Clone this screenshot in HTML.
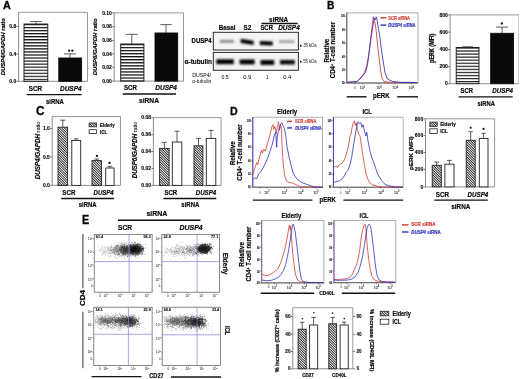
<!DOCTYPE html><html><head><meta charset="utf-8"><style>html,body{margin:0;padding:0;background:#fff;}svg{display:block;font-family:"Liberation Sans", sans-serif;}</style></head><body>
<svg width="520" height="379" viewBox="0 0 520 379">
<defs><pattern id="stripe" patternUnits="userSpaceOnUse" x="0" y="0.3" width="4" height="3.05"><rect width="4" height="3.05" fill="#fff"/><rect y="0" width="4" height="1.2" fill="#111"/></pattern><pattern id="hatch" patternUnits="userSpaceOnUse" width="1.75" height="4" patternTransform="rotate(-45)"><rect width="1.75" height="4" fill="#fff"/><rect width="0.85" height="4" fill="#1a1a1a"/></pattern><filter id="blur1" x="-50%" y="-50%" width="200%" height="200%"><feGaussianBlur stdDeviation="1.6"/></filter><filter id="blur2" x="-50%" y="-50%" width="200%" height="200%" color-interpolation-filters="sRGB"><feGaussianBlur stdDeviation="2.6"/></filter><filter id="bandblur" x="-20%" y="-80%" width="140%" height="260%" color-interpolation-filters="sRGB"><feGaussianBlur stdDeviation="0.85"/></filter><filter id="gs" x="0" y="0" width="100%" height="100%" color-interpolation-filters="sRGB"><feOffset dx="0" dy="0"/></filter><filter id="soft" x="-5%" y="-5%" width="110%" height="110%"><feGaussianBlur stdDeviation="0.35"/></filter></defs>
<rect width="520" height="379" fill="#fff"/>
<g filter="url(#gs)">
<text x="2.9" y="8.79" font-size="10.6" font-weight="bold" textLength="7.8" lengthAdjust="spacingAndGlyphs" stroke="#111" stroke-width="0.3">A</text>
<line x1="18.6" y1="12.3" x2="87.5" y2="12.3" stroke="#999" stroke-width="1"/>
<line x1="87.5" y1="12.3" x2="87.5" y2="81.3" stroke="#999" stroke-width="1"/>
<line x1="18.6" y1="12.3" x2="18.6" y2="81.3" stroke="#808080" stroke-width="0.9"/>
<line x1="18.6" y1="81.3" x2="87.5" y2="81.3" stroke="#808080" stroke-width="0.9"/>
<line x1="16.6" y1="81.3" x2="18.6" y2="81.3" stroke="#555" stroke-width="0.8"/>
<text x="16.3" y="83.09" font-size="5" font-weight="bold" text-anchor="end" stroke="#111" stroke-width="0.12">0.0</text>
<line x1="16.6" y1="54" x2="18.6" y2="54" stroke="#555" stroke-width="0.8"/>
<text x="16.3" y="55.79" font-size="5" font-weight="bold" text-anchor="end" stroke="#111" stroke-width="0.12">0.4</text>
<line x1="16.6" y1="26.5" x2="18.6" y2="26.5" stroke="#555" stroke-width="0.8"/>
<text x="16.3" y="28.29" font-size="5" font-weight="bold" text-anchor="end" stroke="#111" stroke-width="0.12">0.8</text>
<text transform="translate(5.25 75.3) rotate(-90)" x="0" y="0" font-size="6" font-weight="bold" stroke="#111" stroke-width="0.22" textLength="57.3" lengthAdjust="spacingAndGlyphs"><tspan font-style="italic">DUSP4/GAPDH</tspan> ratio</text>
<pattern id="st1" patternUnits="userSpaceOnUse" x="0" y="23.9" width="4" height="3.05"><rect width="4" height="3.05" fill="#fff"/><rect y="0" width="4" height="1.2" fill="#111"/></pattern>
<rect x="24" y="24" width="23.8" height="57.3" fill="url(#st1)" stroke="#111" stroke-width="0.9"/>
<line x1="36" y1="24" x2="36" y2="21.5" stroke="#333" stroke-width="0.8"/>
<line x1="30" y1="21.5" x2="42" y2="21.5" stroke="#333" stroke-width="0.8"/>
<rect x="58.8" y="58" width="22.8" height="23.3" fill="#0a0a0a" stroke="#0a0a0a" stroke-width="0.9"/>
<line x1="70" y1="58" x2="70" y2="53.9" stroke="#333" stroke-width="0.8"/>
<line x1="64" y1="53.9" x2="76" y2="53.9" stroke="#333" stroke-width="0.8"/>
<circle cx="69.2" cy="50.7" r="1.15" fill="#111"/>
<circle cx="72.4" cy="50.7" r="1.15" fill="#111"/>
<text x="28.7" y="90.96" font-size="6.6" font-weight="bold" stroke="#111" stroke-width="0.18" textLength="13.3" lengthAdjust="spacingAndGlyphs">SCR</text>
<text x="60" y="90.96" font-size="6.6" font-weight="bold" font-style="italic" stroke="#111" stroke-width="0.18" textLength="21.6" lengthAdjust="spacingAndGlyphs">DUSP4</text>
<line x1="26.7" y1="94.6" x2="81.6" y2="94.6" stroke="#111" stroke-width="1.4"/>
<text x="46" y="103.66" font-size="6.6" font-weight="bold" stroke="#111" stroke-width="0.18" textLength="17.8" lengthAdjust="spacingAndGlyphs">siRNA</text>
<line x1="114.2" y1="12.9" x2="183.5" y2="12.9" stroke="#999" stroke-width="1"/>
<line x1="183.5" y1="12.9" x2="183.5" y2="81.1" stroke="#999" stroke-width="1"/>
<line x1="114.2" y1="12.9" x2="114.2" y2="81.1" stroke="#808080" stroke-width="0.9"/>
<line x1="114.2" y1="81.1" x2="183.5" y2="81.1" stroke="#808080" stroke-width="0.9"/>
<line x1="112.2" y1="81.1" x2="114.2" y2="81.1" stroke="#555" stroke-width="0.8"/>
<text x="111.9" y="82.89" font-size="5" font-weight="bold" text-anchor="end" stroke="#111" stroke-width="0.12">0.00</text>
<line x1="112.2" y1="67.3" x2="114.2" y2="67.3" stroke="#555" stroke-width="0.8"/>
<text x="111.9" y="69.09" font-size="5" font-weight="bold" text-anchor="end" stroke="#111" stroke-width="0.12">0.02</text>
<line x1="112.2" y1="53.9" x2="114.2" y2="53.9" stroke="#555" stroke-width="0.8"/>
<text x="111.9" y="55.69" font-size="5" font-weight="bold" text-anchor="end" stroke="#111" stroke-width="0.12">0.04</text>
<line x1="112.2" y1="40.6" x2="114.2" y2="40.6" stroke="#555" stroke-width="0.8"/>
<text x="111.9" y="42.39" font-size="5" font-weight="bold" text-anchor="end" stroke="#111" stroke-width="0.12">0.06</text>
<line x1="112.2" y1="26.7" x2="114.2" y2="26.7" stroke="#555" stroke-width="0.8"/>
<text x="111.9" y="28.49" font-size="5" font-weight="bold" text-anchor="end" stroke="#111" stroke-width="0.12">0.08</text>
<line x1="112.2" y1="12.9" x2="114.2" y2="12.9" stroke="#555" stroke-width="0.8"/>
<text x="111.9" y="14.69" font-size="5" font-weight="bold" text-anchor="end" stroke="#111" stroke-width="0.12">0.10</text>
<text transform="translate(96.55 75.3) rotate(-90)" x="0" y="0" font-size="6" font-weight="bold" stroke="#111" stroke-width="0.22" textLength="56.9" lengthAdjust="spacingAndGlyphs"><tspan font-style="italic">DUSP6/GAPDH</tspan> ratio</text>
<pattern id="st2" patternUnits="userSpaceOnUse" x="0" y="43.9" width="4" height="3.05"><rect width="4" height="3.05" fill="#fff"/><rect y="0" width="4" height="1.2" fill="#111"/></pattern>
<rect x="120.7" y="44" width="23.2" height="37.1" fill="url(#st2)" stroke="#111" stroke-width="0.9"/>
<line x1="131.8" y1="44" x2="131.8" y2="34.3" stroke="#333" stroke-width="0.8"/>
<line x1="125.7" y1="34.3" x2="137.9" y2="34.3" stroke="#333" stroke-width="0.8"/>
<rect x="155" y="33" width="22.7" height="48.1" fill="#0a0a0a" stroke="#0a0a0a" stroke-width="0.9"/>
<line x1="166" y1="33" x2="166" y2="24.6" stroke="#333" stroke-width="0.8"/>
<line x1="160.3" y1="24.6" x2="171.7" y2="24.6" stroke="#333" stroke-width="0.8"/>
<text x="124" y="90.36" font-size="6.6" font-weight="bold" stroke="#111" stroke-width="0.18" textLength="13" lengthAdjust="spacingAndGlyphs">SCR</text>
<text x="155.3" y="90.36" font-size="6.6" font-weight="bold" font-style="italic" stroke="#111" stroke-width="0.18" textLength="21.7" lengthAdjust="spacingAndGlyphs">DUSP4</text>
<line x1="122.7" y1="94" x2="176" y2="94" stroke="#111" stroke-width="1.4"/>
<text x="139" y="102.76" font-size="6.6" font-weight="bold" stroke="#111" stroke-width="0.18" textLength="20" lengthAdjust="spacingAndGlyphs">siRNA</text>
<text x="269.1" y="21.66" font-size="6.6" font-weight="bold" stroke="#111" stroke-width="0.18" textLength="19.1" lengthAdjust="spacingAndGlyphs">siRNA</text>
<line x1="261.5" y1="23.5" x2="297.7" y2="23.5" stroke="#111" stroke-width="1.4"/>
<text x="218.7" y="30.36" font-size="6.6" font-weight="bold" stroke="#111" stroke-width="0.18" textLength="16.7" lengthAdjust="spacingAndGlyphs">Basal</text>
<text x="243.5" y="30.36" font-size="6.6" font-weight="bold" stroke="#111" stroke-width="0.18" textLength="7.8" lengthAdjust="spacingAndGlyphs">S2</text>
<text x="260.4" y="30.36" font-size="6.6" font-weight="bold" stroke="#111" stroke-width="0.18" textLength="12.6" lengthAdjust="spacingAndGlyphs">SCR</text>
<text x="278.2" y="30.36" font-size="6.6" font-weight="bold" font-style="italic" stroke="#111" stroke-width="0.18" textLength="21.6" lengthAdjust="spacingAndGlyphs">DUSP4</text>
<rect x="213.3" y="32.3" width="85.1" height="17.7" fill="#f5f5f5" stroke="#2a2a2a" stroke-width="1"/>
<rect x="213.3" y="52.4" width="85.1" height="17.9" fill="#f3f3f3" stroke="#2a2a2a" stroke-width="1"/>
<path d="M219.8 40 L233.8 40 L233.8 42.8 L219.8 42.8 Z" fill="#888" filter="url(#bandblur)"/>
<path d="M240.6 38.7 L253.6 40.7 L253.6 44.9 L240.6 42.9 Z" fill="#050505" filter="url(#bandblur)"/>
<path d="M259.8 41.1 L272.7 41.5 L272.7 45.5 L259.8 45.1 Z" fill="#000" filter="url(#bandblur)"/>
<path d="M279 40.25 L294.3 40.25 L294.3 42.95 L279 42.95 Z" fill="#a0a0a0" filter="url(#bandblur)"/>
<path d="M216.3 59.25 L233.8 59.25 L233.8 64.15 L216.3 64.15 Z" fill="#000" filter="url(#bandblur)"/>
<path d="M239.6 59.45 L254.6 59.45 L254.6 64.35 L239.6 64.35 Z" fill="#000" filter="url(#bandblur)"/>
<path d="M260.5 60.05 L274.2 60.05 L274.2 64.95 L260.5 64.95 Z" fill="#000" filter="url(#bandblur)"/>
<path d="M280 59.95 L294.8 59.95 L294.8 64.45 L280 64.45 Z" fill="#080808" filter="url(#bandblur)"/>
<text x="191.6" y="43.09" font-size="6.4" font-weight="bold" stroke="#111" stroke-width="0.18" textLength="20.1" lengthAdjust="spacingAndGlyphs">DUSP4</text>
<text x="184.6" y="63.59" font-size="6.4" font-weight="bold" stroke="#111" stroke-width="0.18" textLength="27.4" lengthAdjust="spacingAndGlyphs">&#945;-tubulin</text>
<text x="300.4" y="47.15" font-size="4.6" fill="#222" textLength="16.3" lengthAdjust="spacingAndGlyphs">&#9656;35 kDa</text>
<text x="300.4" y="63.45" font-size="4.6" fill="#222" textLength="16.3" lengthAdjust="spacingAndGlyphs">&#9656;55 kDa</text>
<text x="192.2" y="77.1" font-size="5.3" textLength="18.8" lengthAdjust="spacingAndGlyphs">DUSP4/</text>
<text x="192.2" y="82.9" font-size="5.3" textLength="19.2" lengthAdjust="spacingAndGlyphs">&#945;-tubulin</text>
<text x="221.5" y="78.8" font-size="5.3" textLength="7.3" lengthAdjust="spacingAndGlyphs">0.5</text>
<text x="243.2" y="78.7" font-size="5.3" textLength="8.1" lengthAdjust="spacingAndGlyphs">0.9</text>
<text x="265.9" y="78.7" font-size="5.3" textLength="2.5" lengthAdjust="spacingAndGlyphs">1</text>
<text x="283.3" y="78.7" font-size="5.3" textLength="8" lengthAdjust="spacingAndGlyphs">0.4</text>
<text x="327.1" y="8.89" font-size="10.6" font-weight="bold" textLength="7.4" lengthAdjust="spacingAndGlyphs" stroke="#111" stroke-width="0.3">B</text>
<rect x="346.8" y="12.9" width="71.2" height="70.1" fill="none" stroke="#999" stroke-width="0.8"/>
<line x1="346.8" y1="12.9" x2="346.8" y2="83" stroke="#555" stroke-width="0.9"/>
<line x1="346.8" y1="83" x2="418" y2="83" stroke="#555" stroke-width="0.9"/>
<line x1="345.3" y1="83" x2="346.8" y2="83" stroke="#555" stroke-width="0.7"/>
<text x="342.12" y="84.29" font-size="3.6" font-weight="bold" textLength="2.68" lengthAdjust="spacingAndGlyphs" stroke="#333" stroke-width="0.1">0</text>
<line x1="345.3" y1="69.7" x2="346.8" y2="69.7" stroke="#555" stroke-width="0.7"/>
<text x="342.12" y="70.99" font-size="3.6" font-weight="bold" textLength="2.68" lengthAdjust="spacingAndGlyphs" stroke="#333" stroke-width="0.1">20</text>
<line x1="345.3" y1="56.4" x2="346.8" y2="56.4" stroke="#555" stroke-width="0.7"/>
<text x="342.12" y="57.69" font-size="3.6" font-weight="bold" textLength="2.68" lengthAdjust="spacingAndGlyphs" stroke="#333" stroke-width="0.1">40</text>
<line x1="345.3" y1="43.2" x2="346.8" y2="43.2" stroke="#555" stroke-width="0.7"/>
<text x="342.12" y="44.49" font-size="3.6" font-weight="bold" textLength="2.68" lengthAdjust="spacingAndGlyphs" stroke="#333" stroke-width="0.1">60</text>
<line x1="345.3" y1="29.7" x2="346.8" y2="29.7" stroke="#555" stroke-width="0.7"/>
<text x="342.12" y="30.99" font-size="3.6" font-weight="bold" textLength="2.68" lengthAdjust="spacingAndGlyphs" stroke="#333" stroke-width="0.1">80</text>
<line x1="345.3" y1="16.2" x2="346.8" y2="16.2" stroke="#555" stroke-width="0.7"/>
<text x="340.8" y="17.49" font-size="3.6" font-weight="bold" textLength="4" lengthAdjust="spacingAndGlyphs" stroke="#333" stroke-width="0.1">100</text>
<line x1="355.2" y1="83" x2="355.2" y2="84.5" stroke="#555" stroke-width="0.7"/>
<line x1="362.6" y1="83" x2="362.6" y2="84.5" stroke="#555" stroke-width="0.7"/>
<line x1="379" y1="83" x2="379" y2="84.5" stroke="#555" stroke-width="0.7"/>
<line x1="395.2" y1="83" x2="395.2" y2="84.5" stroke="#555" stroke-width="0.7"/>
<line x1="411.5" y1="83" x2="411.5" y2="84.5" stroke="#555" stroke-width="0.7"/>
<text x="354.3" y="89.39" font-size="3.6" fill="#333" textLength="1.8" lengthAdjust="spacingAndGlyphs">0</text>
<text x="362.6" y="89.4" font-size="3.6" fill="#333" stroke="#333" stroke-width="0.1" text-anchor="middle">10<tspan dy="-1.4" font-size="2.6">2</tspan></text>
<text x="379" y="89.4" font-size="3.6" fill="#333" stroke="#333" stroke-width="0.1" text-anchor="middle">10<tspan dy="-1.4" font-size="2.6">3</tspan></text>
<text x="395.2" y="89.4" font-size="3.6" fill="#333" stroke="#333" stroke-width="0.1" text-anchor="middle">10<tspan dy="-1.4" font-size="2.6">4</tspan></text>
<text x="411.5" y="89.4" font-size="3.6" fill="#333" stroke="#333" stroke-width="0.1" text-anchor="middle">10<tspan dy="-1.4" font-size="2.6">5</tspan></text>
<text transform="translate(328.69 62.5) rotate(-90)" x="0" y="0" font-size="6.4" font-weight="bold" stroke="#111" stroke-width="0.22" textLength="23.8" lengthAdjust="spacingAndGlyphs">Relative</text>
<text transform="translate(334.83 78.3) rotate(-90)" x="0" y="0" font-size="6.8" font-weight="bold" stroke="#111" stroke-width="0.22" textLength="56.4" lengthAdjust="spacingAndGlyphs">CD4<tspan font-size="4.2" dy="-1.8">+</tspan><tspan dy="1.8"> T-cell number</tspan></text>
<path d="M347 82.3 L356.7 81.6 L359 79.5 L361.6 76.5 L364.5 72.5 L366.5 66.7 L368.4 56.9 L370.4 41.3 L372 27.6 L373 18.8 L373.3 16.9 L374.3 19.8 L375.2 24 L376.3 31.5 L377.8 47.2 L379.2 58.9 L380.7 70.6 L382.1 78.4 L384 81.6 L390 82.3 L417 82.5" fill="none" stroke="#d03a30" stroke-width="0.85" stroke-linejoin="round"/>
<path d="M347 82.3 L356.7 81.6 L360.6 78.4 L363.6 74.5 L365.5 72.5 L367.5 64.7 L369.4 51.1 L371.4 35.4 L373.3 23.7 L374.3 17.9 L375.3 19.8 L376.3 16.9 L377.2 20.8 L378.6 29.6 L379.8 36.4 L381.1 47.2 L383.1 60.8 L385 72.5 L387 78.4 L389.9 80.3 L392.9 81.6 L400 82.3 L417 82.5" fill="none" stroke="#3030c0" stroke-width="0.85" stroke-linejoin="round"/>
<line x1="380.4" y1="17.8" x2="386.3" y2="17.8" stroke="#d03a30" stroke-width="1.4"/>
<text x="388.3" y="19.66" font-size="5.2" font-weight="bold" fill="#d03a30" stroke="#d03a30" stroke-width="0.18" textLength="21.7" lengthAdjust="spacingAndGlyphs">SCR siRNA</text>
<line x1="380.4" y1="25.1" x2="386.3" y2="25.1" stroke="#3030c0" stroke-width="1.4"/>
<text x="388.3" y="26.96" font-size="5.2" font-weight="bold" fill="#3030c0" stroke="#3030c0" stroke-width="0.18" textLength="27.3" lengthAdjust="spacingAndGlyphs"><tspan font-style="italic">DUSP4</tspan> siRNA</text>
<text x="373" y="98.23" font-size="6.8" font-weight="bold" stroke="#111" stroke-width="0.18" textLength="16.7" lengthAdjust="spacingAndGlyphs">pERK</text>
<line x1="346.7" y1="96.8" x2="366.5" y2="96.8" stroke="#111" stroke-width="1.4"/>
<line x1="397.2" y1="96.8" x2="418" y2="96.8" stroke="#111" stroke-width="1.4"/>
<line x1="450.1" y1="14.9" x2="519" y2="14.9" stroke="#999" stroke-width="1"/>
<line x1="519" y1="14.9" x2="519" y2="83.7" stroke="#999" stroke-width="1"/>
<line x1="450.1" y1="14.9" x2="450.1" y2="83.7" stroke="#808080" stroke-width="0.9"/>
<line x1="450.1" y1="83.7" x2="519" y2="83.7" stroke="#808080" stroke-width="0.9"/>
<line x1="448.1" y1="83.7" x2="450.1" y2="83.7" stroke="#555" stroke-width="0.8"/>
<text x="447.8" y="85.49" font-size="5" font-weight="bold" text-anchor="end" stroke="#111" stroke-width="0.12">0</text>
<line x1="448.1" y1="66.7" x2="450.1" y2="66.7" stroke="#555" stroke-width="0.8"/>
<text x="447.8" y="68.49" font-size="5" font-weight="bold" text-anchor="end" stroke="#111" stroke-width="0.12">200</text>
<line x1="448.1" y1="49.5" x2="450.1" y2="49.5" stroke="#555" stroke-width="0.8"/>
<text x="447.8" y="51.29" font-size="5" font-weight="bold" text-anchor="end" stroke="#111" stroke-width="0.12">400</text>
<line x1="448.1" y1="32.1" x2="450.1" y2="32.1" stroke="#555" stroke-width="0.8"/>
<text x="447.8" y="33.89" font-size="5" font-weight="bold" text-anchor="end" stroke="#111" stroke-width="0.12">600</text>
<line x1="448.1" y1="14.9" x2="450.1" y2="14.9" stroke="#555" stroke-width="0.8"/>
<text x="447.8" y="16.69" font-size="5" font-weight="bold" text-anchor="end" stroke="#111" stroke-width="0.12">800</text>
<text transform="translate(434.39 62.9) rotate(-90)" x="0" y="0" font-size="6.4" font-weight="bold" stroke="#111" stroke-width="0.22" textLength="29.2" lengthAdjust="spacingAndGlyphs">pERK (MFI)</text>
<pattern id="st3" patternUnits="userSpaceOnUse" x="0" y="47.4" width="4" height="3.05"><rect width="4" height="3.05" fill="#fff"/><rect y="0" width="4" height="1.2" fill="#111"/></pattern>
<rect x="456.2" y="47.5" width="22.8" height="36.2" fill="url(#st3)" stroke="#111" stroke-width="0.9"/>
<line x1="467.6" y1="47.5" x2="467.6" y2="46.8" stroke="#333" stroke-width="0.8"/>
<line x1="462.1" y1="46.8" x2="473.1" y2="46.8" stroke="#333" stroke-width="0.8"/>
<rect x="490.7" y="33.3" width="22.8" height="50.4" fill="#0a0a0a" stroke="#0a0a0a" stroke-width="0.9"/>
<line x1="502.1" y1="33.3" x2="502.1" y2="27.1" stroke="#333" stroke-width="0.8"/>
<line x1="496.1" y1="27.1" x2="508.1" y2="27.1" stroke="#333" stroke-width="0.8"/>
<circle cx="501.8" cy="23.5" r="1.15" fill="#111"/>
<text x="460.6" y="93.36" font-size="6.6" font-weight="bold" stroke="#111" stroke-width="0.18" textLength="12.4" lengthAdjust="spacingAndGlyphs">SCR</text>
<text x="492.3" y="93.36" font-size="6.6" font-weight="bold" font-style="italic" stroke="#111" stroke-width="0.18" textLength="20.7" lengthAdjust="spacingAndGlyphs">DUSP4</text>
<line x1="458.6" y1="96.9" x2="512.7" y2="96.9" stroke="#111" stroke-width="1.4"/>
<text x="477.4" y="105.66" font-size="6.6" font-weight="bold" stroke="#111" stroke-width="0.18" textLength="17.5" lengthAdjust="spacingAndGlyphs">siRNA</text>
<text x="35.9" y="115.4" font-size="12" font-weight="bold" textLength="8.6" lengthAdjust="spacingAndGlyphs" stroke="#111" stroke-width="0.3">C</text>
<line x1="52.2" y1="116.6" x2="120.5" y2="116.6" stroke="#999" stroke-width="1"/>
<line x1="120.5" y1="116.6" x2="120.5" y2="185.4" stroke="#999" stroke-width="1"/>
<line x1="52.2" y1="116.6" x2="52.2" y2="185.4" stroke="#808080" stroke-width="0.9"/>
<line x1="52.2" y1="185.4" x2="120.5" y2="185.4" stroke="#808080" stroke-width="0.9"/>
<line x1="50.2" y1="185.4" x2="52.2" y2="185.4" stroke="#555" stroke-width="0.8"/>
<text x="49.9" y="187.19" font-size="5" font-weight="bold" text-anchor="end" stroke="#111" stroke-width="0.12">0.0</text>
<line x1="50.2" y1="156.8" x2="52.2" y2="156.8" stroke="#555" stroke-width="0.8"/>
<text x="49.9" y="158.59" font-size="5" font-weight="bold" text-anchor="end" stroke="#111" stroke-width="0.12">0.5</text>
<line x1="50.2" y1="128.7" x2="52.2" y2="128.7" stroke="#555" stroke-width="0.8"/>
<text x="49.9" y="130.49" font-size="5" font-weight="bold" text-anchor="end" stroke="#111" stroke-width="0.12">1.0</text>
<text transform="translate(39.86 179.3) rotate(-90)" x="0" y="0" font-size="6.3" font-weight="bold" stroke="#111" stroke-width="0.22" textLength="57.7" lengthAdjust="spacingAndGlyphs"><tspan font-style="italic">DUSP4/GAPDH</tspan><tspan font-weight="normal" font-size="5.6" stroke-width="0.05"> ratio</tspan></text>
<rect x="58" y="127.2" width="9.6" height="58.2" fill="url(#hatch)" stroke="#222" stroke-width="0.9"/>
<line x1="62.8" y1="127.2" x2="62.8" y2="120.2" stroke="#333" stroke-width="0.8"/>
<line x1="60.2" y1="120.2" x2="65.4" y2="120.2" stroke="#333" stroke-width="0.8"/>
<rect x="71.8" y="140.5" width="8.9" height="44.9" fill="#fff" stroke="#222" stroke-width="0.9"/>
<line x1="76.2" y1="140.5" x2="76.2" y2="138.8" stroke="#333" stroke-width="0.8"/>
<line x1="73.8" y1="138.8" x2="78.6" y2="138.8" stroke="#333" stroke-width="0.8"/>
<rect x="92" y="160.6" width="9.4" height="24.8" fill="url(#hatch)" stroke="#222" stroke-width="0.9"/>
<line x1="96.7" y1="160.6" x2="96.7" y2="159" stroke="#333" stroke-width="0.8"/>
<line x1="94.3" y1="159" x2="99.1" y2="159" stroke="#333" stroke-width="0.8"/>
<rect x="105.7" y="168" width="8.4" height="17.4" fill="#fff" stroke="#222" stroke-width="0.9"/>
<line x1="109.9" y1="168" x2="109.9" y2="166.3" stroke="#333" stroke-width="0.8"/>
<line x1="107.5" y1="166.3" x2="112.3" y2="166.3" stroke="#333" stroke-width="0.8"/>
<circle cx="96.9" cy="155.9" r="1.15" fill="#111"/>
<circle cx="109.5" cy="162.9" r="1.15" fill="#111"/>
<rect x="89.1" y="123" width="7.4" height="3.8" fill="url(#hatch)" stroke="#222" stroke-width="0.8"/>
<rect x="89.1" y="129.7" width="7.4" height="3.9" fill="#fff" stroke="#222" stroke-width="0.8"/>
<text x="100" y="127.08" font-size="5.8" font-weight="bold" stroke="#111" stroke-width="0.18" textLength="14.6" lengthAdjust="spacingAndGlyphs">Elderly</text>
<text x="100" y="133.68" font-size="5.8" font-weight="bold" stroke="#111" stroke-width="0.18" textLength="7.2" lengthAdjust="spacingAndGlyphs">ICL</text>
<text x="62.3" y="194.76" font-size="6.6" font-weight="bold" stroke="#111" stroke-width="0.18" textLength="13.1" lengthAdjust="spacingAndGlyphs">SCR</text>
<text x="93.6" y="194.76" font-size="6.6" font-weight="bold" font-style="italic" stroke="#111" stroke-width="0.18" textLength="20.1" lengthAdjust="spacingAndGlyphs">DUSP4</text>
<line x1="61.3" y1="198.5" x2="114.1" y2="198.5" stroke="#111" stroke-width="1.4"/>
<text x="78.8" y="206.56" font-size="6.6" font-weight="bold" stroke="#111" stroke-width="0.18" textLength="17.8" lengthAdjust="spacingAndGlyphs">siRNA</text>
<line x1="153.4" y1="117.6" x2="221.1" y2="117.6" stroke="#999" stroke-width="1"/>
<line x1="221.1" y1="117.6" x2="221.1" y2="185.4" stroke="#999" stroke-width="1"/>
<line x1="153.4" y1="117.6" x2="153.4" y2="185.4" stroke="#808080" stroke-width="0.9"/>
<line x1="153.4" y1="185.4" x2="221.1" y2="185.4" stroke="#808080" stroke-width="0.9"/>
<line x1="151.4" y1="185.4" x2="153.4" y2="185.4" stroke="#555" stroke-width="0.8"/>
<text x="151.1" y="187.19" font-size="5" font-weight="bold" text-anchor="end" stroke="#111" stroke-width="0.12">0.00</text>
<line x1="151.4" y1="168.5" x2="153.4" y2="168.5" stroke="#555" stroke-width="0.8"/>
<text x="151.1" y="170.29" font-size="5" font-weight="bold" text-anchor="end" stroke="#111" stroke-width="0.12">0.02</text>
<line x1="151.4" y1="151.5" x2="153.4" y2="151.5" stroke="#555" stroke-width="0.8"/>
<text x="151.1" y="153.29" font-size="5" font-weight="bold" text-anchor="end" stroke="#111" stroke-width="0.12">0.04</text>
<line x1="151.4" y1="134.6" x2="153.4" y2="134.6" stroke="#555" stroke-width="0.8"/>
<text x="151.1" y="136.39" font-size="5" font-weight="bold" text-anchor="end" stroke="#111" stroke-width="0.12">0.06</text>
<line x1="151.4" y1="117.7" x2="153.4" y2="117.7" stroke="#555" stroke-width="0.8"/>
<text x="151.1" y="119.49" font-size="5" font-weight="bold" text-anchor="end" stroke="#111" stroke-width="0.12">0.08</text>
<text transform="translate(136.66 178.3) rotate(-90)" x="0" y="0" font-size="6.3" font-weight="bold" stroke="#111" stroke-width="0.22" textLength="56.7" lengthAdjust="spacingAndGlyphs"><tspan font-style="italic">DUSP6/GAPDH</tspan><tspan font-weight="normal" font-size="5.6" stroke-width="0.05"> ratio</tspan></text>
<rect x="159.6" y="148.4" width="9.5" height="37" fill="url(#hatch)" stroke="#222" stroke-width="0.9"/>
<line x1="164.3" y1="148.4" x2="164.3" y2="142.4" stroke="#333" stroke-width="0.8"/>
<line x1="161.8" y1="142.4" x2="166.8" y2="142.4" stroke="#333" stroke-width="0.8"/>
<rect x="172.3" y="142" width="9.5" height="43.4" fill="#fff" stroke="#222" stroke-width="0.9"/>
<line x1="177" y1="142" x2="177" y2="131.2" stroke="#333" stroke-width="0.8"/>
<line x1="174.5" y1="131.2" x2="179.5" y2="131.2" stroke="#333" stroke-width="0.8"/>
<rect x="194" y="145.8" width="8.9" height="39.6" fill="url(#hatch)" stroke="#222" stroke-width="0.9"/>
<line x1="198.5" y1="145.8" x2="198.5" y2="138.4" stroke="#333" stroke-width="0.8"/>
<line x1="196.1" y1="138.4" x2="200.9" y2="138.4" stroke="#333" stroke-width="0.8"/>
<rect x="206.3" y="138.4" width="9.5" height="47" fill="#fff" stroke="#222" stroke-width="0.9"/>
<line x1="211" y1="138.4" x2="211" y2="130.4" stroke="#333" stroke-width="0.8"/>
<line x1="208.5" y1="130.4" x2="213.5" y2="130.4" stroke="#333" stroke-width="0.8"/>
<text x="164.4" y="194.76" font-size="6.6" font-weight="bold" stroke="#111" stroke-width="0.18" textLength="12.7" lengthAdjust="spacingAndGlyphs">SCR</text>
<text x="195.7" y="194.76" font-size="6.6" font-weight="bold" font-style="italic" stroke="#111" stroke-width="0.18" textLength="20.6" lengthAdjust="spacingAndGlyphs">DUSP4</text>
<line x1="163.4" y1="198.5" x2="216.3" y2="198.5" stroke="#111" stroke-width="1.4"/>
<text x="181.3" y="206.56" font-size="6.6" font-weight="bold" stroke="#111" stroke-width="0.18" textLength="18" lengthAdjust="spacingAndGlyphs">siRNA</text>
<text x="230" y="114.72" font-size="11.5" font-weight="bold" textLength="7.7" lengthAdjust="spacingAndGlyphs" stroke="#111" stroke-width="0.3">D</text>
<text x="277.1" y="113.51" font-size="7" font-weight="bold" stroke="#111" stroke-width="0.18" textLength="20.1" lengthAdjust="spacingAndGlyphs">Elderly</text>
<text x="362.5" y="113.51" font-size="7" font-weight="bold" stroke="#111" stroke-width="0.18" textLength="9.3" lengthAdjust="spacingAndGlyphs">ICL</text>
<rect x="252.8" y="117.2" width="69.6" height="70" fill="none" stroke="#999" stroke-width="0.8"/>
<line x1="252.8" y1="117.2" x2="252.8" y2="187.2" stroke="#3030c0" stroke-width="0.9"/>
<line x1="252.8" y1="187.2" x2="322.4" y2="187.2" stroke="#555" stroke-width="0.9"/>
<line x1="251.3" y1="187.2" x2="252.8" y2="187.2" stroke="#555" stroke-width="0.7"/>
<text x="248.12" y="188.49" font-size="3.6" font-weight="bold" textLength="2.68" lengthAdjust="spacingAndGlyphs" stroke="#333" stroke-width="0.1">0</text>
<line x1="251.3" y1="174" x2="252.8" y2="174" stroke="#555" stroke-width="0.7"/>
<text x="248.12" y="175.29" font-size="3.6" font-weight="bold" textLength="2.68" lengthAdjust="spacingAndGlyphs" stroke="#333" stroke-width="0.1">20</text>
<line x1="251.3" y1="160.7" x2="252.8" y2="160.7" stroke="#555" stroke-width="0.7"/>
<text x="248.12" y="161.99" font-size="3.6" font-weight="bold" textLength="2.68" lengthAdjust="spacingAndGlyphs" stroke="#333" stroke-width="0.1">40</text>
<line x1="251.3" y1="147" x2="252.8" y2="147" stroke="#555" stroke-width="0.7"/>
<text x="248.12" y="148.29" font-size="3.6" font-weight="bold" textLength="2.68" lengthAdjust="spacingAndGlyphs" stroke="#333" stroke-width="0.1">60</text>
<line x1="251.3" y1="133.8" x2="252.8" y2="133.8" stroke="#555" stroke-width="0.7"/>
<text x="248.12" y="135.09" font-size="3.6" font-weight="bold" textLength="2.68" lengthAdjust="spacingAndGlyphs" stroke="#333" stroke-width="0.1">80</text>
<line x1="251.3" y1="120.5" x2="252.8" y2="120.5" stroke="#555" stroke-width="0.7"/>
<text x="246.8" y="121.79" font-size="3.6" font-weight="bold" textLength="4" lengthAdjust="spacingAndGlyphs" stroke="#333" stroke-width="0.1">100</text>
<line x1="260.2" y1="187.2" x2="260.2" y2="188.7" stroke="#555" stroke-width="0.7"/>
<line x1="267" y1="187.2" x2="267" y2="188.7" stroke="#555" stroke-width="0.7"/>
<line x1="284.5" y1="187.2" x2="284.5" y2="188.7" stroke="#555" stroke-width="0.7"/>
<line x1="300.8" y1="187.2" x2="300.8" y2="188.7" stroke="#555" stroke-width="0.7"/>
<line x1="316.3" y1="187.2" x2="316.3" y2="188.7" stroke="#555" stroke-width="0.7"/>
<text x="259.3" y="193.59" font-size="3.6" fill="#333" textLength="1.8" lengthAdjust="spacingAndGlyphs">0</text>
<text x="267" y="193.6" font-size="3.6" fill="#333" stroke="#333" stroke-width="0.1" text-anchor="middle">10<tspan dy="-1.4" font-size="2.6">2</tspan></text>
<text x="284.5" y="193.6" font-size="3.6" fill="#333" stroke="#333" stroke-width="0.1" text-anchor="middle">10<tspan dy="-1.4" font-size="2.6">3</tspan></text>
<text x="300.8" y="193.6" font-size="3.6" fill="#333" stroke="#333" stroke-width="0.1" text-anchor="middle">10<tspan dy="-1.4" font-size="2.6">4</tspan></text>
<text x="316.3" y="193.6" font-size="3.6" fill="#333" stroke="#333" stroke-width="0.1" text-anchor="middle">10<tspan dy="-1.4" font-size="2.6">5</tspan></text>
<rect x="333.4" y="117.2" width="69.7" height="70" fill="none" stroke="#999" stroke-width="0.8"/>
<line x1="333.4" y1="117.2" x2="333.4" y2="187.2" stroke="#3030c0" stroke-width="0.9"/>
<line x1="333.4" y1="187.2" x2="403.1" y2="187.2" stroke="#555" stroke-width="0.9"/>
<line x1="331.9" y1="187.2" x2="333.4" y2="187.2" stroke="#555" stroke-width="0.7"/>
<text x="328.72" y="188.49" font-size="3.6" font-weight="bold" textLength="2.68" lengthAdjust="spacingAndGlyphs" stroke="#333" stroke-width="0.1">0</text>
<line x1="331.9" y1="174" x2="333.4" y2="174" stroke="#555" stroke-width="0.7"/>
<text x="328.72" y="175.29" font-size="3.6" font-weight="bold" textLength="2.68" lengthAdjust="spacingAndGlyphs" stroke="#333" stroke-width="0.1">20</text>
<line x1="331.9" y1="160.7" x2="333.4" y2="160.7" stroke="#555" stroke-width="0.7"/>
<text x="328.72" y="161.99" font-size="3.6" font-weight="bold" textLength="2.68" lengthAdjust="spacingAndGlyphs" stroke="#333" stroke-width="0.1">40</text>
<line x1="331.9" y1="147" x2="333.4" y2="147" stroke="#555" stroke-width="0.7"/>
<text x="328.72" y="148.29" font-size="3.6" font-weight="bold" textLength="2.68" lengthAdjust="spacingAndGlyphs" stroke="#333" stroke-width="0.1">60</text>
<line x1="331.9" y1="133.8" x2="333.4" y2="133.8" stroke="#555" stroke-width="0.7"/>
<text x="328.72" y="135.09" font-size="3.6" font-weight="bold" textLength="2.68" lengthAdjust="spacingAndGlyphs" stroke="#333" stroke-width="0.1">80</text>
<line x1="331.9" y1="120.5" x2="333.4" y2="120.5" stroke="#555" stroke-width="0.7"/>
<text x="327.4" y="121.79" font-size="3.6" font-weight="bold" textLength="4" lengthAdjust="spacingAndGlyphs" stroke="#333" stroke-width="0.1">100</text>
<line x1="340.7" y1="187.2" x2="340.7" y2="188.7" stroke="#555" stroke-width="0.7"/>
<line x1="347.7" y1="187.2" x2="347.7" y2="188.7" stroke="#555" stroke-width="0.7"/>
<line x1="364.6" y1="187.2" x2="364.6" y2="188.7" stroke="#555" stroke-width="0.7"/>
<line x1="380.9" y1="187.2" x2="380.9" y2="188.7" stroke="#555" stroke-width="0.7"/>
<line x1="396.7" y1="187.2" x2="396.7" y2="188.7" stroke="#555" stroke-width="0.7"/>
<text x="339.8" y="193.59" font-size="3.6" fill="#333" textLength="1.8" lengthAdjust="spacingAndGlyphs">0</text>
<text x="347.7" y="193.6" font-size="3.6" fill="#333" stroke="#333" stroke-width="0.1" text-anchor="middle">10<tspan dy="-1.4" font-size="2.6">2</tspan></text>
<text x="364.6" y="193.6" font-size="3.6" fill="#333" stroke="#333" stroke-width="0.1" text-anchor="middle">10<tspan dy="-1.4" font-size="2.6">3</tspan></text>
<text x="380.9" y="193.6" font-size="3.6" fill="#333" stroke="#333" stroke-width="0.1" text-anchor="middle">10<tspan dy="-1.4" font-size="2.6">4</tspan></text>
<text x="396.7" y="193.6" font-size="3.6" fill="#333" stroke="#333" stroke-width="0.1" text-anchor="middle">10<tspan dy="-1.4" font-size="2.6">5</tspan></text>
<text transform="translate(235.49 165.3) rotate(-90)" x="0" y="0" font-size="6.4" font-weight="bold" stroke="#111" stroke-width="0.22" textLength="24.1" lengthAdjust="spacingAndGlyphs">Relative</text>
<text transform="translate(241.73 180.7) rotate(-90)" x="0" y="0" font-size="6.8" font-weight="bold" stroke="#111" stroke-width="0.22" textLength="56.4" lengthAdjust="spacingAndGlyphs">CD4<tspan font-size="4.2" dy="-1.8">+</tspan><tspan dy="1.8"> T-cell number</tspan></text>
<line x1="287.1" y1="121.4" x2="292.1" y2="121.4" stroke="#d03a30" stroke-width="1.4"/>
<text x="295.1" y="123.06" font-size="5.2" font-weight="bold" fill="#d03a30" stroke="#d03a30" stroke-width="0.18" textLength="21.2" lengthAdjust="spacingAndGlyphs">SCR siRNA</text>
<line x1="287.1" y1="127.9" x2="292.1" y2="127.9" stroke="#3030c0" stroke-width="1.4"/>
<text x="295.2" y="129.76" font-size="5.2" font-weight="bold" fill="#3030c0" stroke="#3030c0" stroke-width="0.18" textLength="26.5" lengthAdjust="spacingAndGlyphs"><tspan font-style="italic">DUSP4</tspan> siRNA</text>
<line x1="252.8" y1="200.1" x2="312.4" y2="200.1" stroke="#111" stroke-width="1.4"/>
<line x1="343.4" y1="200.1" x2="403.1" y2="200.1" stroke="#111" stroke-width="1.4"/>
<text x="319.5" y="201.93" font-size="6.8" font-weight="bold" stroke="#111" stroke-width="0.18" textLength="16.3" lengthAdjust="spacingAndGlyphs">pERK</text>
<path d="M253 174 L254.8 168.3 L256.7 162.6 L257.7 164.5 L259.6 156.9 L261.5 150.2 L262.4 153.1 L263.8 149.3 L265.3 151.2 L267.2 144.5 L269.1 137.9 L270.6 132.2 L271.9 126.5 L272.9 124.6 L273.8 129.3 L274.8 126.5 L276.3 133.1 L277.3 126.5 L278.6 121.7 L279.5 130.3 L280.5 124.6 L281.4 128.4 L282 143.6 L282.8 158.8 L283.9 170.2 L285.2 177.8 L287.1 181.6 L290 182.5 L293.8 183.5 L297.6 185.4 L300.4 186.9 L323 187.2" fill="none" stroke="#d03a30" stroke-width="0.8" stroke-linejoin="round"/>
<path d="M253 179.7 L254.8 177.8 L256.7 178.7 L258.6 174 L260.5 172.1 L262.4 169.2 L264.3 165.4 L266.2 161.6 L268.1 156.9 L270 151.2 L271.9 145.5 L273.3 139.8 L274.4 135 L275.7 132.2 L276.7 147.4 L277.3 136 L278.6 130.3 L280.5 124.6 L281.8 122.7 L283 125.5 L284.3 128.4 L285.8 136 L287.1 147.4 L289 156.9 L290.9 164.5 L292.8 172.1 L294.7 175.9 L297.6 179.7 L300.4 181.6 L303.3 183.1 L307.1 184.4 L310.9 185.8 L314.7 187.1 L323 187.2" fill="none" stroke="#3030c0" stroke-width="0.8" stroke-linejoin="round"/>
<path d="M333.5 167.3 L335.8 166.4 L337.7 167.3 L339.6 164.5 L341.5 163.5 L343.4 161.6 L345.3 157.8 L346.8 152.1 L348.1 147.4 L349.1 141.7 L350 136 L351 134.1 L351.9 128.4 L353.3 122.7 L354.4 120.8 L355.4 125.5 L356.3 122.7 L357.3 128.4 L358.6 134.1 L360.1 136 L361.4 145.5 L362.8 155 L364.3 164.5 L366.2 174 L368.1 179.7 L370 183.1 L372.8 185 L377.6 186.3 L382 187 L403 187.2" fill="none" stroke="#d03a30" stroke-width="0.8" stroke-linejoin="round"/>
<path d="M333.5 182.5 L336.7 181.6 L339.6 180.6 L342.4 178.7 L344.3 175.9 L346.2 172.1 L348.1 170.2 L350 164.5 L351.6 157.8 L352.9 149.3 L354.4 139.8 L355.7 132.2 L357.1 124.6 L358.2 121.7 L359.5 123.6 L360.9 122.7 L362 127.4 L363 124.6 L364.3 130.3 L365.8 136 L366.8 132.2 L368.1 141.7 L370 151.2 L371.9 157.8 L373.8 162.6 L375.7 168.3 L377.6 174 L379.9 177.8 L382.3 181.6 L385.2 184.4 L389 185.8 L394.7 186.9 L403 187.2" fill="none" stroke="#3030c0" stroke-width="0.8" stroke-linejoin="round"/>
<line x1="425.5" y1="118.8" x2="494.6" y2="118.8" stroke="#999" stroke-width="1"/>
<line x1="494.6" y1="118.8" x2="494.6" y2="186.9" stroke="#999" stroke-width="1"/>
<line x1="425.5" y1="118.8" x2="425.5" y2="186.9" stroke="#808080" stroke-width="0.9"/>
<line x1="425.5" y1="186.9" x2="494.6" y2="186.9" stroke="#808080" stroke-width="0.9"/>
<line x1="423.5" y1="186.9" x2="425.5" y2="186.9" stroke="#555" stroke-width="0.8"/>
<text x="423.2" y="188.69" font-size="5" font-weight="bold" text-anchor="end" stroke="#111" stroke-width="0.12">0</text>
<line x1="423.5" y1="169.4" x2="425.5" y2="169.4" stroke="#555" stroke-width="0.8"/>
<text x="423.2" y="171.19" font-size="5" font-weight="bold" text-anchor="end" stroke="#111" stroke-width="0.12">200</text>
<line x1="423.5" y1="152.5" x2="425.5" y2="152.5" stroke="#555" stroke-width="0.8"/>
<text x="423.2" y="154.29" font-size="5" font-weight="bold" text-anchor="end" stroke="#111" stroke-width="0.12">400</text>
<line x1="423.5" y1="135.6" x2="425.5" y2="135.6" stroke="#555" stroke-width="0.8"/>
<text x="423.2" y="137.39" font-size="5" font-weight="bold" text-anchor="end" stroke="#111" stroke-width="0.12">600</text>
<line x1="423.5" y1="118.8" x2="425.5" y2="118.8" stroke="#555" stroke-width="0.8"/>
<text x="423.2" y="120.59" font-size="5" font-weight="bold" text-anchor="end" stroke="#111" stroke-width="0.12">800</text>
<text transform="translate(412.55 170) rotate(-90)" x="0" y="0" font-size="6" font-weight="bold" stroke="#111" stroke-width="0.22" textLength="33.7" lengthAdjust="spacingAndGlyphs">pERK (MFI)</text>
<rect x="432.2" y="165.3" width="9.1" height="21.6" fill="url(#hatch)" stroke="#222" stroke-width="0.9"/>
<line x1="436.7" y1="165.3" x2="436.7" y2="162.1" stroke="#333" stroke-width="0.8"/>
<line x1="434.3" y1="162.1" x2="439.1" y2="162.1" stroke="#333" stroke-width="0.8"/>
<rect x="444.9" y="164.2" width="9.1" height="22.7" fill="#fff" stroke="#222" stroke-width="0.9"/>
<line x1="449.4" y1="164.2" x2="449.4" y2="160.4" stroke="#333" stroke-width="0.8"/>
<line x1="447" y1="160.4" x2="451.8" y2="160.4" stroke="#333" stroke-width="0.8"/>
<rect x="466.2" y="140.3" width="9" height="46.6" fill="url(#hatch)" stroke="#222" stroke-width="0.9"/>
<line x1="470.7" y1="140.3" x2="470.7" y2="131.7" stroke="#333" stroke-width="0.8"/>
<line x1="468.5" y1="131.7" x2="472.9" y2="131.7" stroke="#333" stroke-width="0.8"/>
<rect x="479.3" y="138.4" width="8.7" height="48.5" fill="#fff" stroke="#222" stroke-width="0.9"/>
<line x1="483.6" y1="138.4" x2="483.6" y2="133.4" stroke="#333" stroke-width="0.8"/>
<line x1="481.5" y1="133.4" x2="485.7" y2="133.4" stroke="#333" stroke-width="0.8"/>
<circle cx="470.7" cy="127.7" r="1.05" fill="#111"/>
<circle cx="483.5" cy="128.9" r="1.05" fill="#111"/>
<rect x="429.8" y="122.1" width="7.4" height="4.3" fill="url(#hatch)" stroke="#222" stroke-width="0.8"/>
<rect x="429.8" y="128.8" width="7.4" height="4.7" fill="#fff" stroke="#222" stroke-width="0.8"/>
<text x="440.2" y="126.4" font-size="6" font-weight="bold" stroke="#111" stroke-width="0.18" textLength="15.6" lengthAdjust="spacingAndGlyphs">Elderly</text>
<text x="440.2" y="133.15" font-size="6" font-weight="bold" stroke="#111" stroke-width="0.18" textLength="7.7" lengthAdjust="spacingAndGlyphs">ICL</text>
<text x="435.8" y="196.76" font-size="6.6" font-weight="bold" stroke="#111" stroke-width="0.18" textLength="13.3" lengthAdjust="spacingAndGlyphs">SCR</text>
<text x="467.5" y="196.76" font-size="6.6" font-weight="bold" font-style="italic" stroke="#111" stroke-width="0.18" textLength="20.8" lengthAdjust="spacingAndGlyphs">DUSP4</text>
<line x1="434.3" y1="200.1" x2="487.8" y2="200.1" stroke="#111" stroke-width="1.4"/>
<text x="451.3" y="208.86" font-size="6.6" font-weight="bold" stroke="#111" stroke-width="0.18" textLength="19" lengthAdjust="spacingAndGlyphs">siRNA</text>
<text x="81.9" y="224.08" font-size="12.1" font-weight="bold" textLength="7.2" lengthAdjust="spacingAndGlyphs" stroke="#111" stroke-width="0.35">E</text>
<text x="146.4" y="216.08" font-size="7.2" font-weight="bold" stroke="#111" stroke-width="0.18" textLength="20.9" lengthAdjust="spacingAndGlyphs">siRNA</text>
<line x1="118" y1="220.2" x2="200.5" y2="220.2" stroke="#111" stroke-width="1.4"/>
<text x="118" y="230.28" font-size="7.2" font-weight="bold" stroke="#111" stroke-width="0.18" textLength="14" lengthAdjust="spacingAndGlyphs">SCR</text>
<text x="179.6" y="230.28" font-size="7.2" font-weight="bold" font-style="italic" stroke="#111" stroke-width="0.18" textLength="23.1" lengthAdjust="spacingAndGlyphs">DUSP4</text>
<line x1="82.9" y1="233.9" x2="82.9" y2="288.3" stroke="#333" stroke-width="1"/>
<line x1="82.9" y1="311.6" x2="82.9" y2="368.2" stroke="#333" stroke-width="1"/>
<text transform="translate(85.31 306) rotate(-90)" x="0" y="0" font-size="7" font-weight="bold" stroke="#111" stroke-width="0.22" textLength="16" lengthAdjust="spacingAndGlyphs">CD4</text>
<line x1="91.6" y1="376.6" x2="141.5" y2="376.6" stroke="#111" stroke-width="1.4"/>
<line x1="171" y1="377" x2="221" y2="377" stroke="#111" stroke-width="1.4"/>
<text x="149.3" y="378.41" font-size="7" font-weight="bold" stroke="#111" stroke-width="0.18" textLength="14.4" lengthAdjust="spacingAndGlyphs">CD27</text>
<text transform="translate(223.45 252.7) rotate(90)" x="0" y="0" font-size="7.4" font-weight="bold" stroke="#111" stroke-width="0.22" textLength="21.7" lengthAdjust="spacingAndGlyphs">Elderly</text>
<text transform="translate(224.95 326) rotate(90)" x="0" y="0" font-size="7.4" font-weight="bold" stroke="#111" stroke-width="0.22" textLength="8.9" lengthAdjust="spacingAndGlyphs">ICL</text>
<rect x="94.2" y="234.3" width="57.9" height="57.9" fill="#fff" stroke="#555" stroke-width="0.7"/>
<line x1="93" y1="238.8" x2="94.2" y2="238.8" stroke="#555" stroke-width="0.6"/>
<text x="92.7" y="239.9" font-size="3.2" text-anchor="end">10<tspan dy="-1.2" font-size="2.3">5</tspan></text>
<line x1="93" y1="252.3" x2="94.2" y2="252.3" stroke="#555" stroke-width="0.6"/>
<text x="92.7" y="253.4" font-size="3.2" text-anchor="end">10<tspan dy="-1.2" font-size="2.3">4</tspan></text>
<line x1="93" y1="265.5" x2="94.2" y2="265.5" stroke="#555" stroke-width="0.6"/>
<text x="92.7" y="266.6" font-size="3.2" text-anchor="end">10<tspan dy="-1.2" font-size="2.3">3</tspan></text>
<line x1="93" y1="279.4" x2="94.2" y2="279.4" stroke="#555" stroke-width="0.6"/>
<text x="92.7" y="280.5" font-size="3.2" text-anchor="end">10<tspan dy="-1.2" font-size="2.3">2</tspan></text>
<line x1="93" y1="286.3" x2="94.2" y2="286.3" stroke="#555" stroke-width="0.6"/>
<text x="91" y="287.45" font-size="3.2" textLength="1.4" lengthAdjust="spacingAndGlyphs">0</text>
<line x1="100.3" y1="292.2" x2="100.3" y2="293.4" stroke="#555" stroke-width="0.6"/>
<text x="99.5" y="296.55" font-size="3.2" textLength="1.6" lengthAdjust="spacingAndGlyphs">0</text>
<line x1="106" y1="292.2" x2="106" y2="293.4" stroke="#555" stroke-width="0.6"/>
<text x="106" y="296.5" font-size="3.2" text-anchor="middle">10<tspan dy="-1.2" font-size="2.3">2</tspan></text>
<line x1="120.1" y1="292.2" x2="120.1" y2="293.4" stroke="#555" stroke-width="0.6"/>
<text x="120.1" y="296.5" font-size="3.2" text-anchor="middle">10<tspan dy="-1.2" font-size="2.3">3</tspan></text>
<line x1="133.9" y1="292.2" x2="133.9" y2="293.4" stroke="#555" stroke-width="0.6"/>
<text x="133.9" y="296.5" font-size="3.2" text-anchor="middle">10<tspan dy="-1.2" font-size="2.3">4</tspan></text>
<line x1="147.2" y1="292.2" x2="147.2" y2="293.4" stroke="#555" stroke-width="0.6"/>
<text x="147.2" y="296.5" font-size="3.2" text-anchor="middle">10<tspan dy="-1.2" font-size="2.3">5</tspan></text>
<g>
<path d="M114.7 253.3h.7v.7h-.7zM107.4 248.2h.7v.7h-.7zM100.4 250.1h.7v.7h-.7zM100.9 246.7h.7v.7h-.7zM108.2 250.3h.7v.7h-.7zM110.3 247.9h.7v.7h-.7zM107.0 249.9h.7v.7h-.7zM98.0 251.2h.7v.7h-.7zM108.9 255.5h.7v.7h-.7zM108.2 249.7h.7v.7h-.7zM114.4 250.5h.7v.7h-.7zM112.5 249.2h.7v.7h-.7zM108.3 252.4h.7v.7h-.7zM111.2 250.3h.7v.7h-.7zM100.5 251.0h.7v.7h-.7zM107.5 251.7h.7v.7h-.7zM108.3 252.5h.7v.7h-.7zM106.7 250.5h.7v.7h-.7zM111.0 247.5h.7v.7h-.7zM104.6 248.8h.7v.7h-.7zM118.9 249.8h.7v.7h-.7zM110.9 251.4h.7v.7h-.7zM105.3 246.4h.7v.7h-.7zM112.8 249.1h.7v.7h-.7zM111.3 247.0h.7v.7h-.7zM104.4 252.9h.7v.7h-.7zM115.6 247.0h.7v.7h-.7zM99.0 249.9h.7v.7h-.7zM111.4 250.4h.7v.7h-.7zM108.8 247.7h.7v.7h-.7zM110.5 252.6h.7v.7h-.7zM104.4 246.7h.7v.7h-.7zM102.4 251.8h.7v.7h-.7zM96.6 249.8h.7v.7h-.7zM101.1 249.7h.7v.7h-.7zM105.5 250.0h.7v.7h-.7zM116.0 251.0h.7v.7h-.7zM115.0 249.7h.7v.7h-.7zM104.1 250.9h.7v.7h-.7zM108.0 247.2h.7v.7h-.7zM109.8 248.7h.7v.7h-.7zM101.1 248.8h.7v.7h-.7zM106.1 252.9h.7v.7h-.7zM107.6 249.9h.7v.7h-.7zM109.3 245.8h.7v.7h-.7zM114.4 247.5h.7v.7h-.7zM109.6 247.4h.7v.7h-.7zM101.1 249.1h.7v.7h-.7zM118.4 251.6h.7v.7h-.7zM103.4 249.3h.7v.7h-.7zM100.1 249.9h.7v.7h-.7zM103.6 251.7h.7v.7h-.7zM98.9 249.2h.7v.7h-.7zM101.9 248.3h.7v.7h-.7zM111.3 250.3h.7v.7h-.7zM110.5 252.7h.7v.7h-.7zM113.9 246.8h.7v.7h-.7zM110.2 245.9h.7v.7h-.7zM106.6 254.4h.7v.7h-.7zM105.8 249.2h.7v.7h-.7zM108.0 250.0h.7v.7h-.7zM107.2 248.3h.7v.7h-.7zM113.5 252.0h.7v.7h-.7zM105.7 250.7h.7v.7h-.7zM111.0 252.4h.7v.7h-.7zM109.4 251.6h.7v.7h-.7zM105.4 247.5h.7v.7h-.7zM104.0 252.3h.7v.7h-.7zM112.9 250.3h.7v.7h-.7zM103.6 250.7h.7v.7h-.7zM117.0 253.1h.7v.7h-.7zM102.9 249.9h.7v.7h-.7zM98.3 247.4h.7v.7h-.7zM108.1 250.1h.7v.7h-.7zM112.8 252.9h.7v.7h-.7zM112.0 253.0h.7v.7h-.7zM103.7 247.4h.7v.7h-.7zM110.0 256.2h.7v.7h-.7zM109.1 247.4h.7v.7h-.7zM108.5 253.3h.7v.7h-.7zM100.8 251.8h.7v.7h-.7zM103.3 252.9h.7v.7h-.7zM111.7 250.7h.7v.7h-.7zM119.0 249.1h.7v.7h-.7zM102.9 254.3h.7v.7h-.7zM101.7 255.1h.7v.7h-.7zM106.8 247.6h.7v.7h-.7zM107.0 250.3h.7v.7h-.7zM108.2 249.6h.7v.7h-.7zM113.5 244.7h.7v.7h-.7zM103.7 249.4h.7v.7h-.7zM117.9 245.4h.7v.7h-.7zM105.0 247.4h.7v.7h-.7zM103.0 251.5h.7v.7h-.7zM109.5 253.3h.7v.7h-.7zM103.4 250.6h.7v.7h-.7zM114.0 252.1h.7v.7h-.7zM105.0 252.6h.7v.7h-.7zM101.5 254.1h.7v.7h-.7zM107.9 249.7h.7v.7h-.7zM108.6 252.0h.7v.7h-.7zM117.4 249.7h.7v.7h-.7zM104.8 251.3h.7v.7h-.7zM101.8 246.1h.7v.7h-.7zM112.0 249.1h.7v.7h-.7zM113.8 247.6h.7v.7h-.7zM107.9 253.7h.7v.7h-.7zM110.2 250.7h.7v.7h-.7zM110.5 249.2h.7v.7h-.7zM107.5 246.9h.7v.7h-.7zM110.1 248.1h.7v.7h-.7zM104.3 251.6h.7v.7h-.7zM112.5 247.7h.7v.7h-.7zM119.0 248.6h.7v.7h-.7zM112.0 252.2h.7v.7h-.7zM108.3 250.4h.7v.7h-.7zM117.8 252.0h.7v.7h-.7zM109.7 245.8h.7v.7h-.7zM102.5 252.7h.7v.7h-.7zM108.2 247.8h.7v.7h-.7zM103.1 249.3h.7v.7h-.7zM111.1 250.9h.7v.7h-.7zM113.0 248.1h.7v.7h-.7zM112.9 248.8h.7v.7h-.7zM105.2 254.0h.7v.7h-.7zM107.4 249.7h.7v.7h-.7zM105.7 249.1h.7v.7h-.7zM116.4 253.2h.7v.7h-.7zM111.3 250.4h.7v.7h-.7zM113.3 249.8h.7v.7h-.7zM109.7 250.9h.7v.7h-.7zM107.5 253.8h.7v.7h-.7zM117.5 253.0h.7v.7h-.7zM95.5 254.2h.7v.7h-.7zM111.2 249.0h.7v.7h-.7zM106.9 252.6h.7v.7h-.7zM114.0 252.0h.7v.7h-.7zM107.8 250.1h.7v.7h-.7zM112.0 249.8h.7v.7h-.7zM101.6 248.6h.7v.7h-.7zM106.2 250.8h.7v.7h-.7zM120.6 246.8h.7v.7h-.7zM109.9 249.8h.7v.7h-.7zM108.8 253.1h.7v.7h-.7zM114.4 249.6h.7v.7h-.7zM103.7 246.9h.7v.7h-.7zM106.6 252.9h.7v.7h-.7zM105.4 251.6h.7v.7h-.7zM111.2 250.9h.7v.7h-.7zM113.5 249.7h.7v.7h-.7zM102.0 247.3h.7v.7h-.7zM112.6 249.2h.7v.7h-.7zM105.1 251.9h.7v.7h-.7zM102.3 254.1h.7v.7h-.7zM111.0 248.8h.7v.7h-.7zM103.2 252.5h.7v.7h-.7zM99.9 248.5h.7v.7h-.7z" fill="#000" fill-opacity="0.25"/>
<path d="M119.0 250.1h.7v.7h-.7zM119.1 250.6h.7v.7h-.7zM117.4 249.3h.7v.7h-.7zM124.7 251.2h.7v.7h-.7zM117.0 253.9h.7v.7h-.7zM110.0 249.8h.7v.7h-.7zM122.0 252.0h.7v.7h-.7zM119.5 248.6h.7v.7h-.7zM121.6 249.1h.7v.7h-.7zM121.1 242.5h.7v.7h-.7zM120.7 247.6h.7v.7h-.7zM123.2 251.5h.7v.7h-.7zM122.3 248.6h.7v.7h-.7zM121.0 248.7h.7v.7h-.7zM120.0 249.3h.7v.7h-.7zM115.1 254.5h.7v.7h-.7zM122.3 244.5h.7v.7h-.7zM123.0 246.1h.7v.7h-.7zM118.0 248.1h.7v.7h-.7zM116.6 250.2h.7v.7h-.7zM117.5 246.0h.7v.7h-.7zM119.0 250.5h.7v.7h-.7zM127.0 248.6h.7v.7h-.7zM113.6 248.6h.7v.7h-.7zM121.9 247.4h.7v.7h-.7zM115.8 251.0h.7v.7h-.7zM118.9 250.2h.7v.7h-.7zM116.2 247.5h.7v.7h-.7zM117.5 249.2h.7v.7h-.7zM117.5 250.7h.7v.7h-.7zM121.5 251.0h.7v.7h-.7zM121.2 247.4h.7v.7h-.7zM114.0 251.6h.7v.7h-.7zM119.1 249.9h.7v.7h-.7zM113.8 249.1h.7v.7h-.7zM116.1 247.4h.7v.7h-.7zM116.2 245.9h.7v.7h-.7zM119.4 252.5h.7v.7h-.7zM115.8 249.8h.7v.7h-.7zM114.1 251.3h.7v.7h-.7zM127.4 246.5h.7v.7h-.7zM118.0 253.2h.7v.7h-.7zM120.7 249.9h.7v.7h-.7zM109.8 249.2h.7v.7h-.7zM123.1 253.2h.7v.7h-.7zM121.9 248.2h.7v.7h-.7zM115.9 245.1h.7v.7h-.7zM114.2 252.4h.7v.7h-.7zM118.5 246.3h.7v.7h-.7zM124.9 245.4h.7v.7h-.7zM124.7 248.8h.7v.7h-.7zM120.5 251.3h.7v.7h-.7zM120.2 252.8h.7v.7h-.7zM119.1 248.8h.7v.7h-.7zM116.0 246.0h.7v.7h-.7zM115.9 252.1h.7v.7h-.7zM122.7 253.1h.7v.7h-.7zM131.3 251.4h.7v.7h-.7zM121.3 246.3h.7v.7h-.7zM117.9 255.1h.7v.7h-.7zM121.4 249.3h.7v.7h-.7zM120.4 244.9h.7v.7h-.7zM115.2 246.3h.7v.7h-.7zM109.4 251.5h.7v.7h-.7zM123.3 249.2h.7v.7h-.7zM120.6 247.1h.7v.7h-.7zM121.0 251.5h.7v.7h-.7zM125.9 253.5h.7v.7h-.7zM121.2 249.3h.7v.7h-.7zM115.3 248.1h.7v.7h-.7zM121.8 251.0h.7v.7h-.7zM119.1 253.8h.7v.7h-.7zM121.9 249.6h.7v.7h-.7zM118.1 249.8h.7v.7h-.7zM114.7 247.2h.7v.7h-.7zM120.6 248.1h.7v.7h-.7zM117.8 252.7h.7v.7h-.7zM118.1 252.9h.7v.7h-.7zM119.0 253.4h.7v.7h-.7zM121.1 245.2h.7v.7h-.7zM124.6 249.1h.7v.7h-.7zM110.2 249.9h.7v.7h-.7zM119.7 246.4h.7v.7h-.7zM116.3 251.0h.7v.7h-.7zM125.4 252.5h.7v.7h-.7zM124.5 252.4h.7v.7h-.7zM107.8 247.8h.7v.7h-.7zM119.8 242.9h.7v.7h-.7zM122.5 251.8h.7v.7h-.7zM115.5 248.6h.7v.7h-.7zM114.8 249.6h.7v.7h-.7zM118.8 249.6h.7v.7h-.7zM114.4 250.6h.7v.7h-.7zM117.5 252.0h.7v.7h-.7zM120.4 245.9h.7v.7h-.7zM112.5 249.8h.7v.7h-.7zM116.8 250.8h.7v.7h-.7zM122.6 249.6h.7v.7h-.7zM111.4 246.6h.7v.7h-.7zM121.6 247.0h.7v.7h-.7zM124.0 249.4h.7v.7h-.7zM121.3 247.4h.7v.7h-.7zM118.6 242.2h.7v.7h-.7zM118.1 251.0h.7v.7h-.7zM115.0 247.5h.7v.7h-.7zM118.8 249.8h.7v.7h-.7zM115.4 251.3h.7v.7h-.7zM111.6 252.4h.7v.7h-.7zM112.7 247.5h.7v.7h-.7zM125.0 247.1h.7v.7h-.7zM111.6 249.8h.7v.7h-.7zM114.9 246.8h.7v.7h-.7zM115.8 247.7h.7v.7h-.7zM114.6 247.0h.7v.7h-.7zM126.3 247.9h.7v.7h-.7zM123.4 246.1h.7v.7h-.7zM121.4 246.5h.7v.7h-.7zM116.9 251.2h.7v.7h-.7zM116.6 244.7h.7v.7h-.7zM116.5 249.2h.7v.7h-.7zM121.6 247.1h.7v.7h-.7zM117.7 249.8h.7v.7h-.7zM111.6 249.3h.7v.7h-.7zM115.3 250.7h.7v.7h-.7zM118.5 249.2h.7v.7h-.7zM108.1 249.3h.7v.7h-.7zM117.3 247.2h.7v.7h-.7zM116.7 246.4h.7v.7h-.7zM119.8 251.2h.7v.7h-.7zM121.7 248.3h.7v.7h-.7zM126.6 251.7h.7v.7h-.7zM114.7 249.3h.7v.7h-.7zM111.7 249.3h.7v.7h-.7zM122.2 252.8h.7v.7h-.7zM117.1 245.1h.7v.7h-.7zM118.2 253.0h.7v.7h-.7zM119.6 252.8h.7v.7h-.7zM122.7 253.5h.7v.7h-.7zM121.7 247.9h.7v.7h-.7zM121.0 255.9h.7v.7h-.7zM116.7 245.0h.7v.7h-.7zM128.5 250.6h.7v.7h-.7zM116.2 248.1h.7v.7h-.7zM112.1 251.4h.7v.7h-.7zM119.6 248.0h.7v.7h-.7zM117.1 248.5h.7v.7h-.7zM123.8 249.1h.7v.7h-.7zM125.2 247.5h.7v.7h-.7zM116.2 248.4h.7v.7h-.7zM116.6 249.4h.7v.7h-.7zM123.6 252.6h.7v.7h-.7zM114.2 252.8h.7v.7h-.7zM119.4 253.6h.7v.7h-.7zM118.2 247.5h.7v.7h-.7zM122.6 251.2h.7v.7h-.7zM116.9 249.7h.7v.7h-.7zM119.6 250.4h.7v.7h-.7zM111.3 246.6h.7v.7h-.7zM119.2 250.2h.7v.7h-.7zM116.6 245.2h.7v.7h-.7zM125.0 248.8h.7v.7h-.7zM114.3 253.6h.7v.7h-.7zM124.1 252.2h.7v.7h-.7zM122.8 251.0h.7v.7h-.7zM114.6 249.7h.7v.7h-.7zM120.6 251.2h.7v.7h-.7zM121.1 247.1h.7v.7h-.7zM116.3 248.8h.7v.7h-.7zM118.1 247.4h.7v.7h-.7zM110.8 246.6h.7v.7h-.7zM120.4 249.6h.7v.7h-.7zM121.6 244.9h.7v.7h-.7zM117.1 251.8h.7v.7h-.7zM110.2 246.9h.7v.7h-.7zM111.5 252.6h.7v.7h-.7zM119.1 248.2h.7v.7h-.7zM119.7 249.4h.7v.7h-.7zM123.1 252.5h.7v.7h-.7zM123.1 250.5h.7v.7h-.7zM122.4 251.6h.7v.7h-.7zM124.2 245.0h.7v.7h-.7zM120.6 249.8h.7v.7h-.7zM119.7 249.0h.7v.7h-.7zM118.7 250.8h.7v.7h-.7zM119.9 249.9h.7v.7h-.7zM114.2 246.5h.7v.7h-.7zM115.6 245.1h.7v.7h-.7zM116.7 247.5h.7v.7h-.7zM110.9 244.8h.7v.7h-.7zM116.9 248.2h.7v.7h-.7zM128.8 251.8h.7v.7h-.7zM115.5 248.4h.7v.7h-.7zM114.4 247.6h.7v.7h-.7zM117.4 249.5h.7v.7h-.7zM116.2 251.7h.7v.7h-.7zM121.9 254.5h.7v.7h-.7zM113.1 251.3h.7v.7h-.7zM117.3 245.6h.7v.7h-.7zM117.6 245.5h.7v.7h-.7zM118.9 256.4h.7v.7h-.7zM124.9 254.2h.7v.7h-.7zM124.4 245.7h.7v.7h-.7zM120.9 250.0h.7v.7h-.7zM121.0 247.0h.7v.7h-.7zM110.1 254.9h.7v.7h-.7zM124.4 250.4h.7v.7h-.7zM116.8 250.1h.7v.7h-.7zM113.4 252.0h.7v.7h-.7zM119.7 249.2h.7v.7h-.7zM117.1 249.4h.7v.7h-.7zM119.6 248.6h.7v.7h-.7zM123.3 250.1h.7v.7h-.7zM118.6 247.4h.7v.7h-.7zM124.5 252.8h.7v.7h-.7zM122.1 245.0h.7v.7h-.7zM117.4 252.1h.7v.7h-.7zM119.2 252.8h.7v.7h-.7zM117.0 251.6h.7v.7h-.7zM121.4 243.5h.7v.7h-.7zM117.2 249.0h.7v.7h-.7zM116.2 247.4h.7v.7h-.7zM126.2 249.3h.7v.7h-.7zM122.6 246.3h.7v.7h-.7zM109.6 248.4h.7v.7h-.7zM120.8 247.8h.7v.7h-.7zM121.4 251.6h.7v.7h-.7zM117.0 249.5h.7v.7h-.7zM115.7 252.3h.7v.7h-.7zM127.0 250.8h.7v.7h-.7zM116.7 247.8h.7v.7h-.7zM117.7 251.8h.7v.7h-.7zM115.6 253.3h.7v.7h-.7zM113.5 249.6h.7v.7h-.7zM124.9 254.1h.7v.7h-.7zM117.2 251.6h.7v.7h-.7zM130.4 252.5h.7v.7h-.7zM109.1 250.3h.7v.7h-.7zM129.7 246.7h.7v.7h-.7zM123.1 244.4h.7v.7h-.7zM126.1 247.5h.7v.7h-.7zM122.6 251.9h.7v.7h-.7zM106.5 246.0h.7v.7h-.7zM120.5 245.8h.7v.7h-.7zM118.9 247.2h.7v.7h-.7zM125.0 248.3h.7v.7h-.7zM114.9 251.2h.7v.7h-.7zM124.5 249.2h.7v.7h-.7zM120.3 250.8h.7v.7h-.7zM116.8 246.6h.7v.7h-.7zM121.4 248.7h.7v.7h-.7zM112.8 251.7h.7v.7h-.7zM121.0 250.0h.7v.7h-.7zM115.6 249.0h.7v.7h-.7zM121.7 250.8h.7v.7h-.7zM115.3 247.3h.7v.7h-.7zM120.5 250.1h.7v.7h-.7zM122.8 246.7h.7v.7h-.7zM123.1 254.0h.7v.7h-.7zM123.3 249.9h.7v.7h-.7zM123.1 246.4h.7v.7h-.7zM117.0 254.7h.7v.7h-.7zM111.6 246.7h.7v.7h-.7zM122.7 248.0h.7v.7h-.7zM116.5 246.8h.7v.7h-.7zM126.6 248.1h.7v.7h-.7zM117.8 245.1h.7v.7h-.7zM122.5 249.6h.7v.7h-.7zM121.2 253.6h.7v.7h-.7zM119.7 246.6h.7v.7h-.7zM114.4 249.8h.7v.7h-.7zM124.9 246.6h.7v.7h-.7zM117.9 249.2h.7v.7h-.7zM122.0 247.4h.7v.7h-.7zM120.4 251.6h.7v.7h-.7zM118.8 249.4h.7v.7h-.7zM121.8 251.1h.7v.7h-.7zM124.7 246.9h.7v.7h-.7zM124.5 249.0h.7v.7h-.7zM113.9 248.2h.7v.7h-.7zM113.4 249.1h.7v.7h-.7zM123.7 244.0h.7v.7h-.7zM113.7 251.5h.7v.7h-.7zM117.6 251.6h.7v.7h-.7zM113.0 249.5h.7v.7h-.7zM107.3 247.5h.7v.7h-.7zM122.3 252.6h.7v.7h-.7zM126.3 249.5h.7v.7h-.7zM115.1 248.6h.7v.7h-.7zM110.4 253.0h.7v.7h-.7zM124.3 247.3h.7v.7h-.7zM127.2 246.2h.7v.7h-.7zM121.5 247.6h.7v.7h-.7zM111.2 250.6h.7v.7h-.7zM113.8 252.6h.7v.7h-.7zM115.0 249.9h.7v.7h-.7zM116.8 249.9h.7v.7h-.7zM116.2 251.7h.7v.7h-.7zM121.7 249.8h.7v.7h-.7zM118.4 254.5h.7v.7h-.7zM115.9 248.5h.7v.7h-.7z" fill="#000" fill-opacity="0.45"/>
<path d="M131.6 249.2h.7v.7h-.7zM122.0 248.8h.7v.7h-.7zM127.0 246.7h.7v.7h-.7zM129.3 246.4h.7v.7h-.7zM127.5 246.4h.7v.7h-.7zM134.7 248.5h.7v.7h-.7zM130.3 249.9h.7v.7h-.7zM131.3 248.8h.7v.7h-.7zM131.5 249.5h.7v.7h-.7zM118.7 250.0h.7v.7h-.7zM123.3 251.6h.7v.7h-.7zM129.4 248.3h.7v.7h-.7zM118.4 243.9h.7v.7h-.7zM123.8 248.3h.7v.7h-.7zM123.0 254.2h.7v.7h-.7zM130.3 249.0h.7v.7h-.7zM124.6 248.4h.7v.7h-.7zM127.5 248.1h.7v.7h-.7zM128.2 251.2h.7v.7h-.7zM121.5 249.8h.7v.7h-.7zM132.9 245.8h.7v.7h-.7zM127.7 248.2h.7v.7h-.7zM123.9 251.6h.7v.7h-.7zM127.2 252.1h.7v.7h-.7zM130.1 248.5h.7v.7h-.7zM129.6 248.3h.7v.7h-.7zM121.9 252.8h.7v.7h-.7zM130.0 252.1h.7v.7h-.7zM121.3 251.8h.7v.7h-.7zM131.8 249.1h.7v.7h-.7zM120.0 249.5h.7v.7h-.7zM125.8 248.7h.7v.7h-.7zM128.7 246.9h.7v.7h-.7zM128.0 249.2h.7v.7h-.7zM134.3 248.9h.7v.7h-.7zM137.9 246.2h.7v.7h-.7zM128.0 252.3h.7v.7h-.7zM122.2 250.7h.7v.7h-.7zM130.1 247.7h.7v.7h-.7zM127.5 253.1h.7v.7h-.7zM126.7 249.9h.7v.7h-.7zM130.2 252.2h.7v.7h-.7zM120.2 245.5h.7v.7h-.7zM123.1 248.5h.7v.7h-.7zM131.0 251.3h.7v.7h-.7zM127.4 253.0h.7v.7h-.7zM128.2 250.9h.7v.7h-.7zM125.5 251.3h.7v.7h-.7zM125.6 252.1h.7v.7h-.7zM132.0 253.9h.7v.7h-.7zM126.8 246.3h.7v.7h-.7zM131.8 250.0h.7v.7h-.7zM126.4 245.9h.7v.7h-.7zM131.7 244.3h.7v.7h-.7zM126.6 251.9h.7v.7h-.7zM127.5 250.3h.7v.7h-.7zM130.5 250.7h.7v.7h-.7zM132.7 250.8h.7v.7h-.7zM127.0 246.1h.7v.7h-.7zM127.4 247.6h.7v.7h-.7zM130.1 252.3h.7v.7h-.7zM131.6 247.5h.7v.7h-.7zM129.3 249.2h.7v.7h-.7zM126.6 252.4h.7v.7h-.7zM131.0 250.1h.7v.7h-.7zM123.6 242.6h.7v.7h-.7zM125.6 252.0h.7v.7h-.7zM127.6 249.1h.7v.7h-.7zM127.4 250.4h.7v.7h-.7zM128.5 253.5h.7v.7h-.7zM128.0 248.5h.7v.7h-.7zM134.2 251.1h.7v.7h-.7zM131.3 250.5h.7v.7h-.7zM128.3 250.0h.7v.7h-.7zM130.6 249.5h.7v.7h-.7zM121.0 252.6h.7v.7h-.7zM126.6 247.8h.7v.7h-.7zM127.1 247.4h.7v.7h-.7zM125.0 249.0h.7v.7h-.7zM132.0 248.5h.7v.7h-.7zM130.4 245.8h.7v.7h-.7zM131.5 246.4h.7v.7h-.7zM131.3 247.3h.7v.7h-.7zM126.1 246.1h.7v.7h-.7zM123.4 248.6h.7v.7h-.7zM124.6 248.6h.7v.7h-.7zM133.0 247.1h.7v.7h-.7zM127.2 248.9h.7v.7h-.7zM126.0 249.1h.7v.7h-.7zM129.4 251.8h.7v.7h-.7zM125.6 248.7h.7v.7h-.7zM127.9 252.2h.7v.7h-.7zM124.5 249.6h.7v.7h-.7zM131.6 250.7h.7v.7h-.7zM125.7 246.6h.7v.7h-.7zM121.1 247.9h.7v.7h-.7zM127.5 245.5h.7v.7h-.7zM131.9 249.6h.7v.7h-.7zM127.5 247.9h.7v.7h-.7zM130.4 248.5h.7v.7h-.7zM130.5 248.0h.7v.7h-.7zM132.7 245.1h.7v.7h-.7zM124.2 253.7h.7v.7h-.7zM132.7 253.3h.7v.7h-.7zM125.3 251.0h.7v.7h-.7zM132.5 251.5h.7v.7h-.7zM127.8 252.9h.7v.7h-.7zM130.2 246.0h.7v.7h-.7zM138.4 249.5h.7v.7h-.7zM133.5 247.5h.7v.7h-.7zM124.8 251.4h.7v.7h-.7zM131.8 247.3h.7v.7h-.7zM129.5 245.9h.7v.7h-.7zM120.3 251.9h.7v.7h-.7zM123.9 251.1h.7v.7h-.7zM132.8 250.1h.7v.7h-.7zM134.6 250.1h.7v.7h-.7zM129.7 249.2h.7v.7h-.7zM130.2 250.1h.7v.7h-.7zM124.8 249.1h.7v.7h-.7zM127.0 256.3h.7v.7h-.7zM133.4 247.2h.7v.7h-.7zM130.9 244.8h.7v.7h-.7zM128.7 253.7h.7v.7h-.7zM128.8 252.4h.7v.7h-.7zM127.0 250.3h.7v.7h-.7zM130.0 243.7h.7v.7h-.7zM125.3 253.9h.7v.7h-.7zM125.2 252.2h.7v.7h-.7zM135.4 249.1h.7v.7h-.7zM132.5 250.1h.7v.7h-.7zM126.1 250.7h.7v.7h-.7zM130.2 246.7h.7v.7h-.7zM126.7 245.8h.7v.7h-.7zM127.2 249.1h.7v.7h-.7zM124.6 244.5h.7v.7h-.7zM131.2 252.4h.7v.7h-.7zM124.9 249.4h.7v.7h-.7zM125.8 242.6h.7v.7h-.7zM137.0 249.9h.7v.7h-.7zM122.9 252.4h.7v.7h-.7zM131.4 252.7h.7v.7h-.7zM131.4 250.5h.7v.7h-.7zM134.2 248.5h.7v.7h-.7zM129.5 246.5h.7v.7h-.7zM123.9 249.7h.7v.7h-.7zM129.4 245.2h.7v.7h-.7zM130.0 251.7h.7v.7h-.7zM123.5 248.4h.7v.7h-.7zM135.4 247.1h.7v.7h-.7zM130.8 251.2h.7v.7h-.7zM129.2 249.6h.7v.7h-.7zM130.8 249.9h.7v.7h-.7zM129.1 245.5h.7v.7h-.7zM129.5 247.2h.7v.7h-.7zM134.5 254.7h.7v.7h-.7zM133.0 243.8h.7v.7h-.7zM132.5 249.5h.7v.7h-.7zM124.1 246.2h.7v.7h-.7zM132.7 247.6h.7v.7h-.7zM128.2 249.4h.7v.7h-.7zM132.3 242.5h.7v.7h-.7zM133.4 247.2h.7v.7h-.7zM126.9 250.7h.7v.7h-.7zM130.0 243.4h.7v.7h-.7zM130.9 248.8h.7v.7h-.7zM124.4 247.7h.7v.7h-.7zM122.1 251.2h.7v.7h-.7zM134.4 247.6h.7v.7h-.7zM126.6 245.6h.7v.7h-.7zM125.7 246.7h.7v.7h-.7zM128.6 253.5h.7v.7h-.7zM132.7 251.6h.7v.7h-.7zM124.6 251.3h.7v.7h-.7zM125.6 247.0h.7v.7h-.7zM131.4 248.9h.7v.7h-.7zM138.4 249.7h.7v.7h-.7zM127.3 251.1h.7v.7h-.7zM123.9 250.9h.7v.7h-.7zM134.7 248.9h.7v.7h-.7zM126.4 252.0h.7v.7h-.7zM124.0 250.1h.7v.7h-.7zM126.4 249.9h.7v.7h-.7zM125.4 250.7h.7v.7h-.7zM130.7 253.6h.7v.7h-.7zM127.0 250.3h.7v.7h-.7zM121.4 247.2h.7v.7h-.7zM129.6 245.8h.7v.7h-.7zM128.1 247.0h.7v.7h-.7zM130.4 250.7h.7v.7h-.7zM126.6 250.8h.7v.7h-.7zM126.3 249.5h.7v.7h-.7zM130.6 250.6h.7v.7h-.7zM130.9 253.4h.7v.7h-.7zM125.9 248.8h.7v.7h-.7zM121.2 251.4h.7v.7h-.7zM124.0 247.7h.7v.7h-.7zM126.5 250.2h.7v.7h-.7zM127.4 248.5h.7v.7h-.7zM128.8 248.4h.7v.7h-.7zM128.4 246.7h.7v.7h-.7zM126.3 246.2h.7v.7h-.7zM131.9 251.5h.7v.7h-.7zM131.2 250.0h.7v.7h-.7zM126.1 250.6h.7v.7h-.7zM122.3 242.9h.7v.7h-.7zM123.7 252.9h.7v.7h-.7zM129.5 253.1h.7v.7h-.7zM125.6 251.7h.7v.7h-.7zM134.9 251.7h.7v.7h-.7zM129.6 251.9h.7v.7h-.7zM126.7 253.6h.7v.7h-.7zM123.9 247.3h.7v.7h-.7zM128.6 247.3h.7v.7h-.7zM135.5 250.9h.7v.7h-.7zM125.6 253.4h.7v.7h-.7zM133.9 248.3h.7v.7h-.7zM134.8 252.2h.7v.7h-.7zM126.5 247.8h.7v.7h-.7zM129.7 252.1h.7v.7h-.7zM134.8 253.0h.7v.7h-.7zM126.6 244.7h.7v.7h-.7zM121.7 253.0h.7v.7h-.7zM132.7 252.2h.7v.7h-.7zM128.5 249.4h.7v.7h-.7zM130.4 250.4h.7v.7h-.7zM128.8 246.8h.7v.7h-.7zM123.0 249.6h.7v.7h-.7zM127.9 252.7h.7v.7h-.7zM124.2 244.2h.7v.7h-.7zM120.6 249.1h.7v.7h-.7zM135.2 248.3h.7v.7h-.7zM125.7 250.1h.7v.7h-.7zM134.7 251.9h.7v.7h-.7zM132.0 251.5h.7v.7h-.7zM127.3 249.4h.7v.7h-.7zM130.2 253.7h.7v.7h-.7zM119.7 247.8h.7v.7h-.7zM130.0 248.6h.7v.7h-.7zM128.0 248.5h.7v.7h-.7zM124.7 250.5h.7v.7h-.7zM133.7 248.3h.7v.7h-.7zM130.3 252.0h.7v.7h-.7zM125.9 249.0h.7v.7h-.7zM123.3 253.2h.7v.7h-.7zM135.4 248.7h.7v.7h-.7zM136.5 251.3h.7v.7h-.7zM121.2 250.4h.7v.7h-.7zM129.5 250.5h.7v.7h-.7zM131.2 248.1h.7v.7h-.7zM133.0 250.0h.7v.7h-.7zM136.1 248.9h.7v.7h-.7zM118.5 254.0h.7v.7h-.7zM130.7 244.6h.7v.7h-.7zM126.1 247.2h.7v.7h-.7zM132.2 247.6h.7v.7h-.7zM133.1 247.9h.7v.7h-.7zM132.3 247.7h.7v.7h-.7zM123.7 250.7h.7v.7h-.7zM127.6 250.5h.7v.7h-.7zM121.9 246.6h.7v.7h-.7zM127.1 254.1h.7v.7h-.7zM130.1 245.0h.7v.7h-.7zM115.9 253.8h.7v.7h-.7zM129.8 246.0h.7v.7h-.7zM132.5 251.3h.7v.7h-.7zM137.1 249.7h.7v.7h-.7zM126.5 251.2h.7v.7h-.7zM123.1 248.1h.7v.7h-.7zM124.5 247.8h.7v.7h-.7zM123.3 245.6h.7v.7h-.7zM124.1 250.2h.7v.7h-.7zM128.6 249.0h.7v.7h-.7zM130.4 251.1h.7v.7h-.7zM130.4 254.4h.7v.7h-.7zM129.6 250.2h.7v.7h-.7zM126.5 251.9h.7v.7h-.7zM134.2 241.8h.7v.7h-.7zM131.8 246.5h.7v.7h-.7zM129.9 249.4h.7v.7h-.7zM123.5 245.8h.7v.7h-.7zM127.5 255.8h.7v.7h-.7zM123.5 248.2h.7v.7h-.7zM127.3 248.5h.7v.7h-.7zM133.0 254.3h.7v.7h-.7zM128.3 250.2h.7v.7h-.7zM127.2 253.1h.7v.7h-.7zM128.3 250.9h.7v.7h-.7zM127.7 252.0h.7v.7h-.7zM128.2 247.1h.7v.7h-.7zM136.1 244.3h.7v.7h-.7zM129.2 248.3h.7v.7h-.7zM124.9 254.4h.7v.7h-.7zM129.9 248.2h.7v.7h-.7zM124.9 250.0h.7v.7h-.7zM128.5 248.6h.7v.7h-.7zM125.8 253.0h.7v.7h-.7zM129.4 248.7h.7v.7h-.7zM123.5 247.3h.7v.7h-.7zM131.4 247.3h.7v.7h-.7zM131.1 248.9h.7v.7h-.7zM130.1 250.1h.7v.7h-.7zM126.8 248.5h.7v.7h-.7zM128.2 250.8h.7v.7h-.7zM138.1 251.4h.7v.7h-.7zM123.3 254.8h.7v.7h-.7zM128.0 247.5h.7v.7h-.7zM129.0 249.1h.7v.7h-.7zM129.5 249.1h.7v.7h-.7zM128.4 252.4h.7v.7h-.7zM135.3 249.4h.7v.7h-.7zM134.9 251.5h.7v.7h-.7zM133.3 249.9h.7v.7h-.7zM129.3 251.2h.7v.7h-.7zM124.7 249.3h.7v.7h-.7zM124.0 251.5h.7v.7h-.7zM129.4 250.7h.7v.7h-.7zM127.2 247.3h.7v.7h-.7zM132.3 248.1h.7v.7h-.7zM127.6 249.3h.7v.7h-.7zM130.4 249.4h.7v.7h-.7zM124.3 246.6h.7v.7h-.7zM132.6 248.4h.7v.7h-.7zM127.5 247.0h.7v.7h-.7zM132.2 250.4h.7v.7h-.7zM126.3 244.9h.7v.7h-.7zM135.7 247.8h.7v.7h-.7zM123.8 248.0h.7v.7h-.7zM123.9 249.2h.7v.7h-.7zM126.3 246.2h.7v.7h-.7zM131.2 247.1h.7v.7h-.7zM121.1 250.1h.7v.7h-.7zM126.3 246.5h.7v.7h-.7zM121.8 247.4h.7v.7h-.7zM126.1 248.0h.7v.7h-.7zM126.5 252.4h.7v.7h-.7zM132.7 250.0h.7v.7h-.7zM130.8 248.1h.7v.7h-.7zM122.7 250.5h.7v.7h-.7zM134.0 247.5h.7v.7h-.7zM125.7 247.5h.7v.7h-.7zM123.2 250.6h.7v.7h-.7zM124.2 252.6h.7v.7h-.7zM135.2 249.4h.7v.7h-.7zM128.3 247.1h.7v.7h-.7zM132.1 249.4h.7v.7h-.7zM122.5 246.9h.7v.7h-.7zM130.4 248.0h.7v.7h-.7zM130.3 249.8h.7v.7h-.7zM134.2 249.0h.7v.7h-.7zM132.7 252.0h.7v.7h-.7zM133.8 248.3h.7v.7h-.7zM129.6 255.6h.7v.7h-.7zM127.7 247.7h.7v.7h-.7zM129.0 246.3h.7v.7h-.7zM125.1 248.1h.7v.7h-.7zM127.4 251.7h.7v.7h-.7zM124.1 248.7h.7v.7h-.7zM129.5 248.5h.7v.7h-.7zM131.5 254.8h.7v.7h-.7zM124.2 247.0h.7v.7h-.7zM126.5 247.8h.7v.7h-.7zM126.3 250.3h.7v.7h-.7zM135.5 255.4h.7v.7h-.7zM128.2 244.1h.7v.7h-.7zM134.7 249.2h.7v.7h-.7zM126.8 251.9h.7v.7h-.7zM128.0 248.6h.7v.7h-.7zM125.0 251.5h.7v.7h-.7zM131.9 247.1h.7v.7h-.7zM126.3 252.3h.7v.7h-.7zM125.6 248.2h.7v.7h-.7zM125.4 248.6h.7v.7h-.7zM131.9 249.4h.7v.7h-.7zM132.5 250.7h.7v.7h-.7zM120.4 249.2h.7v.7h-.7zM128.4 245.0h.7v.7h-.7zM131.6 249.1h.7v.7h-.7zM126.5 250.5h.7v.7h-.7zM132.3 251.0h.7v.7h-.7zM126.4 249.1h.7v.7h-.7zM138.3 246.0h.7v.7h-.7zM128.8 249.3h.7v.7h-.7zM134.5 250.7h.7v.7h-.7zM129.4 248.5h.7v.7h-.7zM133.5 249.4h.7v.7h-.7zM128.1 249.6h.7v.7h-.7zM131.3 249.3h.7v.7h-.7zM129.5 251.2h.7v.7h-.7zM125.6 248.6h.7v.7h-.7zM128.8 250.9h.7v.7h-.7zM130.7 248.0h.7v.7h-.7zM124.4 248.3h.7v.7h-.7zM126.5 251.4h.7v.7h-.7zM131.0 249.4h.7v.7h-.7zM124.2 245.9h.7v.7h-.7zM129.0 250.7h.7v.7h-.7zM130.0 248.6h.7v.7h-.7zM130.8 244.3h.7v.7h-.7zM133.1 253.0h.7v.7h-.7zM129.2 249.8h.7v.7h-.7zM127.7 251.4h.7v.7h-.7zM124.8 247.8h.7v.7h-.7zM130.1 245.6h.7v.7h-.7zM130.5 250.3h.7v.7h-.7zM128.5 248.0h.7v.7h-.7zM135.5 247.9h.7v.7h-.7zM129.1 251.2h.7v.7h-.7zM128.4 251.8h.7v.7h-.7zM128.5 249.8h.7v.7h-.7zM128.5 250.8h.7v.7h-.7zM125.9 251.4h.7v.7h-.7zM132.6 246.6h.7v.7h-.7zM122.5 245.9h.7v.7h-.7zM125.3 250.9h.7v.7h-.7zM128.8 253.9h.7v.7h-.7zM134.8 245.4h.7v.7h-.7zM126.9 248.4h.7v.7h-.7zM134.9 251.2h.7v.7h-.7zM132.2 247.2h.7v.7h-.7zM136.6 246.4h.7v.7h-.7zM128.6 246.8h.7v.7h-.7zM124.9 249.8h.7v.7h-.7zM124.9 250.9h.7v.7h-.7zM130.6 249.3h.7v.7h-.7zM131.0 252.0h.7v.7h-.7zM132.9 246.4h.7v.7h-.7zM131.1 251.4h.7v.7h-.7zM127.0 248.2h.7v.7h-.7zM133.3 250.9h.7v.7h-.7zM129.0 252.8h.7v.7h-.7zM132.2 253.5h.7v.7h-.7zM126.9 251.7h.7v.7h-.7zM120.6 247.6h.7v.7h-.7zM135.2 246.8h.7v.7h-.7zM127.9 248.3h.7v.7h-.7zM130.4 252.1h.7v.7h-.7zM134.9 248.8h.7v.7h-.7zM129.8 251.4h.7v.7h-.7zM133.1 248.5h.7v.7h-.7zM133.9 245.6h.7v.7h-.7zM129.6 245.8h.7v.7h-.7zM126.7 247.2h.7v.7h-.7zM135.6 253.4h.7v.7h-.7zM131.6 249.6h.7v.7h-.7zM120.7 245.0h.7v.7h-.7zM129.2 251.0h.7v.7h-.7zM130.6 247.4h.7v.7h-.7zM125.4 250.6h.7v.7h-.7zM137.6 251.0h.7v.7h-.7zM128.3 248.9h.7v.7h-.7zM130.3 250.0h.7v.7h-.7zM122.8 253.1h.7v.7h-.7zM130.3 250.6h.7v.7h-.7zM126.7 252.0h.7v.7h-.7zM132.5 247.4h.7v.7h-.7zM132.6 247.4h.7v.7h-.7zM121.1 251.3h.7v.7h-.7zM124.5 247.8h.7v.7h-.7zM124.8 249.0h.7v.7h-.7zM127.1 249.6h.7v.7h-.7zM130.4 253.3h.7v.7h-.7zM130.3 250.5h.7v.7h-.7zM130.5 251.2h.7v.7h-.7zM132.1 249.9h.7v.7h-.7zM123.9 246.8h.7v.7h-.7zM129.6 248.4h.7v.7h-.7zM126.9 247.9h.7v.7h-.7zM125.6 251.9h.7v.7h-.7zM131.6 246.0h.7v.7h-.7zM129.3 249.2h.7v.7h-.7zM126.7 251.8h.7v.7h-.7zM129.8 249.4h.7v.7h-.7zM125.1 251.6h.7v.7h-.7zM129.5 249.9h.7v.7h-.7zM125.7 252.9h.7v.7h-.7zM116.1 245.7h.7v.7h-.7zM121.9 246.0h.7v.7h-.7zM124.4 247.9h.7v.7h-.7zM127.2 249.7h.7v.7h-.7zM133.9 250.6h.7v.7h-.7zM129.0 248.8h.7v.7h-.7zM130.0 251.2h.7v.7h-.7zM125.6 253.6h.7v.7h-.7zM128.4 251.3h.7v.7h-.7zM118.7 249.7h.7v.7h-.7zM126.9 252.6h.7v.7h-.7zM132.6 250.0h.7v.7h-.7zM131.0 248.4h.7v.7h-.7zM124.9 252.1h.7v.7h-.7zM123.7 247.9h.7v.7h-.7zM123.8 246.8h.7v.7h-.7zM126.9 251.3h.7v.7h-.7zM124.6 251.0h.7v.7h-.7zM121.1 247.1h.7v.7h-.7zM125.0 250.9h.7v.7h-.7zM133.8 243.4h.7v.7h-.7zM128.8 253.2h.7v.7h-.7zM128.6 253.3h.7v.7h-.7zM133.1 249.9h.7v.7h-.7zM122.9 247.5h.7v.7h-.7zM134.7 247.0h.7v.7h-.7zM124.2 248.1h.7v.7h-.7zM133.6 249.5h.7v.7h-.7zM122.4 247.6h.7v.7h-.7zM131.2 252.1h.7v.7h-.7zM134.6 250.5h.7v.7h-.7zM130.4 246.8h.7v.7h-.7zM126.3 245.8h.7v.7h-.7zM127.9 250.2h.7v.7h-.7zM128.7 246.9h.7v.7h-.7zM130.8 251.5h.7v.7h-.7zM133.4 243.8h.7v.7h-.7zM118.8 246.5h.7v.7h-.7zM130.6 251.8h.7v.7h-.7zM131.4 249.3h.7v.7h-.7zM129.5 248.6h.7v.7h-.7zM125.8 246.7h.7v.7h-.7zM141.2 248.6h.7v.7h-.7zM130.7 250.6h.7v.7h-.7z" fill="#000" fill-opacity="0.6"/>
<path d="M139.0 248.9h.7v.7h-.7zM139.1 253.6h.7v.7h-.7zM134.4 247.7h.7v.7h-.7zM133.3 248.2h.7v.7h-.7zM132.6 249.8h.7v.7h-.7zM138.3 251.8h.7v.7h-.7zM140.2 248.1h.7v.7h-.7zM136.9 247.2h.7v.7h-.7zM136.5 249.2h.7v.7h-.7zM137.8 248.9h.7v.7h-.7zM133.1 251.3h.7v.7h-.7zM135.9 245.8h.7v.7h-.7zM131.2 250.6h.7v.7h-.7zM131.0 250.5h.7v.7h-.7zM140.8 250.2h.7v.7h-.7zM138.7 250.3h.7v.7h-.7zM134.5 249.5h.7v.7h-.7zM130.7 250.4h.7v.7h-.7zM138.2 249.3h.7v.7h-.7zM139.5 248.6h.7v.7h-.7zM131.2 252.2h.7v.7h-.7zM136.6 247.6h.7v.7h-.7zM134.8 248.2h.7v.7h-.7zM136.9 246.1h.7v.7h-.7zM136.6 248.2h.7v.7h-.7zM138.2 248.3h.7v.7h-.7zM138.2 247.0h.7v.7h-.7zM137.4 248.3h.7v.7h-.7zM139.5 249.9h.7v.7h-.7zM139.3 247.9h.7v.7h-.7zM134.5 248.9h.7v.7h-.7zM133.2 248.4h.7v.7h-.7zM140.1 246.6h.7v.7h-.7zM134.6 249.2h.7v.7h-.7zM141.2 253.9h.7v.7h-.7zM134.7 247.9h.7v.7h-.7zM137.1 247.5h.7v.7h-.7zM130.4 250.3h.7v.7h-.7zM137.4 249.6h.7v.7h-.7zM137.9 249.4h.7v.7h-.7zM134.4 250.4h.7v.7h-.7zM136.2 249.4h.7v.7h-.7zM133.1 249.2h.7v.7h-.7zM136.2 247.0h.7v.7h-.7zM134.0 248.0h.7v.7h-.7zM136.3 247.6h.7v.7h-.7zM133.0 249.2h.7v.7h-.7zM132.7 249.7h.7v.7h-.7zM133.8 248.5h.7v.7h-.7zM139.6 243.9h.7v.7h-.7zM132.3 247.8h.7v.7h-.7zM135.9 247.0h.7v.7h-.7zM133.5 247.6h.7v.7h-.7zM133.3 249.2h.7v.7h-.7zM134.2 248.6h.7v.7h-.7zM136.4 250.5h.7v.7h-.7zM134.4 248.0h.7v.7h-.7zM137.5 244.1h.7v.7h-.7zM136.5 247.0h.7v.7h-.7zM138.9 248.3h.7v.7h-.7zM133.7 251.4h.7v.7h-.7zM134.7 247.0h.7v.7h-.7zM137.6 244.6h.7v.7h-.7zM135.8 250.6h.7v.7h-.7zM132.6 251.1h.7v.7h-.7zM135.4 247.7h.7v.7h-.7zM131.4 252.2h.7v.7h-.7zM140.3 248.2h.7v.7h-.7zM137.4 244.7h.7v.7h-.7zM136.5 249.8h.7v.7h-.7zM134.0 247.5h.7v.7h-.7zM135.7 247.1h.7v.7h-.7zM131.3 250.7h.7v.7h-.7zM138.9 250.3h.7v.7h-.7zM138.4 251.3h.7v.7h-.7zM135.3 242.3h.7v.7h-.7zM136.3 247.7h.7v.7h-.7zM132.8 250.1h.7v.7h-.7zM133.3 246.3h.7v.7h-.7zM143.4 248.1h.7v.7h-.7zM136.8 250.3h.7v.7h-.7zM138.0 248.7h.7v.7h-.7zM137.8 248.8h.7v.7h-.7zM134.9 248.4h.7v.7h-.7zM138.1 250.5h.7v.7h-.7zM137.6 245.6h.7v.7h-.7zM135.6 250.1h.7v.7h-.7zM135.1 250.1h.7v.7h-.7zM136.6 251.7h.7v.7h-.7zM129.5 249.4h.7v.7h-.7zM139.4 250.5h.7v.7h-.7zM134.8 248.5h.7v.7h-.7zM135.3 250.0h.7v.7h-.7zM138.5 247.7h.7v.7h-.7zM139.4 250.0h.7v.7h-.7zM130.1 248.1h.7v.7h-.7zM135.9 247.5h.7v.7h-.7zM136.6 248.9h.7v.7h-.7zM136.0 248.4h.7v.7h-.7zM137.1 247.7h.7v.7h-.7zM137.9 245.0h.7v.7h-.7zM136.5 247.9h.7v.7h-.7zM135.2 249.6h.7v.7h-.7zM134.4 241.8h.7v.7h-.7zM132.0 248.5h.7v.7h-.7zM135.5 247.9h.7v.7h-.7zM134.4 250.5h.7v.7h-.7zM136.3 246.6h.7v.7h-.7zM133.7 251.1h.7v.7h-.7zM136.6 249.8h.7v.7h-.7zM136.3 249.5h.7v.7h-.7zM134.7 246.8h.7v.7h-.7zM133.4 247.0h.7v.7h-.7zM141.5 250.4h.7v.7h-.7zM136.5 248.7h.7v.7h-.7zM131.5 250.7h.7v.7h-.7zM131.2 251.3h.7v.7h-.7zM134.8 245.8h.7v.7h-.7zM140.6 246.8h.7v.7h-.7zM135.5 248.6h.7v.7h-.7zM131.9 250.0h.7v.7h-.7zM132.4 248.6h.7v.7h-.7zM132.9 252.6h.7v.7h-.7zM136.4 252.3h.7v.7h-.7zM134.7 249.5h.7v.7h-.7zM137.9 249.1h.7v.7h-.7zM135.5 251.5h.7v.7h-.7zM137.4 249.1h.7v.7h-.7zM138.7 242.8h.7v.7h-.7zM133.2 250.1h.7v.7h-.7zM135.2 248.4h.7v.7h-.7zM131.9 248.2h.7v.7h-.7zM140.3 247.9h.7v.7h-.7zM133.3 248.3h.7v.7h-.7zM139.4 247.5h.7v.7h-.7zM131.5 249.5h.7v.7h-.7zM135.3 249.3h.7v.7h-.7zM131.3 246.5h.7v.7h-.7zM135.4 249.8h.7v.7h-.7zM141.4 252.1h.7v.7h-.7zM139.6 251.2h.7v.7h-.7zM139.4 250.4h.7v.7h-.7zM138.2 248.1h.7v.7h-.7zM134.8 252.0h.7v.7h-.7zM132.9 247.7h.7v.7h-.7zM135.6 249.4h.7v.7h-.7zM134.3 248.0h.7v.7h-.7zM134.0 247.3h.7v.7h-.7zM135.1 256.6h.7v.7h-.7zM132.8 254.5h.7v.7h-.7zM132.6 249.4h.7v.7h-.7zM136.1 250.4h.7v.7h-.7zM135.4 246.6h.7v.7h-.7zM134.7 248.3h.7v.7h-.7zM131.9 248.8h.7v.7h-.7zM136.6 245.6h.7v.7h-.7zM132.4 250.8h.7v.7h-.7zM133.5 247.5h.7v.7h-.7zM134.5 247.6h.7v.7h-.7zM137.9 249.5h.7v.7h-.7zM142.5 248.2h.7v.7h-.7zM137.4 247.4h.7v.7h-.7zM139.1 245.6h.7v.7h-.7zM133.8 248.5h.7v.7h-.7zM144.5 254.0h.7v.7h-.7zM142.2 249.0h.7v.7h-.7zM131.7 250.2h.7v.7h-.7zM139.5 247.5h.7v.7h-.7zM142.1 253.5h.7v.7h-.7zM131.3 248.1h.7v.7h-.7zM135.5 248.4h.7v.7h-.7zM135.8 249.1h.7v.7h-.7zM135.5 254.8h.7v.7h-.7zM134.9 246.2h.7v.7h-.7zM139.8 251.3h.7v.7h-.7zM132.9 247.0h.7v.7h-.7zM133.7 244.1h.7v.7h-.7zM132.4 250.0h.7v.7h-.7zM132.4 248.4h.7v.7h-.7zM135.5 247.7h.7v.7h-.7zM137.7 249.4h.7v.7h-.7zM140.0 249.8h.7v.7h-.7zM134.5 252.8h.7v.7h-.7zM137.2 250.1h.7v.7h-.7zM137.2 248.3h.7v.7h-.7zM133.5 251.8h.7v.7h-.7zM134.1 248.3h.7v.7h-.7zM138.9 251.3h.7v.7h-.7zM136.4 253.5h.7v.7h-.7zM135.6 254.3h.7v.7h-.7zM140.4 249.4h.7v.7h-.7zM135.6 251.6h.7v.7h-.7zM131.3 250.6h.7v.7h-.7zM138.3 252.6h.7v.7h-.7zM140.5 249.7h.7v.7h-.7zM137.7 246.8h.7v.7h-.7zM137.9 247.3h.7v.7h-.7zM132.3 253.0h.7v.7h-.7zM141.6 248.8h.7v.7h-.7zM137.2 254.4h.7v.7h-.7zM132.3 252.5h.7v.7h-.7zM135.4 250.4h.7v.7h-.7zM136.1 252.5h.7v.7h-.7zM139.9 248.6h.7v.7h-.7zM139.9 251.2h.7v.7h-.7zM140.5 246.6h.7v.7h-.7zM138.9 249.0h.7v.7h-.7zM137.1 245.5h.7v.7h-.7zM142.7 248.9h.7v.7h-.7zM137.7 245.6h.7v.7h-.7zM135.7 249.4h.7v.7h-.7zM136.7 246.5h.7v.7h-.7zM137.4 248.1h.7v.7h-.7zM139.0 246.4h.7v.7h-.7zM139.8 246.7h.7v.7h-.7zM133.0 250.1h.7v.7h-.7zM138.1 250.0h.7v.7h-.7zM134.6 248.3h.7v.7h-.7zM133.6 251.6h.7v.7h-.7zM131.0 246.3h.7v.7h-.7zM132.8 250.2h.7v.7h-.7zM131.9 250.8h.7v.7h-.7zM131.2 245.1h.7v.7h-.7zM137.3 249.9h.7v.7h-.7zM135.2 252.1h.7v.7h-.7zM135.0 247.8h.7v.7h-.7zM135.8 252.1h.7v.7h-.7zM135.8 253.3h.7v.7h-.7zM140.4 251.5h.7v.7h-.7zM139.0 252.0h.7v.7h-.7zM137.7 243.6h.7v.7h-.7zM136.8 248.7h.7v.7h-.7zM132.8 244.7h.7v.7h-.7zM136.7 246.5h.7v.7h-.7zM136.3 247.1h.7v.7h-.7zM137.3 246.8h.7v.7h-.7zM137.0 248.9h.7v.7h-.7zM134.9 248.4h.7v.7h-.7zM137.1 242.9h.7v.7h-.7zM130.6 249.2h.7v.7h-.7zM136.4 249.5h.7v.7h-.7zM137.3 246.8h.7v.7h-.7zM140.2 250.7h.7v.7h-.7zM137.3 248.4h.7v.7h-.7zM134.2 247.6h.7v.7h-.7zM137.4 249.2h.7v.7h-.7zM138.8 249.6h.7v.7h-.7zM135.0 251.7h.7v.7h-.7zM132.1 245.9h.7v.7h-.7zM137.4 247.9h.7v.7h-.7zM132.0 245.6h.7v.7h-.7zM136.3 252.1h.7v.7h-.7zM140.5 248.8h.7v.7h-.7zM135.5 247.1h.7v.7h-.7zM142.0 248.8h.7v.7h-.7zM135.2 250.7h.7v.7h-.7zM139.7 249.1h.7v.7h-.7zM140.0 246.1h.7v.7h-.7zM137.6 250.4h.7v.7h-.7zM137.5 250.5h.7v.7h-.7zM136.8 250.3h.7v.7h-.7zM130.0 247.3h.7v.7h-.7zM138.9 246.5h.7v.7h-.7zM133.7 253.6h.7v.7h-.7zM136.5 249.6h.7v.7h-.7zM137.4 253.0h.7v.7h-.7zM135.5 247.1h.7v.7h-.7zM137.1 252.2h.7v.7h-.7zM131.0 248.7h.7v.7h-.7zM135.1 249.3h.7v.7h-.7zM138.3 249.7h.7v.7h-.7zM131.6 248.5h.7v.7h-.7zM135.9 248.9h.7v.7h-.7zM139.5 248.3h.7v.7h-.7zM134.4 248.6h.7v.7h-.7zM136.4 250.6h.7v.7h-.7zM131.2 245.9h.7v.7h-.7zM136.1 251.1h.7v.7h-.7zM136.1 249.5h.7v.7h-.7zM141.5 249.3h.7v.7h-.7zM137.2 248.9h.7v.7h-.7zM139.2 250.2h.7v.7h-.7zM135.5 250.6h.7v.7h-.7zM137.6 247.9h.7v.7h-.7zM138.5 253.7h.7v.7h-.7zM133.0 246.6h.7v.7h-.7zM136.0 248.5h.7v.7h-.7zM137.0 248.9h.7v.7h-.7zM136.8 251.6h.7v.7h-.7zM140.1 244.2h.7v.7h-.7zM137.9 249.1h.7v.7h-.7zM137.9 249.1h.7v.7h-.7zM137.4 248.5h.7v.7h-.7zM134.4 248.6h.7v.7h-.7zM138.7 249.1h.7v.7h-.7zM136.1 251.9h.7v.7h-.7zM138.9 247.0h.7v.7h-.7zM133.9 248.6h.7v.7h-.7zM137.8 251.4h.7v.7h-.7zM131.2 252.1h.7v.7h-.7zM136.5 249.5h.7v.7h-.7zM138.8 249.6h.7v.7h-.7zM136.9 251.3h.7v.7h-.7zM139.8 246.5h.7v.7h-.7zM131.6 246.6h.7v.7h-.7zM137.1 248.4h.7v.7h-.7zM135.7 247.9h.7v.7h-.7zM133.8 250.2h.7v.7h-.7zM136.2 249.7h.7v.7h-.7zM137.9 252.4h.7v.7h-.7zM142.6 247.7h.7v.7h-.7zM140.2 249.4h.7v.7h-.7zM137.6 251.6h.7v.7h-.7zM134.6 248.7h.7v.7h-.7zM139.2 250.4h.7v.7h-.7zM141.7 250.4h.7v.7h-.7zM136.7 248.7h.7v.7h-.7zM138.1 244.8h.7v.7h-.7zM140.2 249.8h.7v.7h-.7zM134.5 249.2h.7v.7h-.7zM137.9 246.3h.7v.7h-.7zM139.0 244.0h.7v.7h-.7zM140.6 248.4h.7v.7h-.7zM137.1 248.4h.7v.7h-.7zM134.5 251.2h.7v.7h-.7zM133.4 248.8h.7v.7h-.7zM137.9 246.2h.7v.7h-.7zM138.2 247.0h.7v.7h-.7zM138.9 248.2h.7v.7h-.7zM140.2 248.9h.7v.7h-.7zM133.3 251.2h.7v.7h-.7zM139.9 251.2h.7v.7h-.7zM131.9 246.6h.7v.7h-.7zM139.1 250.1h.7v.7h-.7zM135.4 248.6h.7v.7h-.7zM136.8 244.1h.7v.7h-.7zM132.7 246.2h.7v.7h-.7zM139.4 248.1h.7v.7h-.7zM130.0 248.6h.7v.7h-.7zM135.2 247.3h.7v.7h-.7zM132.0 246.9h.7v.7h-.7zM137.2 248.0h.7v.7h-.7zM138.6 252.0h.7v.7h-.7zM135.3 245.4h.7v.7h-.7zM133.4 249.2h.7v.7h-.7zM138.5 248.6h.7v.7h-.7zM136.1 249.5h.7v.7h-.7zM139.9 250.6h.7v.7h-.7zM135.2 247.6h.7v.7h-.7zM136.2 247.6h.7v.7h-.7zM133.3 251.4h.7v.7h-.7zM136.9 246.5h.7v.7h-.7zM137.5 246.6h.7v.7h-.7zM133.4 245.3h.7v.7h-.7zM132.7 247.9h.7v.7h-.7zM137.0 248.8h.7v.7h-.7zM137.1 249.1h.7v.7h-.7zM134.9 251.6h.7v.7h-.7zM133.0 246.7h.7v.7h-.7zM142.4 249.5h.7v.7h-.7zM136.9 255.0h.7v.7h-.7zM133.0 252.7h.7v.7h-.7zM136.1 248.5h.7v.7h-.7zM133.3 248.8h.7v.7h-.7zM138.5 248.9h.7v.7h-.7zM134.8 249.9h.7v.7h-.7zM140.0 249.1h.7v.7h-.7zM135.0 248.1h.7v.7h-.7zM137.4 247.6h.7v.7h-.7zM140.4 247.7h.7v.7h-.7zM139.5 248.6h.7v.7h-.7zM138.5 246.3h.7v.7h-.7zM135.6 246.7h.7v.7h-.7zM133.9 248.9h.7v.7h-.7zM132.7 253.5h.7v.7h-.7zM141.3 251.1h.7v.7h-.7zM136.3 247.6h.7v.7h-.7zM131.1 250.8h.7v.7h-.7zM132.7 248.8h.7v.7h-.7zM134.5 249.0h.7v.7h-.7zM141.3 248.8h.7v.7h-.7zM135.7 251.1h.7v.7h-.7zM134.7 244.5h.7v.7h-.7zM134.0 248.4h.7v.7h-.7zM133.9 251.2h.7v.7h-.7zM139.8 246.6h.7v.7h-.7zM136.4 249.5h.7v.7h-.7zM135.0 247.5h.7v.7h-.7zM137.6 248.0h.7v.7h-.7zM141.7 248.9h.7v.7h-.7zM136.3 249.4h.7v.7h-.7zM136.9 248.0h.7v.7h-.7zM138.0 250.8h.7v.7h-.7zM136.9 249.9h.7v.7h-.7zM132.1 248.0h.7v.7h-.7zM136.5 248.2h.7v.7h-.7zM139.5 249.8h.7v.7h-.7zM136.2 247.4h.7v.7h-.7zM135.1 248.4h.7v.7h-.7zM141.2 246.2h.7v.7h-.7zM139.0 248.1h.7v.7h-.7zM141.1 251.1h.7v.7h-.7zM133.7 249.8h.7v.7h-.7zM132.1 250.6h.7v.7h-.7zM135.9 246.6h.7v.7h-.7zM136.1 250.3h.7v.7h-.7zM143.6 250.9h.7v.7h-.7zM137.4 248.8h.7v.7h-.7zM129.6 245.6h.7v.7h-.7zM129.2 246.2h.7v.7h-.7zM139.2 251.9h.7v.7h-.7zM137.1 248.0h.7v.7h-.7zM138.4 254.3h.7v.7h-.7zM136.7 252.2h.7v.7h-.7zM140.3 247.1h.7v.7h-.7zM136.7 247.1h.7v.7h-.7zM137.3 248.0h.7v.7h-.7zM133.5 250.6h.7v.7h-.7zM136.1 248.4h.7v.7h-.7zM138.9 250.0h.7v.7h-.7zM140.0 253.2h.7v.7h-.7zM132.5 250.1h.7v.7h-.7zM131.0 251.0h.7v.7h-.7zM142.1 246.8h.7v.7h-.7zM139.9 250.5h.7v.7h-.7zM137.4 243.9h.7v.7h-.7zM133.1 248.1h.7v.7h-.7zM136.5 249.3h.7v.7h-.7zM138.7 249.3h.7v.7h-.7zM135.7 246.7h.7v.7h-.7zM134.0 248.5h.7v.7h-.7zM143.0 248.1h.7v.7h-.7zM136.0 251.3h.7v.7h-.7zM138.7 250.4h.7v.7h-.7zM136.6 252.7h.7v.7h-.7zM134.5 252.2h.7v.7h-.7zM140.9 249.6h.7v.7h-.7zM134.7 247.6h.7v.7h-.7zM137.1 244.4h.7v.7h-.7zM140.1 247.0h.7v.7h-.7zM132.6 250.1h.7v.7h-.7zM136.5 247.0h.7v.7h-.7zM140.2 246.3h.7v.7h-.7zM134.6 245.4h.7v.7h-.7zM141.5 250.3h.7v.7h-.7zM132.0 250.2h.7v.7h-.7zM134.5 247.0h.7v.7h-.7zM135.8 244.5h.7v.7h-.7zM136.9 249.0h.7v.7h-.7zM140.8 247.0h.7v.7h-.7zM132.1 246.8h.7v.7h-.7zM134.5 250.9h.7v.7h-.7zM143.0 250.3h.7v.7h-.7zM137.6 246.4h.7v.7h-.7zM132.1 246.2h.7v.7h-.7zM138.3 251.6h.7v.7h-.7zM135.6 246.0h.7v.7h-.7zM138.6 248.7h.7v.7h-.7zM134.1 245.4h.7v.7h-.7zM130.8 252.5h.7v.7h-.7zM134.9 249.7h.7v.7h-.7zM137.7 251.0h.7v.7h-.7zM142.9 248.6h.7v.7h-.7zM139.9 247.0h.7v.7h-.7zM132.0 248.9h.7v.7h-.7zM130.4 245.5h.7v.7h-.7zM134.0 250.4h.7v.7h-.7zM135.6 244.9h.7v.7h-.7zM136.2 247.6h.7v.7h-.7zM134.7 247.6h.7v.7h-.7zM136.0 250.7h.7v.7h-.7zM137.8 249.1h.7v.7h-.7zM133.8 245.4h.7v.7h-.7zM142.0 252.5h.7v.7h-.7zM131.2 249.9h.7v.7h-.7zM137.5 249.2h.7v.7h-.7zM136.8 248.0h.7v.7h-.7zM140.6 249.8h.7v.7h-.7zM139.3 249.6h.7v.7h-.7zM136.9 248.0h.7v.7h-.7zM139.9 244.8h.7v.7h-.7zM140.4 248.5h.7v.7h-.7zM137.1 247.8h.7v.7h-.7zM130.8 246.9h.7v.7h-.7zM137.5 247.9h.7v.7h-.7zM137.7 247.0h.7v.7h-.7zM131.0 248.7h.7v.7h-.7zM135.0 247.2h.7v.7h-.7zM140.6 244.8h.7v.7h-.7zM136.6 248.3h.7v.7h-.7zM140.2 249.3h.7v.7h-.7zM137.3 249.6h.7v.7h-.7zM136.9 248.5h.7v.7h-.7zM135.8 250.9h.7v.7h-.7zM142.9 246.7h.7v.7h-.7zM137.0 246.5h.7v.7h-.7zM142.0 253.0h.7v.7h-.7zM137.0 252.2h.7v.7h-.7zM136.9 246.3h.7v.7h-.7zM141.6 245.4h.7v.7h-.7zM133.2 251.7h.7v.7h-.7zM138.9 250.4h.7v.7h-.7zM135.2 247.4h.7v.7h-.7zM132.8 251.8h.7v.7h-.7zM137.9 254.0h.7v.7h-.7zM137.6 250.3h.7v.7h-.7zM134.7 247.9h.7v.7h-.7zM137.8 247.2h.7v.7h-.7zM139.4 251.5h.7v.7h-.7zM132.5 250.4h.7v.7h-.7zM137.1 249.5h.7v.7h-.7zM135.3 251.7h.7v.7h-.7zM136.9 250.5h.7v.7h-.7zM137.5 247.5h.7v.7h-.7zM132.8 252.8h.7v.7h-.7zM141.5 248.9h.7v.7h-.7zM139.5 252.0h.7v.7h-.7zM140.8 251.2h.7v.7h-.7zM136.0 250.6h.7v.7h-.7zM134.8 249.6h.7v.7h-.7zM133.5 245.3h.7v.7h-.7zM133.6 245.4h.7v.7h-.7zM137.6 250.6h.7v.7h-.7zM137.7 247.3h.7v.7h-.7zM136.2 246.0h.7v.7h-.7zM137.6 250.3h.7v.7h-.7zM142.0 246.7h.7v.7h-.7zM135.9 248.8h.7v.7h-.7zM143.3 249.6h.7v.7h-.7zM137.7 245.6h.7v.7h-.7zM135.9 254.0h.7v.7h-.7zM140.4 250.6h.7v.7h-.7zM135.2 247.0h.7v.7h-.7zM137.0 247.6h.7v.7h-.7zM143.1 247.7h.7v.7h-.7zM134.9 250.7h.7v.7h-.7zM137.1 247.0h.7v.7h-.7zM132.4 247.1h.7v.7h-.7zM141.0 247.7h.7v.7h-.7zM135.8 251.1h.7v.7h-.7zM141.1 250.9h.7v.7h-.7zM137.5 247.6h.7v.7h-.7zM133.6 249.4h.7v.7h-.7zM136.2 249.5h.7v.7h-.7zM130.2 245.8h.7v.7h-.7zM138.7 252.4h.7v.7h-.7zM136.8 246.2h.7v.7h-.7zM138.1 247.0h.7v.7h-.7zM135.5 248.4h.7v.7h-.7zM138.6 251.5h.7v.7h-.7zM138.2 246.8h.7v.7h-.7zM139.5 247.9h.7v.7h-.7zM131.9 251.2h.7v.7h-.7zM142.0 246.6h.7v.7h-.7zM135.2 247.7h.7v.7h-.7zM134.9 251.7h.7v.7h-.7zM138.8 249.4h.7v.7h-.7zM136.8 247.3h.7v.7h-.7zM134.8 247.4h.7v.7h-.7zM138.1 250.5h.7v.7h-.7zM135.3 250.7h.7v.7h-.7zM133.8 253.8h.7v.7h-.7zM133.2 247.8h.7v.7h-.7zM136.1 250.9h.7v.7h-.7zM137.1 247.0h.7v.7h-.7zM138.1 250.8h.7v.7h-.7zM133.0 244.2h.7v.7h-.7zM138.0 246.7h.7v.7h-.7zM139.4 253.2h.7v.7h-.7zM140.1 249.7h.7v.7h-.7zM138.9 248.6h.7v.7h-.7zM133.8 248.7h.7v.7h-.7zM135.1 249.6h.7v.7h-.7zM132.9 246.6h.7v.7h-.7zM136.6 249.2h.7v.7h-.7zM136.5 251.1h.7v.7h-.7zM132.0 250.5h.7v.7h-.7zM135.5 248.9h.7v.7h-.7zM139.5 249.3h.7v.7h-.7zM139.0 252.6h.7v.7h-.7zM136.2 244.8h.7v.7h-.7zM134.8 247.9h.7v.7h-.7zM136.9 247.2h.7v.7h-.7zM136.7 249.6h.7v.7h-.7zM130.5 252.6h.7v.7h-.7zM134.5 245.9h.7v.7h-.7zM134.0 250.7h.7v.7h-.7zM145.7 244.4h.7v.7h-.7zM134.3 251.6h.7v.7h-.7zM134.3 249.1h.7v.7h-.7zM135.0 248.9h.7v.7h-.7zM137.2 246.8h.7v.7h-.7zM133.3 245.7h.7v.7h-.7zM137.0 254.6h.7v.7h-.7zM139.7 248.8h.7v.7h-.7zM140.2 250.4h.7v.7h-.7zM135.4 247.5h.7v.7h-.7zM136.7 247.2h.7v.7h-.7zM136.2 250.0h.7v.7h-.7zM132.6 246.4h.7v.7h-.7zM135.4 247.2h.7v.7h-.7zM136.0 249.7h.7v.7h-.7zM137.3 250.6h.7v.7h-.7zM136.5 249.7h.7v.7h-.7zM136.0 249.2h.7v.7h-.7zM136.1 249.0h.7v.7h-.7zM135.3 249.7h.7v.7h-.7zM138.7 252.0h.7v.7h-.7zM141.0 250.8h.7v.7h-.7zM134.5 246.0h.7v.7h-.7zM131.6 248.3h.7v.7h-.7zM136.9 251.3h.7v.7h-.7zM136.6 249.0h.7v.7h-.7zM132.7 250.6h.7v.7h-.7zM141.9 248.1h.7v.7h-.7zM142.6 250.7h.7v.7h-.7zM133.8 250.4h.7v.7h-.7zM137.0 249.8h.7v.7h-.7zM132.7 249.9h.7v.7h-.7zM139.0 246.3h.7v.7h-.7zM137.7 251.9h.7v.7h-.7zM137.3 247.4h.7v.7h-.7zM135.7 250.7h.7v.7h-.7zM138.0 248.8h.7v.7h-.7zM134.4 247.4h.7v.7h-.7zM135.7 246.3h.7v.7h-.7zM137.5 253.5h.7v.7h-.7zM135.7 248.9h.7v.7h-.7zM136.7 250.4h.7v.7h-.7zM135.5 250.2h.7v.7h-.7zM133.8 246.5h.7v.7h-.7zM134.5 250.1h.7v.7h-.7zM134.4 247.3h.7v.7h-.7zM137.0 244.4h.7v.7h-.7zM135.0 243.7h.7v.7h-.7zM134.4 253.3h.7v.7h-.7zM131.4 251.5h.7v.7h-.7zM134.5 247.7h.7v.7h-.7zM135.2 253.5h.7v.7h-.7zM134.6 249.1h.7v.7h-.7zM134.8 248.4h.7v.7h-.7zM138.5 249.7h.7v.7h-.7zM136.6 247.4h.7v.7h-.7zM136.9 248.5h.7v.7h-.7zM136.2 249.2h.7v.7h-.7zM134.7 246.1h.7v.7h-.7zM137.5 244.9h.7v.7h-.7zM138.9 247.7h.7v.7h-.7zM133.6 251.3h.7v.7h-.7zM134.3 249.1h.7v.7h-.7zM133.6 249.9h.7v.7h-.7zM137.2 248.4h.7v.7h-.7zM135.6 245.4h.7v.7h-.7zM139.6 247.5h.7v.7h-.7zM135.9 247.9h.7v.7h-.7zM137.0 248.5h.7v.7h-.7zM135.2 248.3h.7v.7h-.7zM136.9 252.5h.7v.7h-.7zM132.9 251.3h.7v.7h-.7zM136.6 250.0h.7v.7h-.7zM134.3 251.2h.7v.7h-.7zM138.5 244.7h.7v.7h-.7zM131.1 252.8h.7v.7h-.7zM134.5 248.4h.7v.7h-.7zM131.8 248.9h.7v.7h-.7zM136.4 247.8h.7v.7h-.7zM140.1 248.5h.7v.7h-.7zM138.8 249.1h.7v.7h-.7zM136.8 248.3h.7v.7h-.7zM134.6 252.2h.7v.7h-.7zM139.6 251.6h.7v.7h-.7zM134.3 248.0h.7v.7h-.7zM136.7 248.2h.7v.7h-.7zM138.1 252.7h.7v.7h-.7zM134.6 248.0h.7v.7h-.7zM131.8 251.8h.7v.7h-.7zM136.8 249.7h.7v.7h-.7zM134.3 249.0h.7v.7h-.7zM135.4 247.4h.7v.7h-.7zM137.8 251.9h.7v.7h-.7zM140.0 248.3h.7v.7h-.7zM145.4 247.5h.7v.7h-.7zM136.3 246.0h.7v.7h-.7zM135.5 249.7h.7v.7h-.7zM134.4 248.7h.7v.7h-.7zM133.4 248.0h.7v.7h-.7zM132.6 247.9h.7v.7h-.7zM129.9 247.1h.7v.7h-.7zM134.9 248.6h.7v.7h-.7zM140.0 246.5h.7v.7h-.7zM134.1 250.8h.7v.7h-.7zM133.5 248.1h.7v.7h-.7zM131.2 241.9h.7v.7h-.7zM142.6 250.7h.7v.7h-.7zM142.3 248.7h.7v.7h-.7zM132.0 249.8h.7v.7h-.7zM133.5 249.5h.7v.7h-.7zM137.4 250.3h.7v.7h-.7zM133.9 249.3h.7v.7h-.7zM137.4 252.0h.7v.7h-.7z" fill="#000" fill-opacity="0.75"/>
<path d="M123.9 257.5h.7v.7h-.7zM131.9 255.1h.7v.7h-.7zM122.1 255.0h.7v.7h-.7zM131.8 252.9h.7v.7h-.7zM132.0 254.9h.7v.7h-.7zM124.8 253.2h.7v.7h-.7zM125.3 255.5h.7v.7h-.7zM140.4 254.7h.7v.7h-.7zM124.3 255.6h.7v.7h-.7zM134.5 255.7h.7v.7h-.7zM125.6 250.6h.7v.7h-.7zM128.4 254.4h.7v.7h-.7zM117.8 254.5h.7v.7h-.7zM119.0 254.0h.7v.7h-.7zM136.6 253.6h.7v.7h-.7zM108.1 256.1h.7v.7h-.7zM126.0 254.5h.7v.7h-.7zM112.5 251.5h.7v.7h-.7zM123.9 253.6h.7v.7h-.7zM128.1 254.1h.7v.7h-.7zM129.5 253.8h.7v.7h-.7zM129.7 253.7h.7v.7h-.7zM130.7 255.5h.7v.7h-.7zM114.7 254.4h.7v.7h-.7zM123.9 254.5h.7v.7h-.7zM141.4 253.5h.7v.7h-.7zM125.5 254.8h.7v.7h-.7zM109.7 256.7h.7v.7h-.7zM131.7 254.2h.7v.7h-.7zM134.2 258.7h.7v.7h-.7zM120.5 256.6h.7v.7h-.7zM140.5 253.2h.7v.7h-.7zM130.7 252.4h.7v.7h-.7zM129.1 253.4h.7v.7h-.7zM131.6 253.9h.7v.7h-.7zM136.8 256.4h.7v.7h-.7zM140.5 254.4h.7v.7h-.7zM124.5 254.0h.7v.7h-.7zM122.1 254.3h.7v.7h-.7zM119.1 254.1h.7v.7h-.7zM133.4 256.0h.7v.7h-.7zM130.3 252.1h.7v.7h-.7zM139.0 257.4h.7v.7h-.7zM133.9 253.9h.7v.7h-.7zM132.2 254.4h.7v.7h-.7zM114.6 256.3h.7v.7h-.7zM133.9 255.3h.7v.7h-.7zM132.5 254.6h.7v.7h-.7zM117.6 256.9h.7v.7h-.7zM124.5 254.0h.7v.7h-.7zM130.9 251.9h.7v.7h-.7zM125.3 255.4h.7v.7h-.7zM125.2 250.7h.7v.7h-.7zM128.4 255.9h.7v.7h-.7zM116.7 258.1h.7v.7h-.7zM128.5 254.6h.7v.7h-.7zM130.7 256.1h.7v.7h-.7zM129.1 254.4h.7v.7h-.7zM129.9 252.6h.7v.7h-.7zM142.9 251.9h.7v.7h-.7zM125.8 253.3h.7v.7h-.7zM128.0 254.4h.7v.7h-.7zM135.2 254.4h.7v.7h-.7zM124.9 257.8h.7v.7h-.7zM119.1 254.5h.7v.7h-.7zM124.2 256.1h.7v.7h-.7zM127.1 256.4h.7v.7h-.7zM121.2 255.0h.7v.7h-.7zM131.6 254.5h.7v.7h-.7zM129.4 252.0h.7v.7h-.7zM131.0 254.1h.7v.7h-.7zM142.0 253.0h.7v.7h-.7zM115.3 257.7h.7v.7h-.7zM142.4 254.2h.7v.7h-.7zM111.8 253.4h.7v.7h-.7zM129.4 255.2h.7v.7h-.7zM134.9 256.4h.7v.7h-.7zM132.1 254.2h.7v.7h-.7zM137.9 257.0h.7v.7h-.7zM130.0 253.9h.7v.7h-.7zM133.3 254.8h.7v.7h-.7zM126.9 254.7h.7v.7h-.7zM136.3 256.9h.7v.7h-.7zM135.1 255.2h.7v.7h-.7zM124.4 252.0h.7v.7h-.7zM125.4 255.3h.7v.7h-.7zM120.2 255.2h.7v.7h-.7zM120.7 254.9h.7v.7h-.7zM105.6 255.2h.7v.7h-.7zM132.8 254.6h.7v.7h-.7zM132.5 253.0h.7v.7h-.7zM127.7 253.9h.7v.7h-.7zM127.6 254.5h.7v.7h-.7zM128.4 253.3h.7v.7h-.7zM123.6 251.7h.7v.7h-.7zM125.1 250.5h.7v.7h-.7zM129.7 257.6h.7v.7h-.7zM123.2 253.8h.7v.7h-.7zM127.7 255.2h.7v.7h-.7zM132.9 253.7h.7v.7h-.7zM124.7 255.2h.7v.7h-.7zM130.3 252.6h.7v.7h-.7zM131.0 257.2h.7v.7h-.7zM113.2 253.9h.7v.7h-.7zM124.7 252.9h.7v.7h-.7zM116.5 257.2h.7v.7h-.7zM128.6 255.2h.7v.7h-.7zM134.7 252.6h.7v.7h-.7zM136.8 253.5h.7v.7h-.7zM135.5 254.5h.7v.7h-.7zM137.9 255.4h.7v.7h-.7zM126.9 256.1h.7v.7h-.7zM122.2 255.5h.7v.7h-.7zM116.2 254.3h.7v.7h-.7zM142.3 256.0h.7v.7h-.7zM119.5 256.6h.7v.7h-.7zM124.7 255.2h.7v.7h-.7zM124.3 255.5h.7v.7h-.7zM123.0 256.7h.7v.7h-.7zM124.7 253.6h.7v.7h-.7z" fill="#000" fill-opacity="0.28"/>
<ellipse cx="135.5" cy="249" rx="5.5" ry="3" fill="#000" fill-opacity="0.9" filter="url(#blur2)"/>
<ellipse cx="124.5" cy="249.3" rx="6" ry="3" fill="#000" fill-opacity="0.5" filter="url(#blur2)"/>
</g>
<line x1="129.1" y1="234.3" x2="129.1" y2="292.2" stroke="#8888e0" stroke-width="0.75"/>
<line x1="94.2" y1="261.6" x2="152.1" y2="261.6" stroke="#8888e0" stroke-width="0.75"/>
<text x="95.8" y="238.09" font-size="3.6" font-weight="bold" textLength="7.3" lengthAdjust="spacingAndGlyphs" stroke="#222" stroke-width="0.1">61.4</text>
<text x="143.5" y="238.09" font-size="3.6" font-weight="bold" textLength="7.2" lengthAdjust="spacingAndGlyphs" stroke="#222" stroke-width="0.1">58.2</text>
<rect x="161.9" y="234.3" width="57.7" height="57.9" fill="#fff" stroke="#555" stroke-width="0.7"/>
<line x1="160.7" y1="238.8" x2="161.9" y2="238.8" stroke="#555" stroke-width="0.6"/>
<text x="160.4" y="239.9" font-size="3.2" text-anchor="end">10<tspan dy="-1.2" font-size="2.3">5</tspan></text>
<line x1="160.7" y1="252.3" x2="161.9" y2="252.3" stroke="#555" stroke-width="0.6"/>
<text x="160.4" y="253.4" font-size="3.2" text-anchor="end">10<tspan dy="-1.2" font-size="2.3">4</tspan></text>
<line x1="160.7" y1="265.5" x2="161.9" y2="265.5" stroke="#555" stroke-width="0.6"/>
<text x="160.4" y="266.6" font-size="3.2" text-anchor="end">10<tspan dy="-1.2" font-size="2.3">3</tspan></text>
<line x1="160.7" y1="279.4" x2="161.9" y2="279.4" stroke="#555" stroke-width="0.6"/>
<text x="160.4" y="280.5" font-size="3.2" text-anchor="end">10<tspan dy="-1.2" font-size="2.3">2</tspan></text>
<line x1="160.7" y1="286.3" x2="161.9" y2="286.3" stroke="#555" stroke-width="0.6"/>
<text x="158.7" y="287.45" font-size="3.2" textLength="1.4" lengthAdjust="spacingAndGlyphs">0</text>
<line x1="168" y1="292.2" x2="168" y2="293.4" stroke="#555" stroke-width="0.6"/>
<text x="167.2" y="296.55" font-size="3.2" textLength="1.6" lengthAdjust="spacingAndGlyphs">0</text>
<line x1="173.7" y1="292.2" x2="173.7" y2="293.4" stroke="#555" stroke-width="0.6"/>
<text x="173.7" y="296.5" font-size="3.2" text-anchor="middle">10<tspan dy="-1.2" font-size="2.3">2</tspan></text>
<line x1="187.8" y1="292.2" x2="187.8" y2="293.4" stroke="#555" stroke-width="0.6"/>
<text x="187.8" y="296.5" font-size="3.2" text-anchor="middle">10<tspan dy="-1.2" font-size="2.3">3</tspan></text>
<line x1="201.6" y1="292.2" x2="201.6" y2="293.4" stroke="#555" stroke-width="0.6"/>
<text x="201.6" y="296.5" font-size="3.2" text-anchor="middle">10<tspan dy="-1.2" font-size="2.3">4</tspan></text>
<line x1="214.9" y1="292.2" x2="214.9" y2="293.4" stroke="#555" stroke-width="0.6"/>
<text x="214.9" y="296.5" font-size="3.2" text-anchor="middle">10<tspan dy="-1.2" font-size="2.3">5</tspan></text>
<g>
<path d="M182.7 249.3h.7v.7h-.7zM173.0 251.4h.7v.7h-.7zM175.2 247.4h.7v.7h-.7zM168.9 249.0h.7v.7h-.7zM165.6 248.8h.7v.7h-.7zM168.4 250.3h.7v.7h-.7zM166.5 252.1h.7v.7h-.7zM168.3 242.7h.7v.7h-.7zM177.0 250.0h.7v.7h-.7zM167.3 251.7h.7v.7h-.7zM172.1 251.1h.7v.7h-.7zM166.7 251.5h.7v.7h-.7zM163.3 254.8h.7v.7h-.7zM164.7 250.5h.7v.7h-.7zM171.1 251.6h.7v.7h-.7zM169.8 252.3h.7v.7h-.7zM169.6 249.5h.7v.7h-.7zM178.0 248.1h.7v.7h-.7zM169.9 245.4h.7v.7h-.7zM171.7 246.4h.7v.7h-.7zM173.9 250.6h.7v.7h-.7zM171.2 246.9h.7v.7h-.7zM165.0 251.8h.7v.7h-.7zM164.7 255.3h.7v.7h-.7zM175.5 249.3h.7v.7h-.7zM170.1 248.0h.7v.7h-.7zM171.8 253.3h.7v.7h-.7zM170.1 249.5h.7v.7h-.7zM174.3 249.9h.7v.7h-.7zM174.7 249.8h.7v.7h-.7zM178.5 249.9h.7v.7h-.7zM165.0 250.9h.7v.7h-.7zM167.1 248.2h.7v.7h-.7zM169.7 252.6h.7v.7h-.7zM169.6 250.3h.7v.7h-.7zM174.4 247.2h.7v.7h-.7zM173.7 250.1h.7v.7h-.7zM170.9 250.1h.7v.7h-.7zM168.7 249.3h.7v.7h-.7zM172.5 256.3h.7v.7h-.7zM175.8 253.0h.7v.7h-.7zM173.3 249.5h.7v.7h-.7zM173.5 256.2h.7v.7h-.7zM164.0 252.9h.7v.7h-.7zM175.6 251.5h.7v.7h-.7zM174.5 254.4h.7v.7h-.7zM181.8 254.2h.7v.7h-.7zM179.0 251.7h.7v.7h-.7zM174.8 251.3h.7v.7h-.7zM172.1 249.6h.7v.7h-.7zM174.1 254.6h.7v.7h-.7zM169.9 251.5h.7v.7h-.7zM173.9 250.9h.7v.7h-.7zM175.5 251.5h.7v.7h-.7zM164.8 248.2h.7v.7h-.7zM174.4 252.5h.7v.7h-.7zM176.4 251.5h.7v.7h-.7zM171.8 246.8h.7v.7h-.7zM177.9 248.5h.7v.7h-.7zM176.1 247.9h.7v.7h-.7zM167.5 251.3h.7v.7h-.7zM168.7 249.1h.7v.7h-.7zM175.4 252.7h.7v.7h-.7zM172.8 250.0h.7v.7h-.7zM166.7 249.7h.7v.7h-.7zM168.2 250.9h.7v.7h-.7zM174.7 250.5h.7v.7h-.7zM166.9 249.3h.7v.7h-.7zM177.3 251.4h.7v.7h-.7zM172.1 251.7h.7v.7h-.7zM173.9 251.3h.7v.7h-.7zM176.8 253.1h.7v.7h-.7zM185.8 247.6h.7v.7h-.7zM171.6 253.8h.7v.7h-.7zM171.0 254.5h.7v.7h-.7zM164.6 247.7h.7v.7h-.7zM170.0 249.1h.7v.7h-.7zM165.6 252.5h.7v.7h-.7zM172.3 251.0h.7v.7h-.7zM169.0 251.7h.7v.7h-.7zM170.4 249.1h.7v.7h-.7zM173.6 252.0h.7v.7h-.7zM171.4 252.8h.7v.7h-.7zM165.5 250.6h.7v.7h-.7zM168.4 254.5h.7v.7h-.7zM173.5 256.5h.7v.7h-.7zM178.9 250.0h.7v.7h-.7zM165.5 252.3h.7v.7h-.7zM169.6 250.6h.7v.7h-.7zM165.7 252.6h.7v.7h-.7zM171.9 252.0h.7v.7h-.7zM172.6 248.7h.7v.7h-.7zM167.8 249.6h.7v.7h-.7zM175.8 250.7h.7v.7h-.7zM178.5 251.5h.7v.7h-.7zM174.4 252.3h.7v.7h-.7zM175.0 247.7h.7v.7h-.7zM176.5 251.3h.7v.7h-.7zM166.1 252.6h.7v.7h-.7zM172.7 254.3h.7v.7h-.7zM174.7 252.0h.7v.7h-.7zM162.8 255.4h.7v.7h-.7zM178.4 253.0h.7v.7h-.7zM173.3 254.2h.7v.7h-.7zM166.7 252.8h.7v.7h-.7zM171.1 248.4h.7v.7h-.7zM172.8 251.9h.7v.7h-.7zM179.5 253.5h.7v.7h-.7zM163.0 245.9h.7v.7h-.7zM170.6 250.5h.7v.7h-.7zM166.3 247.2h.7v.7h-.7zM170.0 248.0h.7v.7h-.7z" fill="#000" fill-opacity="0.22"/>
<path d="M177.5 253.1h.7v.7h-.7zM182.2 248.2h.7v.7h-.7zM175.4 249.9h.7v.7h-.7zM189.7 249.0h.7v.7h-.7zM189.7 248.1h.7v.7h-.7zM179.9 252.6h.7v.7h-.7zM177.1 250.7h.7v.7h-.7zM174.2 252.5h.7v.7h-.7zM186.8 248.5h.7v.7h-.7zM181.9 249.3h.7v.7h-.7zM170.2 258.7h.7v.7h-.7zM184.1 253.0h.7v.7h-.7zM182.9 251.0h.7v.7h-.7zM192.9 245.0h.7v.7h-.7zM179.4 249.2h.7v.7h-.7zM180.0 252.6h.7v.7h-.7zM177.4 246.5h.7v.7h-.7zM175.4 251.9h.7v.7h-.7zM185.8 252.9h.7v.7h-.7zM189.0 248.9h.7v.7h-.7zM186.0 252.6h.7v.7h-.7zM180.2 248.2h.7v.7h-.7zM185.4 248.5h.7v.7h-.7zM179.5 247.6h.7v.7h-.7zM189.7 250.3h.7v.7h-.7zM178.5 249.8h.7v.7h-.7zM179.9 250.8h.7v.7h-.7zM172.5 247.0h.7v.7h-.7zM183.5 253.7h.7v.7h-.7zM175.9 250.8h.7v.7h-.7zM178.1 243.7h.7v.7h-.7zM179.4 247.2h.7v.7h-.7zM185.4 249.9h.7v.7h-.7zM180.8 246.1h.7v.7h-.7zM181.7 244.7h.7v.7h-.7zM182.1 254.6h.7v.7h-.7zM174.9 253.1h.7v.7h-.7zM188.0 249.9h.7v.7h-.7zM186.6 250.7h.7v.7h-.7zM178.5 244.5h.7v.7h-.7zM175.6 246.0h.7v.7h-.7zM192.9 251.3h.7v.7h-.7zM180.1 246.4h.7v.7h-.7zM189.6 247.0h.7v.7h-.7zM188.4 253.8h.7v.7h-.7zM181.4 248.5h.7v.7h-.7zM180.8 246.5h.7v.7h-.7zM184.2 255.6h.7v.7h-.7zM185.5 253.6h.7v.7h-.7zM177.5 251.4h.7v.7h-.7zM175.9 249.1h.7v.7h-.7zM184.6 258.0h.7v.7h-.7zM181.3 250.6h.7v.7h-.7zM171.5 251.0h.7v.7h-.7zM176.4 246.3h.7v.7h-.7zM173.5 250.9h.7v.7h-.7zM179.0 252.5h.7v.7h-.7zM179.8 250.5h.7v.7h-.7zM188.3 252.9h.7v.7h-.7zM184.8 254.9h.7v.7h-.7zM182.1 247.5h.7v.7h-.7zM177.0 245.8h.7v.7h-.7zM182.8 249.3h.7v.7h-.7zM183.6 253.0h.7v.7h-.7zM176.9 251.1h.7v.7h-.7zM187.4 250.8h.7v.7h-.7zM185.7 249.9h.7v.7h-.7zM176.2 249.8h.7v.7h-.7zM171.5 252.6h.7v.7h-.7zM178.4 254.6h.7v.7h-.7zM174.8 250.9h.7v.7h-.7zM182.7 249.9h.7v.7h-.7zM182.9 248.2h.7v.7h-.7zM175.6 246.2h.7v.7h-.7zM178.2 248.0h.7v.7h-.7zM182.2 249.4h.7v.7h-.7zM177.7 248.3h.7v.7h-.7zM171.4 249.4h.7v.7h-.7zM183.1 246.5h.7v.7h-.7zM179.7 252.5h.7v.7h-.7zM177.5 251.1h.7v.7h-.7zM178.8 257.9h.7v.7h-.7zM188.0 254.1h.7v.7h-.7zM177.5 252.5h.7v.7h-.7zM180.2 251.6h.7v.7h-.7zM178.1 251.0h.7v.7h-.7zM177.1 251.4h.7v.7h-.7zM189.9 246.3h.7v.7h-.7zM174.3 252.0h.7v.7h-.7zM185.0 249.4h.7v.7h-.7zM184.0 251.8h.7v.7h-.7zM183.8 254.7h.7v.7h-.7zM177.7 252.5h.7v.7h-.7zM182.0 248.4h.7v.7h-.7zM183.5 246.5h.7v.7h-.7zM173.5 253.8h.7v.7h-.7zM175.4 255.7h.7v.7h-.7zM186.3 248.9h.7v.7h-.7zM176.5 243.7h.7v.7h-.7zM180.6 245.5h.7v.7h-.7zM189.0 245.4h.7v.7h-.7zM181.3 242.2h.7v.7h-.7zM179.2 254.5h.7v.7h-.7zM178.7 248.0h.7v.7h-.7zM178.5 251.6h.7v.7h-.7zM185.5 249.8h.7v.7h-.7zM170.5 251.4h.7v.7h-.7zM185.9 257.5h.7v.7h-.7zM181.8 251.0h.7v.7h-.7zM178.2 252.8h.7v.7h-.7zM190.0 247.4h.7v.7h-.7zM181.4 247.3h.7v.7h-.7zM177.5 249.9h.7v.7h-.7zM183.5 247.9h.7v.7h-.7zM179.5 254.7h.7v.7h-.7zM183.6 252.6h.7v.7h-.7zM183.0 249.9h.7v.7h-.7zM183.1 252.1h.7v.7h-.7zM181.0 253.6h.7v.7h-.7zM181.0 253.2h.7v.7h-.7zM181.1 252.7h.7v.7h-.7zM177.5 248.8h.7v.7h-.7zM175.0 254.2h.7v.7h-.7zM183.6 251.1h.7v.7h-.7zM184.1 247.9h.7v.7h-.7zM181.5 248.9h.7v.7h-.7zM171.4 249.7h.7v.7h-.7zM176.5 254.9h.7v.7h-.7zM177.1 248.6h.7v.7h-.7zM186.0 250.5h.7v.7h-.7zM174.1 251.2h.7v.7h-.7zM177.1 255.7h.7v.7h-.7zM175.6 248.2h.7v.7h-.7zM166.9 248.4h.7v.7h-.7zM190.6 250.1h.7v.7h-.7zM176.1 251.4h.7v.7h-.7zM179.5 250.4h.7v.7h-.7zM193.7 256.7h.7v.7h-.7zM189.2 255.6h.7v.7h-.7zM176.3 244.5h.7v.7h-.7zM184.8 251.7h.7v.7h-.7zM181.2 250.1h.7v.7h-.7zM184.7 252.2h.7v.7h-.7zM182.3 252.0h.7v.7h-.7zM179.9 249.3h.7v.7h-.7zM188.1 249.7h.7v.7h-.7zM191.2 252.5h.7v.7h-.7zM181.3 253.9h.7v.7h-.7zM178.5 249.9h.7v.7h-.7zM179.2 250.5h.7v.7h-.7zM184.5 256.9h.7v.7h-.7zM183.7 247.2h.7v.7h-.7zM176.8 244.9h.7v.7h-.7zM184.7 253.2h.7v.7h-.7zM182.7 251.6h.7v.7h-.7zM183.7 251.8h.7v.7h-.7zM184.3 251.2h.7v.7h-.7zM175.9 253.4h.7v.7h-.7zM187.8 245.5h.7v.7h-.7zM179.8 247.0h.7v.7h-.7zM183.6 249.6h.7v.7h-.7zM188.3 253.9h.7v.7h-.7zM178.6 249.0h.7v.7h-.7zM178.0 252.3h.7v.7h-.7zM176.2 251.8h.7v.7h-.7zM173.8 253.7h.7v.7h-.7zM183.4 246.9h.7v.7h-.7zM177.0 250.9h.7v.7h-.7zM182.4 241.7h.7v.7h-.7zM182.0 255.1h.7v.7h-.7zM178.7 246.3h.7v.7h-.7zM187.2 251.2h.7v.7h-.7zM182.0 252.4h.7v.7h-.7zM174.7 248.4h.7v.7h-.7zM175.2 247.0h.7v.7h-.7zM179.3 247.2h.7v.7h-.7zM189.2 252.0h.7v.7h-.7zM185.2 245.4h.7v.7h-.7zM179.9 250.0h.7v.7h-.7zM181.8 251.9h.7v.7h-.7zM176.9 247.7h.7v.7h-.7zM185.9 257.4h.7v.7h-.7zM191.6 249.6h.7v.7h-.7zM177.0 251.1h.7v.7h-.7zM183.4 255.9h.7v.7h-.7zM179.8 248.2h.7v.7h-.7zM186.3 248.3h.7v.7h-.7zM176.6 252.1h.7v.7h-.7zM180.0 247.2h.7v.7h-.7zM179.6 249.2h.7v.7h-.7zM179.8 248.2h.7v.7h-.7zM183.9 249.4h.7v.7h-.7zM177.9 253.7h.7v.7h-.7zM176.2 252.8h.7v.7h-.7zM184.0 249.6h.7v.7h-.7zM182.1 245.9h.7v.7h-.7zM182.2 247.3h.7v.7h-.7zM176.6 251.3h.7v.7h-.7zM177.2 250.9h.7v.7h-.7zM183.1 253.7h.7v.7h-.7z" fill="#000" fill-opacity="0.3"/>
<path d="M193.6 252.9h.7v.7h-.7zM188.9 248.9h.7v.7h-.7zM194.6 253.3h.7v.7h-.7zM193.8 248.5h.7v.7h-.7zM187.6 247.3h.7v.7h-.7zM196.5 247.2h.7v.7h-.7zM191.0 251.8h.7v.7h-.7zM193.8 248.0h.7v.7h-.7zM200.1 250.4h.7v.7h-.7zM193.1 252.3h.7v.7h-.7zM190.7 252.0h.7v.7h-.7zM191.4 247.5h.7v.7h-.7zM188.1 251.1h.7v.7h-.7zM192.4 249.5h.7v.7h-.7zM190.1 249.3h.7v.7h-.7zM195.2 253.1h.7v.7h-.7zM191.0 250.7h.7v.7h-.7zM184.5 246.7h.7v.7h-.7zM189.1 247.4h.7v.7h-.7zM194.8 244.1h.7v.7h-.7zM194.0 251.9h.7v.7h-.7zM200.9 248.6h.7v.7h-.7zM193.8 254.2h.7v.7h-.7zM195.8 247.3h.7v.7h-.7zM190.6 246.7h.7v.7h-.7zM192.3 251.9h.7v.7h-.7zM197.5 251.6h.7v.7h-.7zM195.6 253.0h.7v.7h-.7zM188.7 251.9h.7v.7h-.7zM195.9 249.5h.7v.7h-.7zM188.1 250.4h.7v.7h-.7zM192.6 251.9h.7v.7h-.7zM184.8 248.9h.7v.7h-.7zM200.1 253.6h.7v.7h-.7zM191.4 249.2h.7v.7h-.7zM190.9 247.3h.7v.7h-.7zM190.2 249.9h.7v.7h-.7zM187.2 249.8h.7v.7h-.7zM193.1 246.4h.7v.7h-.7zM190.2 245.6h.7v.7h-.7zM192.2 250.6h.7v.7h-.7zM189.9 250.2h.7v.7h-.7zM194.2 251.9h.7v.7h-.7zM186.6 249.1h.7v.7h-.7zM186.2 244.7h.7v.7h-.7zM196.1 252.1h.7v.7h-.7zM197.1 252.2h.7v.7h-.7zM190.0 250.6h.7v.7h-.7zM189.8 253.8h.7v.7h-.7zM182.5 251.1h.7v.7h-.7zM189.8 252.0h.7v.7h-.7zM196.8 248.2h.7v.7h-.7zM197.5 253.1h.7v.7h-.7zM185.7 255.1h.7v.7h-.7zM187.2 246.2h.7v.7h-.7zM195.8 248.0h.7v.7h-.7zM192.9 249.9h.7v.7h-.7zM187.9 254.5h.7v.7h-.7zM198.0 250.2h.7v.7h-.7zM198.3 250.0h.7v.7h-.7zM193.0 249.1h.7v.7h-.7zM186.7 249.0h.7v.7h-.7zM188.2 251.2h.7v.7h-.7zM192.6 248.4h.7v.7h-.7zM197.2 251.0h.7v.7h-.7zM199.3 248.9h.7v.7h-.7zM190.4 247.9h.7v.7h-.7zM192.9 249.5h.7v.7h-.7zM192.1 254.9h.7v.7h-.7zM195.2 248.3h.7v.7h-.7zM193.6 249.3h.7v.7h-.7zM190.8 249.4h.7v.7h-.7zM192.3 251.8h.7v.7h-.7zM196.1 250.1h.7v.7h-.7zM188.8 250.0h.7v.7h-.7zM191.2 249.3h.7v.7h-.7zM187.1 249.6h.7v.7h-.7zM184.7 253.6h.7v.7h-.7zM195.0 252.1h.7v.7h-.7zM188.3 250.7h.7v.7h-.7zM197.1 249.4h.7v.7h-.7zM187.7 249.7h.7v.7h-.7zM182.9 252.6h.7v.7h-.7zM193.8 246.1h.7v.7h-.7zM194.8 253.2h.7v.7h-.7zM194.6 251.9h.7v.7h-.7zM198.2 250.6h.7v.7h-.7zM197.6 249.4h.7v.7h-.7zM189.3 249.1h.7v.7h-.7zM187.8 251.1h.7v.7h-.7zM189.2 251.0h.7v.7h-.7zM193.3 254.6h.7v.7h-.7zM199.1 248.5h.7v.7h-.7zM191.3 249.5h.7v.7h-.7zM189.5 255.1h.7v.7h-.7zM197.0 249.4h.7v.7h-.7zM186.5 248.2h.7v.7h-.7zM192.1 254.4h.7v.7h-.7zM186.9 254.1h.7v.7h-.7zM186.3 251.0h.7v.7h-.7zM187.4 248.8h.7v.7h-.7zM182.4 251.7h.7v.7h-.7zM192.1 247.1h.7v.7h-.7zM183.5 249.8h.7v.7h-.7zM191.9 245.9h.7v.7h-.7zM193.9 249.6h.7v.7h-.7zM187.4 247.7h.7v.7h-.7zM182.1 252.0h.7v.7h-.7zM195.9 249.4h.7v.7h-.7zM186.9 246.8h.7v.7h-.7zM190.7 247.5h.7v.7h-.7zM193.1 247.5h.7v.7h-.7zM195.6 253.3h.7v.7h-.7zM189.6 247.7h.7v.7h-.7zM180.1 250.1h.7v.7h-.7zM193.5 247.3h.7v.7h-.7zM196.4 248.1h.7v.7h-.7zM187.2 252.3h.7v.7h-.7zM193.8 244.2h.7v.7h-.7zM189.2 246.4h.7v.7h-.7zM191.1 250.5h.7v.7h-.7zM190.1 250.4h.7v.7h-.7zM195.5 249.1h.7v.7h-.7zM186.9 247.2h.7v.7h-.7zM195.3 254.8h.7v.7h-.7zM191.3 251.0h.7v.7h-.7zM188.7 248.3h.7v.7h-.7zM195.8 248.5h.7v.7h-.7zM192.6 250.3h.7v.7h-.7zM196.6 250.6h.7v.7h-.7zM191.7 249.1h.7v.7h-.7zM189.8 252.8h.7v.7h-.7zM200.5 245.5h.7v.7h-.7zM196.0 247.2h.7v.7h-.7zM189.5 249.1h.7v.7h-.7zM190.2 248.9h.7v.7h-.7zM189.5 255.0h.7v.7h-.7zM186.1 248.1h.7v.7h-.7zM188.8 250.5h.7v.7h-.7zM186.8 249.9h.7v.7h-.7zM192.4 255.4h.7v.7h-.7zM194.5 249.8h.7v.7h-.7zM192.4 255.1h.7v.7h-.7zM191.5 248.0h.7v.7h-.7zM189.5 248.9h.7v.7h-.7zM195.5 247.2h.7v.7h-.7zM189.6 249.9h.7v.7h-.7zM188.2 251.8h.7v.7h-.7zM190.4 251.3h.7v.7h-.7zM194.0 254.1h.7v.7h-.7zM198.9 247.5h.7v.7h-.7zM186.7 246.7h.7v.7h-.7zM193.8 251.4h.7v.7h-.7zM191.9 249.9h.7v.7h-.7zM198.0 252.4h.7v.7h-.7zM192.8 251.7h.7v.7h-.7zM186.0 253.3h.7v.7h-.7zM200.2 250.4h.7v.7h-.7zM190.2 253.4h.7v.7h-.7zM190.0 250.2h.7v.7h-.7zM194.4 249.5h.7v.7h-.7zM194.8 244.6h.7v.7h-.7zM182.3 252.0h.7v.7h-.7zM194.1 250.6h.7v.7h-.7zM190.4 250.1h.7v.7h-.7zM193.7 246.8h.7v.7h-.7zM193.0 247.8h.7v.7h-.7zM200.3 251.0h.7v.7h-.7zM193.1 252.8h.7v.7h-.7zM195.7 252.6h.7v.7h-.7zM189.4 250.4h.7v.7h-.7zM195.5 250.6h.7v.7h-.7zM192.5 248.4h.7v.7h-.7zM192.8 253.9h.7v.7h-.7zM187.2 246.2h.7v.7h-.7zM187.2 245.7h.7v.7h-.7zM197.1 255.2h.7v.7h-.7zM194.0 250.3h.7v.7h-.7zM197.5 252.9h.7v.7h-.7zM183.0 249.8h.7v.7h-.7zM201.7 248.9h.7v.7h-.7zM189.2 248.3h.7v.7h-.7zM198.3 248.8h.7v.7h-.7zM193.7 253.4h.7v.7h-.7zM192.7 250.1h.7v.7h-.7zM187.9 246.6h.7v.7h-.7zM196.3 246.4h.7v.7h-.7zM196.3 253.5h.7v.7h-.7zM198.0 249.5h.7v.7h-.7zM188.7 250.3h.7v.7h-.7zM197.2 251.5h.7v.7h-.7zM193.9 249.7h.7v.7h-.7zM195.7 244.6h.7v.7h-.7zM187.4 254.3h.7v.7h-.7zM193.9 252.0h.7v.7h-.7zM184.5 247.7h.7v.7h-.7zM190.3 249.7h.7v.7h-.7zM196.7 248.4h.7v.7h-.7zM192.5 248.0h.7v.7h-.7zM191.1 251.0h.7v.7h-.7zM193.7 252.8h.7v.7h-.7zM187.0 252.2h.7v.7h-.7zM193.8 247.8h.7v.7h-.7zM197.2 248.2h.7v.7h-.7zM190.6 251.5h.7v.7h-.7zM197.6 248.9h.7v.7h-.7zM197.9 251.1h.7v.7h-.7zM189.0 252.0h.7v.7h-.7zM192.3 248.0h.7v.7h-.7zM191.4 253.5h.7v.7h-.7zM193.4 249.3h.7v.7h-.7zM195.2 246.1h.7v.7h-.7zM194.6 253.7h.7v.7h-.7zM187.4 247.0h.7v.7h-.7zM188.6 249.4h.7v.7h-.7zM189.1 250.0h.7v.7h-.7zM188.1 250.8h.7v.7h-.7zM194.3 251.3h.7v.7h-.7zM189.8 252.3h.7v.7h-.7zM185.9 248.2h.7v.7h-.7zM191.7 253.6h.7v.7h-.7zM190.5 251.7h.7v.7h-.7zM198.5 255.5h.7v.7h-.7zM198.9 247.8h.7v.7h-.7zM193.1 251.4h.7v.7h-.7zM194.7 251.4h.7v.7h-.7zM191.6 250.2h.7v.7h-.7zM186.6 252.0h.7v.7h-.7zM193.3 248.4h.7v.7h-.7zM199.1 250.1h.7v.7h-.7zM189.5 251.7h.7v.7h-.7zM193.8 251.8h.7v.7h-.7zM191.7 252.1h.7v.7h-.7zM192.5 253.4h.7v.7h-.7zM193.3 247.8h.7v.7h-.7zM188.0 251.6h.7v.7h-.7zM195.7 246.0h.7v.7h-.7zM194.5 249.8h.7v.7h-.7zM193.1 247.8h.7v.7h-.7zM187.7 248.4h.7v.7h-.7z" fill="#000" fill-opacity="0.42"/>
<path d="M201.3 247.8h.7v.7h-.7zM204.2 248.7h.7v.7h-.7zM209.8 246.7h.7v.7h-.7zM202.5 248.8h.7v.7h-.7zM205.8 246.5h.7v.7h-.7zM199.3 249.2h.7v.7h-.7zM205.0 249.8h.7v.7h-.7zM205.9 245.5h.7v.7h-.7zM207.2 248.4h.7v.7h-.7zM210.4 247.8h.7v.7h-.7zM197.1 248.4h.7v.7h-.7zM204.4 249.3h.7v.7h-.7zM204.5 247.5h.7v.7h-.7zM198.6 248.3h.7v.7h-.7zM202.8 247.3h.7v.7h-.7zM204.0 248.0h.7v.7h-.7zM197.5 246.9h.7v.7h-.7zM201.2 248.1h.7v.7h-.7zM209.0 248.5h.7v.7h-.7zM205.6 244.3h.7v.7h-.7zM207.6 247.5h.7v.7h-.7zM205.5 246.4h.7v.7h-.7zM203.7 250.3h.7v.7h-.7zM203.7 249.1h.7v.7h-.7zM201.4 247.1h.7v.7h-.7zM204.7 248.2h.7v.7h-.7zM204.2 247.2h.7v.7h-.7zM202.6 250.2h.7v.7h-.7zM208.2 247.8h.7v.7h-.7zM201.8 248.9h.7v.7h-.7zM206.7 249.2h.7v.7h-.7zM207.2 248.2h.7v.7h-.7zM200.8 244.7h.7v.7h-.7zM206.5 249.1h.7v.7h-.7zM201.8 249.3h.7v.7h-.7zM200.2 250.7h.7v.7h-.7zM207.1 251.0h.7v.7h-.7zM202.4 251.5h.7v.7h-.7zM206.4 251.9h.7v.7h-.7zM198.5 250.5h.7v.7h-.7zM207.9 248.0h.7v.7h-.7zM206.8 248.9h.7v.7h-.7zM208.4 248.1h.7v.7h-.7zM204.0 246.2h.7v.7h-.7zM210.3 246.9h.7v.7h-.7zM200.6 246.8h.7v.7h-.7zM204.1 248.8h.7v.7h-.7zM205.2 251.8h.7v.7h-.7zM206.9 245.7h.7v.7h-.7zM204.4 248.3h.7v.7h-.7zM206.2 248.9h.7v.7h-.7zM208.0 248.9h.7v.7h-.7zM210.0 246.7h.7v.7h-.7zM207.5 250.5h.7v.7h-.7zM201.6 245.9h.7v.7h-.7zM201.8 249.4h.7v.7h-.7zM209.0 245.6h.7v.7h-.7zM203.0 246.0h.7v.7h-.7zM206.3 248.9h.7v.7h-.7zM204.0 250.2h.7v.7h-.7zM204.8 251.6h.7v.7h-.7zM203.0 247.4h.7v.7h-.7zM203.9 248.6h.7v.7h-.7zM207.9 247.8h.7v.7h-.7zM202.2 247.2h.7v.7h-.7zM201.4 244.6h.7v.7h-.7zM204.3 249.7h.7v.7h-.7zM204.4 247.1h.7v.7h-.7zM206.7 250.1h.7v.7h-.7zM204.7 249.9h.7v.7h-.7zM203.5 249.5h.7v.7h-.7zM205.5 246.1h.7v.7h-.7zM202.3 247.2h.7v.7h-.7zM205.1 243.3h.7v.7h-.7zM204.7 248.6h.7v.7h-.7zM203.3 249.4h.7v.7h-.7zM199.2 249.1h.7v.7h-.7zM201.5 247.4h.7v.7h-.7zM208.2 247.9h.7v.7h-.7zM207.2 248.6h.7v.7h-.7zM202.9 247.8h.7v.7h-.7zM199.3 247.9h.7v.7h-.7zM204.3 251.5h.7v.7h-.7zM206.2 250.3h.7v.7h-.7zM200.9 247.1h.7v.7h-.7zM205.0 249.7h.7v.7h-.7zM200.5 250.8h.7v.7h-.7zM201.8 249.2h.7v.7h-.7zM202.4 250.1h.7v.7h-.7zM206.6 250.7h.7v.7h-.7zM201.0 248.9h.7v.7h-.7zM210.9 248.6h.7v.7h-.7zM205.3 248.9h.7v.7h-.7zM202.3 252.2h.7v.7h-.7zM208.8 247.2h.7v.7h-.7zM205.5 252.5h.7v.7h-.7zM205.3 248.8h.7v.7h-.7zM206.9 250.3h.7v.7h-.7zM200.1 247.0h.7v.7h-.7zM208.9 247.5h.7v.7h-.7zM203.7 247.3h.7v.7h-.7zM209.9 246.1h.7v.7h-.7zM204.4 247.8h.7v.7h-.7zM202.9 246.1h.7v.7h-.7zM201.3 248.2h.7v.7h-.7zM204.6 244.8h.7v.7h-.7zM204.1 246.8h.7v.7h-.7zM203.7 247.7h.7v.7h-.7zM203.5 248.1h.7v.7h-.7zM205.3 248.6h.7v.7h-.7zM198.5 243.7h.7v.7h-.7zM199.3 249.2h.7v.7h-.7zM198.5 246.5h.7v.7h-.7zM209.6 247.9h.7v.7h-.7zM203.2 249.3h.7v.7h-.7zM205.8 247.5h.7v.7h-.7zM204.1 244.4h.7v.7h-.7zM204.8 249.8h.7v.7h-.7zM198.3 250.5h.7v.7h-.7zM209.8 243.3h.7v.7h-.7zM203.2 251.5h.7v.7h-.7zM206.0 247.1h.7v.7h-.7zM201.9 247.8h.7v.7h-.7zM205.9 246.8h.7v.7h-.7zM199.1 248.9h.7v.7h-.7zM201.3 252.1h.7v.7h-.7zM200.5 249.2h.7v.7h-.7zM203.1 245.5h.7v.7h-.7zM202.2 244.5h.7v.7h-.7zM205.0 246.6h.7v.7h-.7zM199.8 245.3h.7v.7h-.7zM208.2 249.7h.7v.7h-.7zM200.6 248.2h.7v.7h-.7zM205.7 249.8h.7v.7h-.7zM203.8 244.2h.7v.7h-.7zM209.1 248.3h.7v.7h-.7zM208.2 245.9h.7v.7h-.7zM206.3 251.4h.7v.7h-.7zM207.4 246.0h.7v.7h-.7zM203.0 251.8h.7v.7h-.7zM201.2 250.0h.7v.7h-.7zM203.2 245.5h.7v.7h-.7zM206.8 250.9h.7v.7h-.7zM205.8 249.1h.7v.7h-.7zM207.0 244.5h.7v.7h-.7zM203.7 252.2h.7v.7h-.7zM205.3 250.8h.7v.7h-.7zM203.0 249.3h.7v.7h-.7zM200.1 249.7h.7v.7h-.7zM204.7 247.8h.7v.7h-.7zM203.7 248.8h.7v.7h-.7zM204.4 250.2h.7v.7h-.7zM207.0 244.1h.7v.7h-.7zM204.6 251.0h.7v.7h-.7zM200.1 248.2h.7v.7h-.7zM211.4 247.3h.7v.7h-.7zM207.0 249.1h.7v.7h-.7zM199.2 248.1h.7v.7h-.7zM198.0 247.9h.7v.7h-.7zM206.7 250.0h.7v.7h-.7zM204.7 247.5h.7v.7h-.7zM205.8 251.2h.7v.7h-.7zM206.3 250.7h.7v.7h-.7zM205.3 249.6h.7v.7h-.7zM201.0 251.8h.7v.7h-.7zM200.4 246.8h.7v.7h-.7zM201.6 247.1h.7v.7h-.7zM208.1 248.2h.7v.7h-.7zM203.0 248.0h.7v.7h-.7zM203.8 251.4h.7v.7h-.7zM208.6 247.7h.7v.7h-.7zM209.3 249.9h.7v.7h-.7zM204.8 251.3h.7v.7h-.7zM204.2 249.3h.7v.7h-.7zM204.3 246.2h.7v.7h-.7zM199.8 246.6h.7v.7h-.7zM201.0 247.4h.7v.7h-.7zM202.1 250.9h.7v.7h-.7zM203.9 250.2h.7v.7h-.7zM204.9 246.8h.7v.7h-.7zM202.9 245.5h.7v.7h-.7zM198.3 249.4h.7v.7h-.7zM203.7 248.8h.7v.7h-.7zM206.9 245.8h.7v.7h-.7zM203.3 243.9h.7v.7h-.7zM201.0 249.8h.7v.7h-.7zM198.9 245.8h.7v.7h-.7zM202.8 252.1h.7v.7h-.7zM206.2 248.2h.7v.7h-.7zM205.7 248.7h.7v.7h-.7zM202.4 247.4h.7v.7h-.7zM205.1 248.3h.7v.7h-.7zM206.2 247.4h.7v.7h-.7zM206.4 247.7h.7v.7h-.7zM207.5 250.6h.7v.7h-.7zM201.5 253.3h.7v.7h-.7zM204.9 247.1h.7v.7h-.7zM199.8 248.8h.7v.7h-.7zM204.2 247.0h.7v.7h-.7zM200.3 247.6h.7v.7h-.7zM200.3 247.2h.7v.7h-.7zM200.9 249.5h.7v.7h-.7zM195.7 252.7h.7v.7h-.7zM202.3 248.5h.7v.7h-.7zM199.5 250.8h.7v.7h-.7zM203.3 247.8h.7v.7h-.7zM200.8 249.8h.7v.7h-.7zM205.2 247.2h.7v.7h-.7zM208.9 246.7h.7v.7h-.7zM207.5 248.9h.7v.7h-.7zM199.4 248.0h.7v.7h-.7zM205.4 247.7h.7v.7h-.7zM204.0 248.4h.7v.7h-.7zM205.0 247.2h.7v.7h-.7zM209.6 249.2h.7v.7h-.7zM208.4 248.0h.7v.7h-.7zM204.4 246.5h.7v.7h-.7zM203.9 251.7h.7v.7h-.7zM204.7 247.1h.7v.7h-.7zM202.0 249.8h.7v.7h-.7zM203.2 252.8h.7v.7h-.7zM204.5 248.6h.7v.7h-.7zM206.1 252.0h.7v.7h-.7zM198.9 247.1h.7v.7h-.7zM201.6 244.5h.7v.7h-.7zM203.2 248.4h.7v.7h-.7zM206.4 249.9h.7v.7h-.7zM205.8 249.8h.7v.7h-.7zM202.4 254.5h.7v.7h-.7zM208.5 247.9h.7v.7h-.7zM200.9 249.6h.7v.7h-.7zM207.0 249.6h.7v.7h-.7zM206.2 250.6h.7v.7h-.7zM205.1 246.7h.7v.7h-.7zM202.2 244.9h.7v.7h-.7zM206.7 247.5h.7v.7h-.7zM204.3 253.0h.7v.7h-.7zM201.2 248.6h.7v.7h-.7zM201.2 244.8h.7v.7h-.7zM206.9 248.4h.7v.7h-.7zM203.6 250.2h.7v.7h-.7zM203.1 250.0h.7v.7h-.7zM207.8 247.2h.7v.7h-.7zM205.2 248.9h.7v.7h-.7zM207.1 253.7h.7v.7h-.7zM200.6 251.8h.7v.7h-.7zM204.1 250.0h.7v.7h-.7zM205.0 248.3h.7v.7h-.7zM199.9 248.6h.7v.7h-.7zM201.0 251.6h.7v.7h-.7zM205.2 247.4h.7v.7h-.7zM202.6 250.9h.7v.7h-.7zM199.3 249.0h.7v.7h-.7zM204.2 246.7h.7v.7h-.7zM207.1 247.8h.7v.7h-.7zM207.1 249.0h.7v.7h-.7zM201.8 248.4h.7v.7h-.7zM206.9 246.7h.7v.7h-.7zM201.2 248.4h.7v.7h-.7zM205.5 249.9h.7v.7h-.7zM200.7 246.1h.7v.7h-.7zM203.5 248.1h.7v.7h-.7zM204.7 245.4h.7v.7h-.7zM202.2 246.3h.7v.7h-.7zM208.8 244.3h.7v.7h-.7zM200.9 247.5h.7v.7h-.7zM198.2 247.6h.7v.7h-.7zM201.3 245.3h.7v.7h-.7zM202.2 251.3h.7v.7h-.7zM204.2 251.3h.7v.7h-.7zM207.7 248.8h.7v.7h-.7zM202.8 244.0h.7v.7h-.7zM197.3 249.0h.7v.7h-.7zM204.0 248.9h.7v.7h-.7zM201.0 248.0h.7v.7h-.7zM200.4 250.3h.7v.7h-.7zM204.0 244.4h.7v.7h-.7zM201.9 251.1h.7v.7h-.7zM200.5 246.3h.7v.7h-.7zM200.7 247.4h.7v.7h-.7zM204.0 248.2h.7v.7h-.7zM204.2 247.4h.7v.7h-.7zM205.8 251.5h.7v.7h-.7zM201.0 249.1h.7v.7h-.7zM204.7 248.9h.7v.7h-.7zM203.6 249.5h.7v.7h-.7zM203.1 247.3h.7v.7h-.7zM201.4 250.1h.7v.7h-.7zM202.1 244.9h.7v.7h-.7zM202.3 247.5h.7v.7h-.7zM206.5 250.6h.7v.7h-.7zM200.4 251.1h.7v.7h-.7zM204.8 251.7h.7v.7h-.7zM202.2 249.9h.7v.7h-.7zM206.1 251.8h.7v.7h-.7zM199.8 248.5h.7v.7h-.7zM204.2 248.2h.7v.7h-.7zM201.1 248.1h.7v.7h-.7zM204.0 252.5h.7v.7h-.7zM203.9 250.8h.7v.7h-.7zM202.2 249.1h.7v.7h-.7zM203.7 248.8h.7v.7h-.7zM199.3 248.6h.7v.7h-.7zM211.9 248.6h.7v.7h-.7zM199.7 253.3h.7v.7h-.7zM205.2 249.3h.7v.7h-.7zM199.0 248.0h.7v.7h-.7zM203.1 248.3h.7v.7h-.7zM200.7 249.9h.7v.7h-.7zM199.7 250.9h.7v.7h-.7zM203.8 247.7h.7v.7h-.7zM199.0 249.3h.7v.7h-.7zM204.9 245.6h.7v.7h-.7zM209.0 248.1h.7v.7h-.7zM199.0 251.1h.7v.7h-.7zM200.5 246.8h.7v.7h-.7zM199.3 246.7h.7v.7h-.7zM202.9 246.4h.7v.7h-.7zM204.6 246.5h.7v.7h-.7zM203.4 244.0h.7v.7h-.7zM202.0 248.4h.7v.7h-.7zM205.6 247.8h.7v.7h-.7zM204.0 249.2h.7v.7h-.7zM201.0 249.6h.7v.7h-.7zM204.6 247.4h.7v.7h-.7zM199.9 251.1h.7v.7h-.7zM207.1 248.9h.7v.7h-.7zM207.1 251.5h.7v.7h-.7zM203.3 249.7h.7v.7h-.7zM205.5 249.5h.7v.7h-.7zM203.3 247.6h.7v.7h-.7zM206.1 249.0h.7v.7h-.7zM208.8 249.5h.7v.7h-.7zM204.0 246.0h.7v.7h-.7zM203.3 249.1h.7v.7h-.7zM203.3 247.1h.7v.7h-.7zM194.7 246.7h.7v.7h-.7zM204.1 251.8h.7v.7h-.7zM200.1 249.6h.7v.7h-.7zM199.7 250.4h.7v.7h-.7zM203.0 248.5h.7v.7h-.7zM204.8 247.2h.7v.7h-.7zM201.6 250.5h.7v.7h-.7zM199.3 246.6h.7v.7h-.7zM206.1 250.0h.7v.7h-.7zM201.2 247.0h.7v.7h-.7zM204.0 252.3h.7v.7h-.7zM208.3 247.9h.7v.7h-.7zM202.0 248.3h.7v.7h-.7zM198.2 249.1h.7v.7h-.7zM202.4 250.7h.7v.7h-.7zM201.2 249.2h.7v.7h-.7zM201.8 247.4h.7v.7h-.7zM209.2 246.7h.7v.7h-.7zM203.4 249.3h.7v.7h-.7zM209.6 249.2h.7v.7h-.7zM202.4 249.1h.7v.7h-.7zM209.1 249.7h.7v.7h-.7zM205.8 253.1h.7v.7h-.7zM201.0 250.9h.7v.7h-.7zM201.1 251.1h.7v.7h-.7zM205.4 249.9h.7v.7h-.7zM204.6 249.1h.7v.7h-.7zM194.7 246.1h.7v.7h-.7zM210.4 248.8h.7v.7h-.7zM203.4 249.8h.7v.7h-.7zM206.7 249.0h.7v.7h-.7zM207.0 249.9h.7v.7h-.7zM201.9 248.9h.7v.7h-.7zM207.0 246.7h.7v.7h-.7zM203.9 247.0h.7v.7h-.7zM202.9 245.4h.7v.7h-.7zM204.1 247.3h.7v.7h-.7zM207.2 247.9h.7v.7h-.7zM210.1 250.9h.7v.7h-.7zM201.5 252.8h.7v.7h-.7zM204.1 249.4h.7v.7h-.7zM199.8 248.4h.7v.7h-.7zM201.7 245.9h.7v.7h-.7zM200.3 251.3h.7v.7h-.7zM202.0 248.5h.7v.7h-.7zM201.2 247.6h.7v.7h-.7zM202.0 248.3h.7v.7h-.7zM203.8 250.2h.7v.7h-.7zM203.4 248.2h.7v.7h-.7zM201.0 249.7h.7v.7h-.7zM204.9 247.8h.7v.7h-.7zM198.0 248.2h.7v.7h-.7zM197.1 251.5h.7v.7h-.7zM203.7 251.1h.7v.7h-.7zM202.9 250.2h.7v.7h-.7zM208.8 250.2h.7v.7h-.7zM200.3 245.3h.7v.7h-.7zM201.8 248.8h.7v.7h-.7zM199.8 244.5h.7v.7h-.7zM201.5 248.0h.7v.7h-.7zM197.6 248.0h.7v.7h-.7zM205.7 245.9h.7v.7h-.7zM203.8 248.1h.7v.7h-.7zM204.1 248.8h.7v.7h-.7zM200.3 249.3h.7v.7h-.7zM209.7 249.0h.7v.7h-.7zM198.8 247.6h.7v.7h-.7zM209.1 247.8h.7v.7h-.7zM203.7 245.6h.7v.7h-.7zM198.4 248.0h.7v.7h-.7zM204.3 246.9h.7v.7h-.7zM204.4 247.5h.7v.7h-.7zM196.7 247.6h.7v.7h-.7zM205.1 252.9h.7v.7h-.7zM198.7 248.9h.7v.7h-.7zM204.4 249.2h.7v.7h-.7zM203.8 251.4h.7v.7h-.7zM207.0 246.9h.7v.7h-.7zM200.7 248.3h.7v.7h-.7zM198.7 248.6h.7v.7h-.7zM205.8 247.2h.7v.7h-.7zM202.4 246.9h.7v.7h-.7zM203.8 249.3h.7v.7h-.7zM200.2 250.2h.7v.7h-.7zM200.3 248.5h.7v.7h-.7zM204.2 246.3h.7v.7h-.7zM202.3 246.1h.7v.7h-.7zM206.5 248.0h.7v.7h-.7zM198.7 249.9h.7v.7h-.7zM202.2 252.2h.7v.7h-.7zM203.0 249.7h.7v.7h-.7zM199.9 247.8h.7v.7h-.7zM202.9 250.2h.7v.7h-.7zM207.6 248.6h.7v.7h-.7zM203.0 246.5h.7v.7h-.7zM201.3 248.1h.7v.7h-.7zM206.7 252.1h.7v.7h-.7zM202.7 247.0h.7v.7h-.7zM200.4 250.1h.7v.7h-.7zM207.9 249.8h.7v.7h-.7zM208.7 248.5h.7v.7h-.7zM202.2 248.8h.7v.7h-.7zM199.7 247.9h.7v.7h-.7zM201.7 244.5h.7v.7h-.7zM203.6 249.6h.7v.7h-.7zM207.7 248.1h.7v.7h-.7zM207.1 246.7h.7v.7h-.7zM207.3 246.9h.7v.7h-.7zM203.1 245.7h.7v.7h-.7zM208.9 247.6h.7v.7h-.7zM207.1 248.2h.7v.7h-.7zM204.4 250.0h.7v.7h-.7zM199.9 249.3h.7v.7h-.7zM202.5 246.4h.7v.7h-.7zM207.0 248.1h.7v.7h-.7zM207.7 248.7h.7v.7h-.7zM202.5 247.3h.7v.7h-.7zM203.7 247.2h.7v.7h-.7zM206.7 247.3h.7v.7h-.7zM208.0 247.7h.7v.7h-.7zM203.4 247.2h.7v.7h-.7zM210.9 244.3h.7v.7h-.7zM206.3 250.8h.7v.7h-.7zM207.3 252.3h.7v.7h-.7zM208.5 245.1h.7v.7h-.7zM204.2 246.5h.7v.7h-.7zM203.0 248.1h.7v.7h-.7zM207.0 250.3h.7v.7h-.7zM203.6 246.9h.7v.7h-.7zM204.8 248.7h.7v.7h-.7zM202.3 250.4h.7v.7h-.7zM207.9 246.8h.7v.7h-.7zM207.8 246.2h.7v.7h-.7zM202.1 245.2h.7v.7h-.7zM204.8 252.1h.7v.7h-.7zM199.8 247.1h.7v.7h-.7zM200.3 248.7h.7v.7h-.7zM207.0 245.5h.7v.7h-.7zM206.0 252.5h.7v.7h-.7zM202.7 248.4h.7v.7h-.7zM205.4 244.4h.7v.7h-.7zM200.7 249.5h.7v.7h-.7zM203.5 250.0h.7v.7h-.7zM200.4 248.1h.7v.7h-.7zM201.1 246.1h.7v.7h-.7zM205.7 252.0h.7v.7h-.7zM200.7 249.3h.7v.7h-.7zM205.6 251.2h.7v.7h-.7zM201.4 245.3h.7v.7h-.7zM205.1 246.8h.7v.7h-.7zM199.6 247.8h.7v.7h-.7zM203.5 248.8h.7v.7h-.7zM202.9 244.1h.7v.7h-.7zM196.7 249.4h.7v.7h-.7zM207.8 249.5h.7v.7h-.7zM200.2 250.4h.7v.7h-.7zM200.5 251.2h.7v.7h-.7zM204.6 250.3h.7v.7h-.7zM201.0 249.7h.7v.7h-.7zM197.2 251.1h.7v.7h-.7zM199.7 248.4h.7v.7h-.7zM206.5 250.5h.7v.7h-.7zM204.1 245.3h.7v.7h-.7zM208.0 247.8h.7v.7h-.7zM199.3 251.7h.7v.7h-.7zM212.3 247.9h.7v.7h-.7zM207.4 250.7h.7v.7h-.7zM205.2 250.0h.7v.7h-.7zM204.9 244.4h.7v.7h-.7zM201.4 247.6h.7v.7h-.7zM201.1 248.8h.7v.7h-.7zM203.6 250.0h.7v.7h-.7zM210.9 247.1h.7v.7h-.7zM206.3 252.3h.7v.7h-.7zM203.8 245.2h.7v.7h-.7zM203.7 251.2h.7v.7h-.7zM205.8 245.6h.7v.7h-.7zM204.8 248.3h.7v.7h-.7zM202.3 250.4h.7v.7h-.7zM195.7 251.7h.7v.7h-.7zM209.7 247.8h.7v.7h-.7zM200.8 245.6h.7v.7h-.7zM205.1 247.4h.7v.7h-.7zM197.4 244.3h.7v.7h-.7zM205.5 250.6h.7v.7h-.7zM199.6 251.6h.7v.7h-.7zM202.1 248.9h.7v.7h-.7zM200.5 250.7h.7v.7h-.7zM203.1 248.5h.7v.7h-.7zM204.8 247.0h.7v.7h-.7zM208.2 249.3h.7v.7h-.7zM201.7 246.1h.7v.7h-.7zM204.3 248.8h.7v.7h-.7zM203.2 246.1h.7v.7h-.7zM207.9 248.8h.7v.7h-.7zM206.9 249.8h.7v.7h-.7zM203.2 247.1h.7v.7h-.7zM199.6 250.5h.7v.7h-.7zM203.1 251.5h.7v.7h-.7zM208.5 249.7h.7v.7h-.7zM204.1 250.8h.7v.7h-.7zM209.3 248.5h.7v.7h-.7zM206.1 252.0h.7v.7h-.7zM200.8 250.1h.7v.7h-.7zM203.4 249.9h.7v.7h-.7zM207.0 248.4h.7v.7h-.7zM205.4 252.2h.7v.7h-.7zM206.4 249.9h.7v.7h-.7zM204.4 249.0h.7v.7h-.7zM207.5 248.3h.7v.7h-.7zM202.8 247.6h.7v.7h-.7zM203.1 249.2h.7v.7h-.7zM204.0 248.4h.7v.7h-.7zM211.4 246.6h.7v.7h-.7zM204.6 250.2h.7v.7h-.7zM204.1 249.0h.7v.7h-.7zM199.9 249.0h.7v.7h-.7zM206.5 247.0h.7v.7h-.7zM205.3 250.6h.7v.7h-.7zM204.2 249.1h.7v.7h-.7zM199.2 251.2h.7v.7h-.7zM211.3 251.4h.7v.7h-.7zM209.3 242.9h.7v.7h-.7zM201.5 247.6h.7v.7h-.7zM204.0 247.4h.7v.7h-.7zM197.8 248.0h.7v.7h-.7zM198.5 247.8h.7v.7h-.7zM206.5 252.4h.7v.7h-.7zM205.5 250.1h.7v.7h-.7zM197.8 246.0h.7v.7h-.7zM205.7 249.8h.7v.7h-.7zM204.1 247.0h.7v.7h-.7zM202.2 249.4h.7v.7h-.7zM209.4 248.4h.7v.7h-.7zM196.3 253.3h.7v.7h-.7zM205.9 247.4h.7v.7h-.7zM208.3 250.1h.7v.7h-.7zM202.2 247.4h.7v.7h-.7zM206.4 248.7h.7v.7h-.7zM208.2 247.3h.7v.7h-.7zM201.4 245.8h.7v.7h-.7zM203.0 252.9h.7v.7h-.7zM196.6 249.4h.7v.7h-.7zM200.1 246.6h.7v.7h-.7zM210.1 244.3h.7v.7h-.7zM202.1 243.7h.7v.7h-.7zM201.4 249.6h.7v.7h-.7zM203.6 250.6h.7v.7h-.7zM206.0 247.5h.7v.7h-.7zM203.8 249.5h.7v.7h-.7zM202.4 243.8h.7v.7h-.7zM202.2 249.2h.7v.7h-.7zM204.3 244.5h.7v.7h-.7zM200.8 249.9h.7v.7h-.7zM201.0 250.5h.7v.7h-.7zM199.9 244.6h.7v.7h-.7zM199.7 253.3h.7v.7h-.7zM201.1 247.1h.7v.7h-.7zM205.1 247.3h.7v.7h-.7zM197.1 247.2h.7v.7h-.7zM207.0 245.0h.7v.7h-.7zM199.3 248.0h.7v.7h-.7zM204.3 247.1h.7v.7h-.7zM209.4 247.8h.7v.7h-.7zM199.5 248.8h.7v.7h-.7zM204.3 248.5h.7v.7h-.7zM202.8 252.9h.7v.7h-.7zM208.5 249.6h.7v.7h-.7zM203.1 250.1h.7v.7h-.7zM206.3 249.1h.7v.7h-.7zM200.7 250.9h.7v.7h-.7zM205.5 246.0h.7v.7h-.7zM206.0 250.7h.7v.7h-.7zM205.9 247.9h.7v.7h-.7zM203.1 247.2h.7v.7h-.7zM202.5 251.1h.7v.7h-.7zM205.8 246.3h.7v.7h-.7zM205.3 251.2h.7v.7h-.7zM208.7 249.7h.7v.7h-.7zM201.1 247.9h.7v.7h-.7zM201.7 247.2h.7v.7h-.7zM199.6 248.7h.7v.7h-.7zM204.4 247.3h.7v.7h-.7zM209.9 247.7h.7v.7h-.7zM206.5 252.9h.7v.7h-.7zM203.1 252.6h.7v.7h-.7zM205.3 252.7h.7v.7h-.7zM206.5 246.6h.7v.7h-.7zM201.5 245.4h.7v.7h-.7zM201.9 247.2h.7v.7h-.7zM204.7 244.1h.7v.7h-.7zM197.6 247.7h.7v.7h-.7zM201.6 250.4h.7v.7h-.7zM202.6 246.9h.7v.7h-.7zM205.2 245.0h.7v.7h-.7zM204.7 250.6h.7v.7h-.7zM206.6 246.9h.7v.7h-.7zM209.5 249.5h.7v.7h-.7zM205.3 250.8h.7v.7h-.7zM208.3 246.6h.7v.7h-.7zM203.8 248.2h.7v.7h-.7zM203.8 249.6h.7v.7h-.7zM206.0 248.4h.7v.7h-.7zM206.5 251.4h.7v.7h-.7zM204.8 245.3h.7v.7h-.7zM197.2 247.7h.7v.7h-.7zM203.1 248.3h.7v.7h-.7zM204.0 248.4h.7v.7h-.7zM208.0 248.5h.7v.7h-.7zM202.2 247.5h.7v.7h-.7zM205.8 247.1h.7v.7h-.7zM202.8 248.3h.7v.7h-.7zM201.0 245.0h.7v.7h-.7zM199.4 246.1h.7v.7h-.7zM200.1 247.5h.7v.7h-.7zM204.8 247.4h.7v.7h-.7zM199.3 251.0h.7v.7h-.7zM203.3 244.0h.7v.7h-.7zM203.2 245.5h.7v.7h-.7zM202.3 247.5h.7v.7h-.7zM204.7 244.8h.7v.7h-.7zM204.2 250.6h.7v.7h-.7zM199.1 250.0h.7v.7h-.7zM205.3 249.1h.7v.7h-.7zM208.7 246.9h.7v.7h-.7zM202.2 249.3h.7v.7h-.7zM205.6 248.6h.7v.7h-.7zM204.8 248.0h.7v.7h-.7zM205.0 247.5h.7v.7h-.7zM204.5 247.2h.7v.7h-.7zM202.3 245.1h.7v.7h-.7zM201.4 248.4h.7v.7h-.7zM201.4 248.6h.7v.7h-.7zM207.3 248.2h.7v.7h-.7zM201.3 247.8h.7v.7h-.7zM197.5 250.4h.7v.7h-.7zM208.4 246.0h.7v.7h-.7zM213.0 246.5h.7v.7h-.7zM206.4 248.8h.7v.7h-.7zM208.9 250.8h.7v.7h-.7zM207.3 251.5h.7v.7h-.7zM204.6 249.9h.7v.7h-.7zM200.8 252.6h.7v.7h-.7zM203.8 250.0h.7v.7h-.7zM204.3 247.0h.7v.7h-.7zM200.6 247.5h.7v.7h-.7zM202.8 246.2h.7v.7h-.7zM204.0 249.7h.7v.7h-.7zM205.0 247.3h.7v.7h-.7zM203.7 251.4h.7v.7h-.7zM206.7 248.0h.7v.7h-.7zM202.5 250.3h.7v.7h-.7zM197.0 249.9h.7v.7h-.7zM200.2 247.4h.7v.7h-.7zM202.6 250.4h.7v.7h-.7zM198.3 249.7h.7v.7h-.7zM208.6 246.4h.7v.7h-.7zM205.3 253.4h.7v.7h-.7zM202.9 250.4h.7v.7h-.7zM202.3 248.8h.7v.7h-.7zM196.1 248.1h.7v.7h-.7zM210.0 252.3h.7v.7h-.7zM201.8 249.5h.7v.7h-.7zM202.4 248.4h.7v.7h-.7zM201.1 251.7h.7v.7h-.7zM202.2 251.9h.7v.7h-.7zM202.7 252.0h.7v.7h-.7zM203.0 245.9h.7v.7h-.7zM201.6 249.0h.7v.7h-.7zM206.8 250.1h.7v.7h-.7zM200.3 252.0h.7v.7h-.7zM204.8 249.2h.7v.7h-.7zM201.8 250.9h.7v.7h-.7zM203.5 245.6h.7v.7h-.7zM203.8 249.4h.7v.7h-.7zM203.0 247.7h.7v.7h-.7zM204.8 245.7h.7v.7h-.7zM206.6 247.3h.7v.7h-.7zM199.4 249.4h.7v.7h-.7zM208.7 251.1h.7v.7h-.7zM199.7 246.8h.7v.7h-.7zM206.2 249.3h.7v.7h-.7zM205.5 250.1h.7v.7h-.7zM198.3 251.8h.7v.7h-.7zM199.8 249.1h.7v.7h-.7zM200.9 249.6h.7v.7h-.7zM208.2 249.9h.7v.7h-.7zM201.6 248.7h.7v.7h-.7zM203.8 248.2h.7v.7h-.7zM206.8 246.9h.7v.7h-.7zM205.7 246.5h.7v.7h-.7zM206.3 250.4h.7v.7h-.7zM204.6 251.2h.7v.7h-.7zM208.7 248.8h.7v.7h-.7zM204.9 246.0h.7v.7h-.7zM201.0 251.1h.7v.7h-.7zM197.3 252.0h.7v.7h-.7zM206.6 247.3h.7v.7h-.7zM204.6 247.1h.7v.7h-.7zM208.1 247.2h.7v.7h-.7zM208.4 248.6h.7v.7h-.7zM200.4 250.7h.7v.7h-.7zM206.0 249.9h.7v.7h-.7zM207.7 247.6h.7v.7h-.7zM199.0 248.4h.7v.7h-.7zM205.1 249.4h.7v.7h-.7zM201.3 249.7h.7v.7h-.7zM199.8 249.1h.7v.7h-.7zM206.1 249.5h.7v.7h-.7zM205.9 245.4h.7v.7h-.7zM203.1 248.1h.7v.7h-.7zM203.1 247.8h.7v.7h-.7zM204.4 250.2h.7v.7h-.7zM206.8 248.5h.7v.7h-.7zM203.2 249.5h.7v.7h-.7zM198.9 250.4h.7v.7h-.7zM201.9 250.4h.7v.7h-.7zM205.2 249.4h.7v.7h-.7zM208.5 251.1h.7v.7h-.7zM205.9 246.7h.7v.7h-.7zM200.9 247.7h.7v.7h-.7zM202.9 247.2h.7v.7h-.7zM200.8 251.3h.7v.7h-.7zM198.0 254.2h.7v.7h-.7zM203.8 248.6h.7v.7h-.7zM197.4 249.0h.7v.7h-.7zM205.3 250.6h.7v.7h-.7zM197.6 247.1h.7v.7h-.7zM208.9 248.9h.7v.7h-.7zM208.2 250.2h.7v.7h-.7zM208.0 247.5h.7v.7h-.7zM206.3 248.8h.7v.7h-.7zM197.1 249.4h.7v.7h-.7zM201.6 249.2h.7v.7h-.7zM203.7 245.2h.7v.7h-.7zM208.2 248.3h.7v.7h-.7zM204.5 244.3h.7v.7h-.7zM204.1 249.1h.7v.7h-.7zM205.7 245.9h.7v.7h-.7zM208.0 245.6h.7v.7h-.7zM205.6 249.8h.7v.7h-.7zM206.2 246.4h.7v.7h-.7zM205.4 244.1h.7v.7h-.7zM206.2 248.7h.7v.7h-.7zM205.9 249.3h.7v.7h-.7zM198.4 251.6h.7v.7h-.7zM204.6 251.0h.7v.7h-.7zM196.7 250.9h.7v.7h-.7zM202.3 246.7h.7v.7h-.7zM205.9 249.5h.7v.7h-.7zM210.9 253.2h.7v.7h-.7zM203.2 249.9h.7v.7h-.7zM205.6 248.8h.7v.7h-.7zM200.7 247.2h.7v.7h-.7zM199.4 246.9h.7v.7h-.7zM205.4 251.2h.7v.7h-.7zM196.3 245.6h.7v.7h-.7zM201.9 249.4h.7v.7h-.7zM204.6 251.9h.7v.7h-.7zM204.7 246.9h.7v.7h-.7zM207.2 244.3h.7v.7h-.7zM202.8 249.2h.7v.7h-.7zM206.0 247.9h.7v.7h-.7zM207.0 248.5h.7v.7h-.7z" fill="#000" fill-opacity="0.8"/>
<ellipse cx="204" cy="248.6" rx="4.8" ry="2.7" fill="#000" fill-opacity="0.95" filter="url(#blur2)"/>
</g>
<line x1="197.1" y1="234.3" x2="197.1" y2="292.2" stroke="#8888e0" stroke-width="0.75"/>
<line x1="161.9" y1="261.6" x2="219.6" y2="261.6" stroke="#8888e0" stroke-width="0.75"/>
<text x="163.5" y="238.09" font-size="3.6" font-weight="bold" textLength="7.3" lengthAdjust="spacingAndGlyphs" stroke="#222" stroke-width="0.1">22.8</text>
<text x="211" y="238.09" font-size="3.6" font-weight="bold" textLength="7.2" lengthAdjust="spacingAndGlyphs" stroke="#222" stroke-width="0.1">77.1</text>
<rect x="93.8" y="307.2" width="58.3" height="58.3" fill="#fff" stroke="#555" stroke-width="0.7"/>
<line x1="92.6" y1="311.7" x2="93.8" y2="311.7" stroke="#555" stroke-width="0.6"/>
<text x="92.3" y="312.8" font-size="3.2" text-anchor="end">10<tspan dy="-1.2" font-size="2.3">5</tspan></text>
<line x1="92.6" y1="325.2" x2="93.8" y2="325.2" stroke="#555" stroke-width="0.6"/>
<text x="92.3" y="326.3" font-size="3.2" text-anchor="end">10<tspan dy="-1.2" font-size="2.3">4</tspan></text>
<line x1="92.6" y1="338.4" x2="93.8" y2="338.4" stroke="#555" stroke-width="0.6"/>
<text x="92.3" y="339.5" font-size="3.2" text-anchor="end">10<tspan dy="-1.2" font-size="2.3">3</tspan></text>
<line x1="92.6" y1="352.3" x2="93.8" y2="352.3" stroke="#555" stroke-width="0.6"/>
<text x="92.3" y="353.4" font-size="3.2" text-anchor="end">10<tspan dy="-1.2" font-size="2.3">2</tspan></text>
<line x1="92.6" y1="359.2" x2="93.8" y2="359.2" stroke="#555" stroke-width="0.6"/>
<text x="90.6" y="360.35" font-size="3.2" textLength="1.4" lengthAdjust="spacingAndGlyphs">0</text>
<line x1="99.9" y1="365.5" x2="99.9" y2="366.7" stroke="#555" stroke-width="0.6"/>
<text x="99.1" y="369.85" font-size="3.2" textLength="1.6" lengthAdjust="spacingAndGlyphs">0</text>
<line x1="105.6" y1="365.5" x2="105.6" y2="366.7" stroke="#555" stroke-width="0.6"/>
<text x="105.6" y="369.8" font-size="3.2" text-anchor="middle">10<tspan dy="-1.2" font-size="2.3">2</tspan></text>
<line x1="119.7" y1="365.5" x2="119.7" y2="366.7" stroke="#555" stroke-width="0.6"/>
<text x="119.7" y="369.8" font-size="3.2" text-anchor="middle">10<tspan dy="-1.2" font-size="2.3">3</tspan></text>
<line x1="133.5" y1="365.5" x2="133.5" y2="366.7" stroke="#555" stroke-width="0.6"/>
<text x="133.5" y="369.8" font-size="3.2" text-anchor="middle">10<tspan dy="-1.2" font-size="2.3">4</tspan></text>
<line x1="146.8" y1="365.5" x2="146.8" y2="366.7" stroke="#555" stroke-width="0.6"/>
<text x="146.8" y="369.8" font-size="3.2" text-anchor="middle">10<tspan dy="-1.2" font-size="2.3">5</tspan></text>
<g>
<path d="M101.4 323.4h.7v.7h-.7zM97.3 322.8h.7v.7h-.7zM100.0 319.9h.7v.7h-.7zM108.6 320.9h.7v.7h-.7zM100.8 322.2h.7v.7h-.7zM105.5 320.4h.7v.7h-.7zM103.4 318.3h.7v.7h-.7zM99.5 319.5h.7v.7h-.7zM95.7 317.0h.7v.7h-.7zM100.3 319.8h.7v.7h-.7zM101.3 317.4h.7v.7h-.7zM100.7 321.0h.7v.7h-.7zM104.0 318.6h.7v.7h-.7zM99.4 315.9h.7v.7h-.7zM99.0 315.4h.7v.7h-.7zM95.3 323.0h.7v.7h-.7zM102.3 319.8h.7v.7h-.7zM102.8 321.7h.7v.7h-.7zM105.2 320.0h.7v.7h-.7zM98.6 319.1h.7v.7h-.7zM97.1 320.4h.7v.7h-.7zM97.9 323.0h.7v.7h-.7zM97.2 315.7h.7v.7h-.7zM108.6 315.0h.7v.7h-.7zM99.9 319.3h.7v.7h-.7zM107.6 315.9h.7v.7h-.7zM105.3 318.8h.7v.7h-.7zM100.4 319.0h.7v.7h-.7zM103.6 317.9h.7v.7h-.7zM100.7 321.3h.7v.7h-.7zM108.4 315.0h.7v.7h-.7zM107.1 322.7h.7v.7h-.7zM99.1 321.2h.7v.7h-.7zM99.1 324.3h.7v.7h-.7zM101.8 320.0h.7v.7h-.7zM100.1 320.0h.7v.7h-.7zM100.3 318.5h.7v.7h-.7zM109.2 316.1h.7v.7h-.7zM100.4 321.4h.7v.7h-.7zM100.2 320.2h.7v.7h-.7zM102.3 322.7h.7v.7h-.7zM99.2 319.6h.7v.7h-.7zM108.8 321.7h.7v.7h-.7zM97.1 325.8h.7v.7h-.7zM104.1 319.1h.7v.7h-.7zM96.3 321.2h.7v.7h-.7zM97.7 318.1h.7v.7h-.7zM95.8 319.3h.7v.7h-.7zM105.4 319.5h.7v.7h-.7zM95.2 322.0h.7v.7h-.7zM101.3 322.4h.7v.7h-.7zM105.8 320.1h.7v.7h-.7zM100.4 320.4h.7v.7h-.7zM96.5 322.0h.7v.7h-.7zM106.5 320.9h.7v.7h-.7zM100.1 319.9h.7v.7h-.7zM97.9 318.7h.7v.7h-.7zM99.4 318.6h.7v.7h-.7zM99.3 316.9h.7v.7h-.7zM102.4 320.6h.7v.7h-.7zM96.4 315.2h.7v.7h-.7zM101.0 323.0h.7v.7h-.7zM98.1 319.4h.7v.7h-.7zM98.7 322.0h.7v.7h-.7zM97.3 322.8h.7v.7h-.7zM99.8 322.6h.7v.7h-.7zM101.1 320.0h.7v.7h-.7zM95.1 318.9h.7v.7h-.7zM100.0 322.0h.7v.7h-.7zM102.0 318.9h.7v.7h-.7zM102.6 322.8h.7v.7h-.7zM100.4 319.5h.7v.7h-.7zM99.4 322.4h.7v.7h-.7zM103.2 318.4h.7v.7h-.7zM102.5 319.4h.7v.7h-.7zM98.0 323.4h.7v.7h-.7zM104.3 318.8h.7v.7h-.7zM101.3 321.7h.7v.7h-.7zM98.4 320.2h.7v.7h-.7zM103.7 316.4h.7v.7h-.7zM102.3 322.2h.7v.7h-.7zM103.0 317.4h.7v.7h-.7zM102.3 318.5h.7v.7h-.7zM103.3 321.9h.7v.7h-.7zM101.9 318.7h.7v.7h-.7zM98.6 322.5h.7v.7h-.7zM97.4 321.6h.7v.7h-.7zM103.0 319.9h.7v.7h-.7zM110.6 320.7h.7v.7h-.7zM109.6 315.9h.7v.7h-.7zM103.5 319.8h.7v.7h-.7zM100.8 316.1h.7v.7h-.7zM98.5 318.1h.7v.7h-.7zM100.1 322.5h.7v.7h-.7zM101.2 321.4h.7v.7h-.7zM98.2 319.5h.7v.7h-.7zM101.4 319.9h.7v.7h-.7zM106.1 318.5h.7v.7h-.7zM108.6 318.2h.7v.7h-.7zM105.2 318.7h.7v.7h-.7zM107.6 320.8h.7v.7h-.7zM102.6 322.2h.7v.7h-.7zM98.5 318.1h.7v.7h-.7zM98.2 319.1h.7v.7h-.7zM100.9 325.1h.7v.7h-.7zM99.4 321.7h.7v.7h-.7zM104.4 324.1h.7v.7h-.7zM107.4 318.5h.7v.7h-.7zM101.2 320.2h.7v.7h-.7zM95.5 317.2h.7v.7h-.7zM104.0 321.1h.7v.7h-.7zM100.4 323.3h.7v.7h-.7zM97.0 321.7h.7v.7h-.7zM101.0 320.4h.7v.7h-.7zM103.0 320.9h.7v.7h-.7zM102.1 321.1h.7v.7h-.7zM108.8 319.8h.7v.7h-.7zM105.0 321.9h.7v.7h-.7zM99.6 322.3h.7v.7h-.7zM97.6 323.2h.7v.7h-.7zM97.8 319.4h.7v.7h-.7zM102.3 322.4h.7v.7h-.7zM104.6 322.6h.7v.7h-.7zM100.2 318.3h.7v.7h-.7zM103.2 321.2h.7v.7h-.7zM97.2 322.7h.7v.7h-.7zM101.8 318.3h.7v.7h-.7zM102.8 317.5h.7v.7h-.7zM97.5 321.4h.7v.7h-.7zM94.8 320.6h.7v.7h-.7zM95.6 322.2h.7v.7h-.7zM98.1 320.9h.7v.7h-.7zM95.0 319.7h.7v.7h-.7zM104.8 321.6h.7v.7h-.7zM104.6 319.6h.7v.7h-.7zM106.7 318.1h.7v.7h-.7zM100.7 323.1h.7v.7h-.7zM106.2 323.4h.7v.7h-.7zM96.6 316.4h.7v.7h-.7zM102.6 317.2h.7v.7h-.7zM100.5 317.6h.7v.7h-.7zM105.2 322.3h.7v.7h-.7zM103.2 320.5h.7v.7h-.7zM101.2 319.8h.7v.7h-.7zM102.5 321.1h.7v.7h-.7zM102.8 319.5h.7v.7h-.7zM108.6 321.1h.7v.7h-.7zM106.6 323.6h.7v.7h-.7zM97.5 316.6h.7v.7h-.7zM106.0 319.6h.7v.7h-.7zM101.3 319.9h.7v.7h-.7zM101.5 317.8h.7v.7h-.7zM100.6 319.4h.7v.7h-.7zM100.9 315.1h.7v.7h-.7zM104.3 321.3h.7v.7h-.7zM101.1 321.9h.7v.7h-.7zM101.0 323.7h.7v.7h-.7zM101.1 318.2h.7v.7h-.7zM98.3 322.2h.7v.7h-.7zM98.5 322.4h.7v.7h-.7zM105.1 321.9h.7v.7h-.7zM105.1 320.1h.7v.7h-.7zM101.0 319.1h.7v.7h-.7zM98.6 316.9h.7v.7h-.7zM98.8 318.0h.7v.7h-.7zM95.3 320.8h.7v.7h-.7zM102.8 319.7h.7v.7h-.7zM106.5 322.7h.7v.7h-.7zM105.2 319.1h.7v.7h-.7zM95.0 321.8h.7v.7h-.7zM102.2 322.2h.7v.7h-.7zM102.7 323.4h.7v.7h-.7zM99.8 322.0h.7v.7h-.7zM97.4 315.2h.7v.7h-.7zM99.2 323.9h.7v.7h-.7zM98.3 319.6h.7v.7h-.7zM101.2 321.0h.7v.7h-.7zM97.1 320.8h.7v.7h-.7zM102.8 322.4h.7v.7h-.7zM98.0 324.1h.7v.7h-.7zM108.6 326.1h.7v.7h-.7zM95.6 320.9h.7v.7h-.7zM103.2 317.9h.7v.7h-.7zM94.7 320.9h.7v.7h-.7zM103.5 318.7h.7v.7h-.7zM100.0 314.7h.7v.7h-.7zM98.2 320.8h.7v.7h-.7zM101.6 324.1h.7v.7h-.7zM96.4 315.3h.7v.7h-.7zM102.8 319.1h.7v.7h-.7zM102.1 322.2h.7v.7h-.7zM103.4 323.8h.7v.7h-.7zM106.4 316.7h.7v.7h-.7zM100.7 325.1h.7v.7h-.7zM99.4 322.7h.7v.7h-.7zM100.8 319.5h.7v.7h-.7zM107.3 322.9h.7v.7h-.7zM100.0 322.6h.7v.7h-.7zM95.7 318.8h.7v.7h-.7zM104.6 320.6h.7v.7h-.7zM96.8 321.5h.7v.7h-.7zM102.3 323.5h.7v.7h-.7zM104.8 319.9h.7v.7h-.7zM99.1 320.2h.7v.7h-.7zM100.1 323.9h.7v.7h-.7zM107.4 323.6h.7v.7h-.7zM102.5 319.9h.7v.7h-.7zM104.6 319.7h.7v.7h-.7zM101.9 316.7h.7v.7h-.7zM99.3 323.8h.7v.7h-.7zM96.9 317.1h.7v.7h-.7zM100.3 324.3h.7v.7h-.7zM106.8 319.7h.7v.7h-.7zM99.1 320.2h.7v.7h-.7zM97.3 320.6h.7v.7h-.7zM99.8 317.1h.7v.7h-.7zM98.7 319.9h.7v.7h-.7zM97.6 317.9h.7v.7h-.7zM104.6 324.9h.7v.7h-.7zM99.9 319.5h.7v.7h-.7zM103.0 320.0h.7v.7h-.7zM97.9 323.7h.7v.7h-.7zM96.8 318.8h.7v.7h-.7zM98.3 318.5h.7v.7h-.7zM100.0 321.8h.7v.7h-.7zM106.8 322.0h.7v.7h-.7zM101.1 317.6h.7v.7h-.7zM100.8 318.3h.7v.7h-.7zM100.6 322.8h.7v.7h-.7zM101.8 320.0h.7v.7h-.7zM98.0 320.4h.7v.7h-.7zM101.4 318.4h.7v.7h-.7zM99.0 322.5h.7v.7h-.7zM96.3 324.1h.7v.7h-.7zM103.4 321.7h.7v.7h-.7zM102.6 321.2h.7v.7h-.7zM102.2 316.9h.7v.7h-.7z" fill="#000" fill-opacity="0.35"/>
<path d="M112.3 321.7h.7v.7h-.7zM103.9 322.3h.7v.7h-.7zM114.3 316.6h.7v.7h-.7zM108.6 319.6h.7v.7h-.7zM108.4 321.2h.7v.7h-.7zM104.6 319.8h.7v.7h-.7zM112.1 322.0h.7v.7h-.7zM111.2 319.7h.7v.7h-.7zM114.5 315.5h.7v.7h-.7zM115.7 319.6h.7v.7h-.7zM104.7 319.3h.7v.7h-.7zM101.8 315.4h.7v.7h-.7zM109.4 318.4h.7v.7h-.7zM114.7 318.2h.7v.7h-.7zM104.5 318.0h.7v.7h-.7zM119.6 320.4h.7v.7h-.7zM107.9 317.9h.7v.7h-.7zM105.5 319.9h.7v.7h-.7zM113.1 323.1h.7v.7h-.7zM116.7 321.0h.7v.7h-.7zM107.7 318.2h.7v.7h-.7zM99.4 317.9h.7v.7h-.7zM113.1 319.5h.7v.7h-.7zM112.8 317.1h.7v.7h-.7zM115.5 321.0h.7v.7h-.7zM111.2 321.3h.7v.7h-.7zM99.8 319.0h.7v.7h-.7zM106.5 324.6h.7v.7h-.7zM110.1 319.1h.7v.7h-.7zM115.3 317.8h.7v.7h-.7zM118.1 318.6h.7v.7h-.7zM110.7 318.1h.7v.7h-.7zM115.0 315.1h.7v.7h-.7zM114.5 318.3h.7v.7h-.7zM111.2 317.5h.7v.7h-.7zM112.1 320.7h.7v.7h-.7zM114.0 321.1h.7v.7h-.7zM114.1 322.7h.7v.7h-.7zM109.1 317.5h.7v.7h-.7zM104.6 321.9h.7v.7h-.7zM109.1 322.8h.7v.7h-.7zM111.2 317.9h.7v.7h-.7zM115.5 325.0h.7v.7h-.7zM110.1 318.0h.7v.7h-.7zM106.8 322.4h.7v.7h-.7zM108.1 319.3h.7v.7h-.7zM114.4 320.3h.7v.7h-.7zM111.6 319.0h.7v.7h-.7zM107.8 320.7h.7v.7h-.7zM111.8 321.7h.7v.7h-.7zM108.5 321.1h.7v.7h-.7zM113.4 320.5h.7v.7h-.7zM113.9 322.7h.7v.7h-.7zM112.0 320.5h.7v.7h-.7zM106.2 321.1h.7v.7h-.7zM110.5 319.6h.7v.7h-.7zM106.9 321.7h.7v.7h-.7zM123.8 321.3h.7v.7h-.7zM111.4 321.3h.7v.7h-.7zM108.0 320.5h.7v.7h-.7zM107.7 318.8h.7v.7h-.7zM112.2 320.9h.7v.7h-.7zM110.4 318.4h.7v.7h-.7zM112.3 317.7h.7v.7h-.7zM114.9 319.5h.7v.7h-.7zM111.0 322.2h.7v.7h-.7zM113.8 317.2h.7v.7h-.7zM109.8 321.2h.7v.7h-.7zM105.6 314.5h.7v.7h-.7zM110.6 320.2h.7v.7h-.7zM113.1 320.5h.7v.7h-.7zM111.7 320.9h.7v.7h-.7zM117.9 321.5h.7v.7h-.7zM113.7 319.4h.7v.7h-.7zM116.6 319.9h.7v.7h-.7zM114.7 315.2h.7v.7h-.7zM112.2 320.1h.7v.7h-.7zM108.7 323.4h.7v.7h-.7zM113.0 320.0h.7v.7h-.7zM108.4 324.8h.7v.7h-.7zM114.7 321.9h.7v.7h-.7zM107.2 323.4h.7v.7h-.7zM113.8 319.7h.7v.7h-.7zM110.5 316.4h.7v.7h-.7zM114.3 317.7h.7v.7h-.7zM115.2 319.2h.7v.7h-.7zM107.9 321.2h.7v.7h-.7zM112.1 317.6h.7v.7h-.7zM110.6 321.8h.7v.7h-.7zM109.7 317.1h.7v.7h-.7zM109.8 318.0h.7v.7h-.7zM108.1 320.4h.7v.7h-.7zM110.7 319.8h.7v.7h-.7zM102.8 321.1h.7v.7h-.7zM110.0 319.3h.7v.7h-.7zM111.8 324.9h.7v.7h-.7zM104.6 316.5h.7v.7h-.7zM114.8 318.4h.7v.7h-.7zM117.5 317.9h.7v.7h-.7zM108.6 322.3h.7v.7h-.7zM115.5 321.4h.7v.7h-.7zM113.3 320.0h.7v.7h-.7zM108.8 319.8h.7v.7h-.7zM117.3 322.0h.7v.7h-.7zM111.1 321.1h.7v.7h-.7zM115.1 323.1h.7v.7h-.7zM110.3 320.1h.7v.7h-.7zM112.6 326.5h.7v.7h-.7zM112.2 323.3h.7v.7h-.7zM103.4 322.3h.7v.7h-.7zM104.0 317.7h.7v.7h-.7zM107.9 320.0h.7v.7h-.7zM111.9 321.2h.7v.7h-.7zM112.1 319.3h.7v.7h-.7zM123.9 321.2h.7v.7h-.7zM114.3 325.1h.7v.7h-.7zM115.8 321.7h.7v.7h-.7zM112.6 324.7h.7v.7h-.7zM105.6 318.0h.7v.7h-.7zM111.7 315.4h.7v.7h-.7zM107.1 323.0h.7v.7h-.7zM108.7 320.7h.7v.7h-.7zM114.4 317.5h.7v.7h-.7zM112.3 318.8h.7v.7h-.7zM105.6 319.6h.7v.7h-.7zM110.7 319.3h.7v.7h-.7zM107.7 322.6h.7v.7h-.7zM116.7 321.6h.7v.7h-.7zM110.5 317.8h.7v.7h-.7zM106.9 317.7h.7v.7h-.7zM112.0 322.5h.7v.7h-.7zM115.5 320.2h.7v.7h-.7zM109.1 320.7h.7v.7h-.7zM111.6 321.7h.7v.7h-.7zM118.3 318.7h.7v.7h-.7zM121.4 315.3h.7v.7h-.7zM102.2 316.7h.7v.7h-.7zM105.9 319.7h.7v.7h-.7zM121.2 318.6h.7v.7h-.7zM116.5 319.4h.7v.7h-.7zM111.8 317.9h.7v.7h-.7zM122.2 320.2h.7v.7h-.7zM108.0 325.7h.7v.7h-.7zM111.9 321.3h.7v.7h-.7zM110.3 318.3h.7v.7h-.7zM103.9 319.9h.7v.7h-.7zM119.0 321.3h.7v.7h-.7zM110.1 322.8h.7v.7h-.7zM106.4 323.6h.7v.7h-.7zM110.9 318.3h.7v.7h-.7zM114.4 321.5h.7v.7h-.7zM109.3 320.8h.7v.7h-.7zM115.8 323.6h.7v.7h-.7zM106.8 314.0h.7v.7h-.7zM121.1 319.7h.7v.7h-.7zM108.9 321.3h.7v.7h-.7zM108.9 322.8h.7v.7h-.7zM104.8 319.8h.7v.7h-.7zM104.8 323.9h.7v.7h-.7zM109.8 322.9h.7v.7h-.7zM117.9 317.5h.7v.7h-.7zM109.9 322.0h.7v.7h-.7zM111.2 320.0h.7v.7h-.7zM115.2 322.5h.7v.7h-.7zM108.1 320.0h.7v.7h-.7zM114.2 320.8h.7v.7h-.7zM111.7 317.6h.7v.7h-.7zM119.7 319.8h.7v.7h-.7zM112.3 320.2h.7v.7h-.7zM111.3 320.7h.7v.7h-.7zM106.9 321.2h.7v.7h-.7zM117.0 321.3h.7v.7h-.7zM114.6 321.5h.7v.7h-.7zM111.2 324.6h.7v.7h-.7zM107.6 321.2h.7v.7h-.7zM116.1 321.0h.7v.7h-.7zM105.8 317.7h.7v.7h-.7zM118.8 318.0h.7v.7h-.7zM111.0 321.6h.7v.7h-.7zM111.5 316.1h.7v.7h-.7zM101.6 320.0h.7v.7h-.7zM107.2 319.7h.7v.7h-.7zM111.5 320.7h.7v.7h-.7zM104.4 316.3h.7v.7h-.7zM115.7 318.8h.7v.7h-.7zM105.2 315.5h.7v.7h-.7zM113.7 317.3h.7v.7h-.7zM105.8 321.8h.7v.7h-.7zM112.5 321.6h.7v.7h-.7zM104.7 313.5h.7v.7h-.7zM106.1 319.6h.7v.7h-.7zM107.7 322.4h.7v.7h-.7zM112.8 317.8h.7v.7h-.7zM113.8 319.9h.7v.7h-.7zM108.6 323.0h.7v.7h-.7zM102.7 322.8h.7v.7h-.7zM116.4 315.4h.7v.7h-.7zM110.1 319.9h.7v.7h-.7zM105.4 318.9h.7v.7h-.7zM107.0 320.5h.7v.7h-.7zM108.2 315.2h.7v.7h-.7zM116.9 322.4h.7v.7h-.7zM106.8 322.4h.7v.7h-.7zM121.1 316.6h.7v.7h-.7zM109.0 319.1h.7v.7h-.7zM113.8 319.6h.7v.7h-.7zM104.0 323.3h.7v.7h-.7zM109.4 322.0h.7v.7h-.7zM122.4 318.5h.7v.7h-.7zM108.9 322.5h.7v.7h-.7zM110.5 321.5h.7v.7h-.7zM111.0 327.0h.7v.7h-.7zM114.2 321.1h.7v.7h-.7zM111.6 321.2h.7v.7h-.7zM102.9 319.7h.7v.7h-.7zM114.7 317.4h.7v.7h-.7zM111.2 320.1h.7v.7h-.7zM108.4 326.3h.7v.7h-.7zM114.6 321.1h.7v.7h-.7zM107.1 320.5h.7v.7h-.7zM109.5 320.1h.7v.7h-.7zM112.1 326.3h.7v.7h-.7zM117.7 324.4h.7v.7h-.7zM117.9 327.1h.7v.7h-.7zM107.7 317.2h.7v.7h-.7zM112.0 320.9h.7v.7h-.7zM111.2 318.8h.7v.7h-.7zM114.4 324.4h.7v.7h-.7zM112.1 319.8h.7v.7h-.7zM117.0 319.6h.7v.7h-.7zM109.2 321.1h.7v.7h-.7zM99.6 324.8h.7v.7h-.7zM110.5 321.5h.7v.7h-.7zM112.6 321.3h.7v.7h-.7zM104.3 324.6h.7v.7h-.7zM113.9 321.0h.7v.7h-.7zM126.8 317.3h.7v.7h-.7zM114.7 320.1h.7v.7h-.7zM103.5 325.0h.7v.7h-.7zM103.2 320.7h.7v.7h-.7zM110.6 320.8h.7v.7h-.7zM106.3 323.6h.7v.7h-.7zM112.3 317.2h.7v.7h-.7zM104.9 321.0h.7v.7h-.7zM105.2 321.4h.7v.7h-.7zM112.7 318.9h.7v.7h-.7zM101.4 317.2h.7v.7h-.7zM112.8 319.1h.7v.7h-.7zM120.3 319.3h.7v.7h-.7zM112.9 321.9h.7v.7h-.7zM111.5 321.1h.7v.7h-.7zM116.1 320.0h.7v.7h-.7zM112.7 319.5h.7v.7h-.7zM121.1 320.7h.7v.7h-.7zM115.2 313.2h.7v.7h-.7zM108.6 317.6h.7v.7h-.7zM111.2 319.2h.7v.7h-.7zM105.8 319.7h.7v.7h-.7zM115.1 322.9h.7v.7h-.7zM108.4 322.9h.7v.7h-.7zM107.9 321.8h.7v.7h-.7zM106.7 322.8h.7v.7h-.7zM122.6 319.6h.7v.7h-.7zM117.2 316.8h.7v.7h-.7zM107.9 326.7h.7v.7h-.7zM110.7 321.5h.7v.7h-.7zM102.9 320.3h.7v.7h-.7zM107.1 323.2h.7v.7h-.7zM108.4 326.4h.7v.7h-.7zM105.5 321.1h.7v.7h-.7zM101.0 319.3h.7v.7h-.7zM117.1 320.1h.7v.7h-.7zM104.5 321.5h.7v.7h-.7zM115.8 321.4h.7v.7h-.7zM116.0 316.9h.7v.7h-.7zM120.1 322.0h.7v.7h-.7zM100.5 324.8h.7v.7h-.7zM108.7 321.5h.7v.7h-.7zM101.1 318.8h.7v.7h-.7zM101.9 322.3h.7v.7h-.7zM109.9 318.1h.7v.7h-.7zM109.1 323.0h.7v.7h-.7zM107.1 321.7h.7v.7h-.7zM105.1 316.3h.7v.7h-.7zM108.6 319.6h.7v.7h-.7zM111.9 322.6h.7v.7h-.7zM108.9 319.4h.7v.7h-.7zM114.8 321.3h.7v.7h-.7zM110.7 320.9h.7v.7h-.7zM100.1 319.0h.7v.7h-.7zM103.0 319.5h.7v.7h-.7zM115.5 316.3h.7v.7h-.7zM115.6 319.0h.7v.7h-.7zM110.0 319.2h.7v.7h-.7zM114.6 318.7h.7v.7h-.7zM100.6 321.1h.7v.7h-.7zM110.3 321.8h.7v.7h-.7zM114.0 317.4h.7v.7h-.7zM112.0 320.6h.7v.7h-.7zM110.6 320.5h.7v.7h-.7zM112.6 319.0h.7v.7h-.7zM110.2 322.7h.7v.7h-.7zM105.7 320.1h.7v.7h-.7zM105.9 317.8h.7v.7h-.7zM108.9 320.7h.7v.7h-.7zM118.6 319.8h.7v.7h-.7zM115.7 321.6h.7v.7h-.7zM111.3 312.9h.7v.7h-.7zM111.6 320.4h.7v.7h-.7zM105.8 320.6h.7v.7h-.7zM118.4 317.5h.7v.7h-.7zM108.4 322.5h.7v.7h-.7zM102.0 317.8h.7v.7h-.7zM112.5 322.6h.7v.7h-.7zM117.1 322.1h.7v.7h-.7zM122.5 321.2h.7v.7h-.7zM104.5 319.8h.7v.7h-.7zM114.1 321.2h.7v.7h-.7zM101.3 321.2h.7v.7h-.7zM107.0 319.8h.7v.7h-.7zM118.3 319.9h.7v.7h-.7zM107.7 320.0h.7v.7h-.7zM107.8 325.2h.7v.7h-.7zM115.1 322.5h.7v.7h-.7zM107.6 318.8h.7v.7h-.7zM112.3 315.1h.7v.7h-.7zM116.1 317.2h.7v.7h-.7zM111.5 321.1h.7v.7h-.7zM107.1 321.2h.7v.7h-.7zM114.5 324.9h.7v.7h-.7zM113.0 324.7h.7v.7h-.7zM113.3 319.8h.7v.7h-.7zM115.3 319.1h.7v.7h-.7zM111.8 321.8h.7v.7h-.7zM116.7 321.0h.7v.7h-.7zM103.7 323.4h.7v.7h-.7zM111.9 319.6h.7v.7h-.7zM107.0 321.7h.7v.7h-.7zM112.7 321.9h.7v.7h-.7zM110.4 324.0h.7v.7h-.7zM109.7 321.3h.7v.7h-.7zM112.0 322.8h.7v.7h-.7zM107.6 319.6h.7v.7h-.7zM109.9 318.7h.7v.7h-.7zM107.7 317.4h.7v.7h-.7zM114.7 323.9h.7v.7h-.7zM106.1 322.1h.7v.7h-.7zM105.3 318.4h.7v.7h-.7zM109.4 320.6h.7v.7h-.7zM113.3 315.7h.7v.7h-.7zM104.4 320.5h.7v.7h-.7zM109.8 325.4h.7v.7h-.7zM109.6 318.7h.7v.7h-.7zM117.0 313.9h.7v.7h-.7zM101.7 326.8h.7v.7h-.7zM107.9 320.5h.7v.7h-.7zM110.1 318.2h.7v.7h-.7zM110.3 317.1h.7v.7h-.7zM115.8 322.1h.7v.7h-.7zM114.4 318.1h.7v.7h-.7zM101.3 319.1h.7v.7h-.7zM105.5 321.2h.7v.7h-.7zM102.9 318.1h.7v.7h-.7zM111.6 321.3h.7v.7h-.7zM111.4 317.3h.7v.7h-.7zM107.6 325.1h.7v.7h-.7zM115.7 318.3h.7v.7h-.7zM120.5 320.0h.7v.7h-.7zM110.9 318.3h.7v.7h-.7zM118.5 320.5h.7v.7h-.7zM110.6 318.1h.7v.7h-.7zM104.6 320.7h.7v.7h-.7zM111.0 324.0h.7v.7h-.7zM106.4 319.4h.7v.7h-.7zM115.9 322.2h.7v.7h-.7zM107.6 323.8h.7v.7h-.7zM113.3 322.4h.7v.7h-.7zM112.7 322.6h.7v.7h-.7zM108.9 319.8h.7v.7h-.7zM116.4 321.2h.7v.7h-.7z" fill="#000" fill-opacity="0.45"/>
<path d="M124.8 323.2h.7v.7h-.7zM124.1 321.5h.7v.7h-.7zM112.0 319.2h.7v.7h-.7zM127.1 318.4h.7v.7h-.7zM121.5 321.0h.7v.7h-.7zM122.3 322.6h.7v.7h-.7zM125.3 320.1h.7v.7h-.7zM128.4 319.6h.7v.7h-.7zM119.4 321.3h.7v.7h-.7zM126.1 320.1h.7v.7h-.7zM117.6 319.3h.7v.7h-.7zM124.1 322.1h.7v.7h-.7zM131.8 320.1h.7v.7h-.7zM121.9 315.3h.7v.7h-.7zM129.3 322.7h.7v.7h-.7zM123.0 318.8h.7v.7h-.7zM110.0 322.2h.7v.7h-.7zM119.1 324.1h.7v.7h-.7zM126.8 323.6h.7v.7h-.7zM122.3 323.3h.7v.7h-.7zM116.0 324.0h.7v.7h-.7zM122.8 317.7h.7v.7h-.7zM121.0 318.2h.7v.7h-.7zM124.3 318.8h.7v.7h-.7zM116.6 319.6h.7v.7h-.7zM121.8 321.0h.7v.7h-.7zM126.4 323.5h.7v.7h-.7zM125.0 324.4h.7v.7h-.7zM110.6 320.3h.7v.7h-.7zM127.6 317.3h.7v.7h-.7zM122.0 321.0h.7v.7h-.7zM115.2 319.1h.7v.7h-.7zM126.0 319.7h.7v.7h-.7zM130.6 326.2h.7v.7h-.7zM122.6 317.7h.7v.7h-.7zM122.8 319.1h.7v.7h-.7zM115.9 319.5h.7v.7h-.7zM120.6 319.6h.7v.7h-.7zM127.6 323.0h.7v.7h-.7zM125.0 319.6h.7v.7h-.7zM125.1 320.5h.7v.7h-.7zM124.1 318.2h.7v.7h-.7zM107.6 322.6h.7v.7h-.7zM120.0 319.3h.7v.7h-.7zM122.9 320.4h.7v.7h-.7zM121.5 324.1h.7v.7h-.7zM123.6 321.0h.7v.7h-.7zM118.6 320.3h.7v.7h-.7zM125.3 320.3h.7v.7h-.7zM124.6 318.2h.7v.7h-.7zM124.9 318.1h.7v.7h-.7zM120.8 318.6h.7v.7h-.7zM123.9 323.1h.7v.7h-.7zM124.4 318.4h.7v.7h-.7zM123.7 323.0h.7v.7h-.7zM126.6 321.7h.7v.7h-.7zM117.4 319.2h.7v.7h-.7zM119.6 319.4h.7v.7h-.7zM124.1 320.6h.7v.7h-.7zM121.2 321.8h.7v.7h-.7zM119.4 319.7h.7v.7h-.7zM123.5 317.3h.7v.7h-.7zM118.7 317.2h.7v.7h-.7zM117.8 320.2h.7v.7h-.7zM122.4 321.3h.7v.7h-.7zM124.6 317.8h.7v.7h-.7zM132.3 323.7h.7v.7h-.7zM116.9 318.8h.7v.7h-.7zM120.6 321.0h.7v.7h-.7zM126.0 320.5h.7v.7h-.7zM110.2 327.3h.7v.7h-.7zM127.2 322.5h.7v.7h-.7zM119.3 320.7h.7v.7h-.7zM127.6 319.4h.7v.7h-.7zM128.6 320.7h.7v.7h-.7zM130.8 320.6h.7v.7h-.7zM130.4 316.7h.7v.7h-.7zM130.2 321.6h.7v.7h-.7zM121.1 323.1h.7v.7h-.7zM121.7 322.4h.7v.7h-.7zM127.7 323.0h.7v.7h-.7zM134.0 323.8h.7v.7h-.7zM135.4 322.2h.7v.7h-.7zM123.7 321.4h.7v.7h-.7zM122.8 317.5h.7v.7h-.7zM123.7 317.7h.7v.7h-.7zM121.6 319.8h.7v.7h-.7zM120.2 317.9h.7v.7h-.7zM123.5 320.4h.7v.7h-.7zM129.8 322.0h.7v.7h-.7zM127.7 319.4h.7v.7h-.7zM121.4 317.5h.7v.7h-.7zM118.7 322.2h.7v.7h-.7zM122.0 320.2h.7v.7h-.7zM120.2 324.2h.7v.7h-.7zM122.7 323.2h.7v.7h-.7zM122.8 322.8h.7v.7h-.7zM118.2 317.3h.7v.7h-.7zM128.5 319.8h.7v.7h-.7zM124.3 322.6h.7v.7h-.7zM126.5 321.1h.7v.7h-.7zM117.1 318.8h.7v.7h-.7zM123.2 322.0h.7v.7h-.7zM125.6 321.4h.7v.7h-.7zM119.2 320.5h.7v.7h-.7zM127.8 318.4h.7v.7h-.7zM120.1 322.7h.7v.7h-.7zM130.9 321.5h.7v.7h-.7zM123.0 318.2h.7v.7h-.7zM122.4 318.6h.7v.7h-.7zM123.7 322.2h.7v.7h-.7zM125.2 323.6h.7v.7h-.7zM117.9 317.5h.7v.7h-.7zM129.8 323.0h.7v.7h-.7zM118.2 320.8h.7v.7h-.7zM117.7 320.5h.7v.7h-.7zM124.5 322.8h.7v.7h-.7zM118.2 317.5h.7v.7h-.7zM125.8 319.7h.7v.7h-.7zM130.0 317.8h.7v.7h-.7zM119.8 314.0h.7v.7h-.7zM128.6 323.7h.7v.7h-.7zM125.1 319.8h.7v.7h-.7zM113.0 317.2h.7v.7h-.7zM120.4 325.0h.7v.7h-.7zM127.4 319.1h.7v.7h-.7zM125.1 321.8h.7v.7h-.7zM125.5 318.3h.7v.7h-.7zM120.8 322.9h.7v.7h-.7zM126.4 319.7h.7v.7h-.7zM135.1 321.2h.7v.7h-.7zM121.0 322.7h.7v.7h-.7zM127.0 320.2h.7v.7h-.7zM132.0 323.1h.7v.7h-.7zM123.1 322.2h.7v.7h-.7zM126.3 319.8h.7v.7h-.7zM126.7 319.2h.7v.7h-.7zM121.9 322.1h.7v.7h-.7zM116.8 319.7h.7v.7h-.7zM118.2 322.2h.7v.7h-.7zM120.2 324.9h.7v.7h-.7zM130.7 318.9h.7v.7h-.7zM123.8 319.7h.7v.7h-.7zM123.0 322.1h.7v.7h-.7zM130.4 325.7h.7v.7h-.7zM132.2 317.5h.7v.7h-.7zM120.7 320.1h.7v.7h-.7zM121.5 320.9h.7v.7h-.7zM126.2 319.4h.7v.7h-.7zM120.1 326.1h.7v.7h-.7zM126.5 325.7h.7v.7h-.7zM120.2 323.8h.7v.7h-.7zM131.4 323.7h.7v.7h-.7zM119.3 321.8h.7v.7h-.7zM119.2 317.8h.7v.7h-.7zM123.0 321.7h.7v.7h-.7zM122.0 320.3h.7v.7h-.7zM126.2 318.9h.7v.7h-.7zM125.2 322.4h.7v.7h-.7zM126.3 321.9h.7v.7h-.7zM118.1 319.8h.7v.7h-.7zM120.9 322.2h.7v.7h-.7zM114.3 320.9h.7v.7h-.7zM115.1 322.1h.7v.7h-.7zM120.5 320.6h.7v.7h-.7zM127.7 324.6h.7v.7h-.7zM118.1 320.8h.7v.7h-.7zM113.4 320.0h.7v.7h-.7zM119.6 322.1h.7v.7h-.7zM122.5 320.8h.7v.7h-.7zM117.5 319.7h.7v.7h-.7zM117.5 320.6h.7v.7h-.7zM115.2 321.2h.7v.7h-.7zM128.5 326.7h.7v.7h-.7zM130.5 323.7h.7v.7h-.7zM127.0 324.3h.7v.7h-.7zM122.9 321.5h.7v.7h-.7zM113.8 319.3h.7v.7h-.7zM128.8 316.4h.7v.7h-.7zM124.6 320.4h.7v.7h-.7zM121.3 321.3h.7v.7h-.7zM123.2 317.9h.7v.7h-.7zM122.7 316.2h.7v.7h-.7zM130.5 320.5h.7v.7h-.7zM127.5 318.4h.7v.7h-.7zM132.2 323.0h.7v.7h-.7zM124.8 321.1h.7v.7h-.7zM125.0 318.8h.7v.7h-.7zM122.4 320.0h.7v.7h-.7zM124.9 324.2h.7v.7h-.7zM128.8 321.2h.7v.7h-.7zM126.2 319.9h.7v.7h-.7zM120.7 316.7h.7v.7h-.7zM116.8 317.7h.7v.7h-.7zM122.7 320.1h.7v.7h-.7zM125.2 323.3h.7v.7h-.7zM126.4 320.2h.7v.7h-.7zM120.8 319.8h.7v.7h-.7zM126.1 318.4h.7v.7h-.7zM115.6 320.0h.7v.7h-.7zM128.3 323.4h.7v.7h-.7zM126.1 316.0h.7v.7h-.7zM122.3 322.2h.7v.7h-.7zM128.5 324.9h.7v.7h-.7zM118.4 321.4h.7v.7h-.7zM115.3 320.0h.7v.7h-.7zM121.1 322.5h.7v.7h-.7zM123.9 316.4h.7v.7h-.7zM122.4 321.4h.7v.7h-.7zM130.3 318.8h.7v.7h-.7zM118.8 319.1h.7v.7h-.7zM128.1 319.8h.7v.7h-.7zM123.5 321.6h.7v.7h-.7zM119.0 323.1h.7v.7h-.7zM115.0 324.9h.7v.7h-.7zM119.7 318.4h.7v.7h-.7zM119.4 317.7h.7v.7h-.7zM118.7 318.6h.7v.7h-.7zM117.2 320.1h.7v.7h-.7zM124.6 319.1h.7v.7h-.7zM123.9 318.5h.7v.7h-.7zM124.1 319.7h.7v.7h-.7zM117.6 320.7h.7v.7h-.7zM122.2 318.9h.7v.7h-.7zM122.8 321.8h.7v.7h-.7zM116.9 319.3h.7v.7h-.7zM126.1 320.5h.7v.7h-.7zM126.9 326.2h.7v.7h-.7zM116.8 321.4h.7v.7h-.7zM121.2 323.9h.7v.7h-.7zM125.9 317.2h.7v.7h-.7zM128.4 320.5h.7v.7h-.7zM121.5 320.6h.7v.7h-.7zM124.1 318.5h.7v.7h-.7zM121.1 323.7h.7v.7h-.7zM118.0 319.1h.7v.7h-.7zM126.8 318.3h.7v.7h-.7zM122.0 321.2h.7v.7h-.7zM118.5 319.8h.7v.7h-.7zM118.5 320.0h.7v.7h-.7zM124.4 320.5h.7v.7h-.7zM124.2 321.4h.7v.7h-.7zM126.9 318.0h.7v.7h-.7zM123.6 324.3h.7v.7h-.7zM121.8 319.9h.7v.7h-.7zM123.0 318.8h.7v.7h-.7zM125.8 320.5h.7v.7h-.7zM122.2 322.3h.7v.7h-.7zM129.0 317.1h.7v.7h-.7zM120.5 319.8h.7v.7h-.7zM116.0 322.1h.7v.7h-.7zM133.5 322.4h.7v.7h-.7zM129.3 315.8h.7v.7h-.7zM120.8 317.3h.7v.7h-.7zM126.9 320.2h.7v.7h-.7zM122.1 321.7h.7v.7h-.7zM126.8 324.4h.7v.7h-.7zM129.8 322.7h.7v.7h-.7zM114.9 323.5h.7v.7h-.7zM123.5 316.8h.7v.7h-.7zM123.8 319.9h.7v.7h-.7zM122.5 322.8h.7v.7h-.7zM116.3 322.0h.7v.7h-.7zM129.0 317.8h.7v.7h-.7zM130.0 318.9h.7v.7h-.7zM119.3 322.7h.7v.7h-.7zM122.9 316.1h.7v.7h-.7zM119.8 322.1h.7v.7h-.7zM120.3 319.4h.7v.7h-.7zM123.0 320.5h.7v.7h-.7zM119.6 318.3h.7v.7h-.7zM125.2 323.4h.7v.7h-.7zM110.4 321.5h.7v.7h-.7zM128.0 318.4h.7v.7h-.7zM130.2 316.9h.7v.7h-.7zM127.8 324.4h.7v.7h-.7zM130.7 314.1h.7v.7h-.7zM123.3 318.1h.7v.7h-.7zM125.0 323.9h.7v.7h-.7zM125.1 324.4h.7v.7h-.7zM114.7 318.5h.7v.7h-.7zM120.4 322.1h.7v.7h-.7zM129.1 318.5h.7v.7h-.7zM118.4 322.6h.7v.7h-.7zM116.4 321.9h.7v.7h-.7zM118.9 320.3h.7v.7h-.7zM133.3 319.9h.7v.7h-.7zM123.2 318.6h.7v.7h-.7zM125.8 324.2h.7v.7h-.7zM126.2 317.4h.7v.7h-.7zM124.8 324.2h.7v.7h-.7zM118.2 320.2h.7v.7h-.7zM118.4 319.1h.7v.7h-.7zM118.0 317.3h.7v.7h-.7zM125.4 320.4h.7v.7h-.7zM112.1 318.0h.7v.7h-.7zM119.4 317.9h.7v.7h-.7zM123.8 320.0h.7v.7h-.7zM124.9 317.3h.7v.7h-.7zM119.3 319.5h.7v.7h-.7zM121.1 319.7h.7v.7h-.7zM119.2 320.2h.7v.7h-.7zM131.2 318.7h.7v.7h-.7zM114.7 321.2h.7v.7h-.7zM118.4 322.4h.7v.7h-.7zM128.2 324.5h.7v.7h-.7zM123.7 316.5h.7v.7h-.7zM131.0 322.7h.7v.7h-.7zM129.4 320.7h.7v.7h-.7zM121.3 320.6h.7v.7h-.7zM113.8 322.9h.7v.7h-.7zM119.9 319.0h.7v.7h-.7zM124.8 318.4h.7v.7h-.7zM127.0 319.0h.7v.7h-.7zM134.8 323.5h.7v.7h-.7zM126.4 321.3h.7v.7h-.7zM123.3 319.3h.7v.7h-.7zM113.5 319.2h.7v.7h-.7zM119.1 319.3h.7v.7h-.7zM123.5 316.0h.7v.7h-.7zM116.8 318.9h.7v.7h-.7zM120.8 322.7h.7v.7h-.7zM136.3 320.2h.7v.7h-.7zM126.3 320.5h.7v.7h-.7zM124.4 324.7h.7v.7h-.7zM123.9 321.9h.7v.7h-.7zM123.3 319.0h.7v.7h-.7zM128.5 320.1h.7v.7h-.7zM130.4 317.9h.7v.7h-.7zM125.3 324.6h.7v.7h-.7zM120.0 321.4h.7v.7h-.7zM130.5 321.6h.7v.7h-.7zM119.1 319.7h.7v.7h-.7zM124.6 319.1h.7v.7h-.7zM121.0 320.8h.7v.7h-.7zM116.9 324.5h.7v.7h-.7zM120.1 320.5h.7v.7h-.7zM123.6 323.9h.7v.7h-.7zM121.2 325.4h.7v.7h-.7zM132.4 322.3h.7v.7h-.7zM116.3 317.4h.7v.7h-.7zM121.8 321.2h.7v.7h-.7zM126.3 323.5h.7v.7h-.7zM125.4 320.7h.7v.7h-.7zM125.1 315.7h.7v.7h-.7zM128.9 316.9h.7v.7h-.7zM113.4 318.8h.7v.7h-.7zM120.9 317.6h.7v.7h-.7zM122.0 320.7h.7v.7h-.7zM126.2 321.5h.7v.7h-.7zM120.5 320.8h.7v.7h-.7zM129.4 319.9h.7v.7h-.7zM122.4 315.4h.7v.7h-.7zM124.6 325.4h.7v.7h-.7zM126.8 320.0h.7v.7h-.7zM129.3 323.6h.7v.7h-.7zM129.9 317.8h.7v.7h-.7zM117.3 322.3h.7v.7h-.7zM125.8 321.7h.7v.7h-.7zM115.8 322.4h.7v.7h-.7zM132.7 323.4h.7v.7h-.7zM136.0 321.7h.7v.7h-.7zM123.8 324.9h.7v.7h-.7zM128.2 315.1h.7v.7h-.7zM115.4 321.2h.7v.7h-.7zM120.5 324.9h.7v.7h-.7zM131.0 323.6h.7v.7h-.7zM121.5 320.0h.7v.7h-.7zM127.1 319.7h.7v.7h-.7zM126.5 321.3h.7v.7h-.7zM127.0 320.8h.7v.7h-.7zM119.3 313.6h.7v.7h-.7zM116.3 317.0h.7v.7h-.7zM126.5 317.1h.7v.7h-.7zM120.2 321.7h.7v.7h-.7zM126.5 323.0h.7v.7h-.7zM125.3 324.3h.7v.7h-.7zM120.2 323.4h.7v.7h-.7zM116.3 319.5h.7v.7h-.7zM125.2 322.0h.7v.7h-.7zM121.7 319.0h.7v.7h-.7zM116.9 315.0h.7v.7h-.7zM113.2 324.4h.7v.7h-.7zM113.9 316.7h.7v.7h-.7zM114.8 319.8h.7v.7h-.7zM121.6 319.1h.7v.7h-.7zM116.4 320.1h.7v.7h-.7zM115.8 321.3h.7v.7h-.7zM130.5 318.2h.7v.7h-.7zM124.1 319.3h.7v.7h-.7zM121.0 317.3h.7v.7h-.7zM123.3 320.4h.7v.7h-.7zM129.4 326.3h.7v.7h-.7zM117.6 323.2h.7v.7h-.7zM118.8 319.2h.7v.7h-.7zM117.0 321.7h.7v.7h-.7zM129.1 320.2h.7v.7h-.7zM124.1 318.5h.7v.7h-.7zM121.4 317.3h.7v.7h-.7zM122.6 315.6h.7v.7h-.7zM134.5 323.5h.7v.7h-.7zM120.0 319.3h.7v.7h-.7zM120.8 320.7h.7v.7h-.7zM124.1 325.0h.7v.7h-.7zM120.6 315.8h.7v.7h-.7zM124.3 321.5h.7v.7h-.7zM118.8 322.4h.7v.7h-.7zM122.0 318.5h.7v.7h-.7zM122.5 317.3h.7v.7h-.7zM120.9 324.6h.7v.7h-.7zM129.0 321.9h.7v.7h-.7zM123.6 321.2h.7v.7h-.7zM117.0 320.9h.7v.7h-.7zM119.3 319.0h.7v.7h-.7zM130.9 318.7h.7v.7h-.7zM123.3 320.7h.7v.7h-.7zM128.0 319.9h.7v.7h-.7zM125.5 321.4h.7v.7h-.7zM122.0 319.1h.7v.7h-.7zM117.8 323.1h.7v.7h-.7zM118.6 323.3h.7v.7h-.7zM131.4 319.1h.7v.7h-.7zM118.1 318.1h.7v.7h-.7zM120.4 323.7h.7v.7h-.7zM119.1 317.9h.7v.7h-.7zM114.7 320.7h.7v.7h-.7zM125.2 324.1h.7v.7h-.7zM124.3 320.4h.7v.7h-.7zM122.8 327.5h.7v.7h-.7zM131.0 322.7h.7v.7h-.7zM121.3 320.1h.7v.7h-.7zM122.6 320.3h.7v.7h-.7zM125.5 318.8h.7v.7h-.7zM132.5 318.1h.7v.7h-.7zM126.3 322.3h.7v.7h-.7zM127.8 323.8h.7v.7h-.7zM124.6 321.0h.7v.7h-.7zM130.4 323.7h.7v.7h-.7zM123.1 322.6h.7v.7h-.7zM117.0 321.5h.7v.7h-.7zM112.6 323.5h.7v.7h-.7zM119.9 322.8h.7v.7h-.7zM125.4 319.1h.7v.7h-.7zM127.4 324.6h.7v.7h-.7zM118.8 325.1h.7v.7h-.7zM125.1 318.4h.7v.7h-.7zM121.8 321.5h.7v.7h-.7zM126.8 318.6h.7v.7h-.7zM121.3 321.8h.7v.7h-.7zM124.5 325.3h.7v.7h-.7z" fill="#000" fill-opacity="0.55"/>
<path d="M134.8 323.4h.7v.7h-.7zM129.3 319.1h.7v.7h-.7zM128.8 321.2h.7v.7h-.7zM134.1 325.4h.7v.7h-.7zM135.3 319.3h.7v.7h-.7zM131.9 326.5h.7v.7h-.7zM132.6 322.6h.7v.7h-.7zM127.8 318.0h.7v.7h-.7zM130.6 320.7h.7v.7h-.7zM133.8 321.0h.7v.7h-.7zM126.7 327.2h.7v.7h-.7zM133.4 317.3h.7v.7h-.7zM137.6 323.3h.7v.7h-.7zM131.6 321.4h.7v.7h-.7zM133.8 315.8h.7v.7h-.7zM135.4 322.0h.7v.7h-.7zM134.3 319.9h.7v.7h-.7zM130.2 325.1h.7v.7h-.7zM121.4 324.3h.7v.7h-.7zM135.9 317.5h.7v.7h-.7zM131.4 319.7h.7v.7h-.7zM130.4 318.3h.7v.7h-.7zM127.9 321.5h.7v.7h-.7zM131.3 322.7h.7v.7h-.7zM134.6 320.0h.7v.7h-.7zM138.9 325.3h.7v.7h-.7zM127.2 321.0h.7v.7h-.7zM131.0 322.4h.7v.7h-.7zM129.0 325.1h.7v.7h-.7zM130.9 326.4h.7v.7h-.7zM129.7 326.0h.7v.7h-.7zM133.5 323.5h.7v.7h-.7zM133.3 322.2h.7v.7h-.7zM129.0 320.9h.7v.7h-.7zM129.8 320.8h.7v.7h-.7zM131.0 323.2h.7v.7h-.7zM133.1 320.6h.7v.7h-.7zM126.6 323.6h.7v.7h-.7zM129.8 320.4h.7v.7h-.7zM133.5 321.2h.7v.7h-.7zM132.4 321.5h.7v.7h-.7zM126.1 323.0h.7v.7h-.7zM131.5 323.1h.7v.7h-.7zM132.4 320.3h.7v.7h-.7zM136.7 321.6h.7v.7h-.7zM135.3 322.7h.7v.7h-.7zM134.7 323.8h.7v.7h-.7zM134.1 319.1h.7v.7h-.7zM131.3 324.5h.7v.7h-.7zM131.7 320.4h.7v.7h-.7zM132.2 323.5h.7v.7h-.7zM129.4 321.1h.7v.7h-.7zM130.7 319.7h.7v.7h-.7zM134.5 319.9h.7v.7h-.7zM132.2 322.2h.7v.7h-.7zM133.6 322.4h.7v.7h-.7zM134.5 319.5h.7v.7h-.7zM124.4 323.3h.7v.7h-.7zM137.3 320.3h.7v.7h-.7zM132.2 323.3h.7v.7h-.7zM129.5 321.1h.7v.7h-.7zM130.7 322.6h.7v.7h-.7zM132.3 325.2h.7v.7h-.7zM129.2 319.6h.7v.7h-.7zM127.7 321.8h.7v.7h-.7zM131.7 320.7h.7v.7h-.7zM134.0 319.0h.7v.7h-.7zM127.6 326.3h.7v.7h-.7zM132.1 319.0h.7v.7h-.7zM135.4 321.6h.7v.7h-.7zM129.1 322.1h.7v.7h-.7zM135.4 323.0h.7v.7h-.7zM131.8 325.3h.7v.7h-.7zM129.4 320.8h.7v.7h-.7zM133.6 318.9h.7v.7h-.7zM134.2 322.2h.7v.7h-.7zM135.2 322.0h.7v.7h-.7zM138.4 318.1h.7v.7h-.7zM130.9 320.1h.7v.7h-.7zM132.1 322.8h.7v.7h-.7zM128.8 323.7h.7v.7h-.7zM135.7 321.6h.7v.7h-.7zM127.8 322.8h.7v.7h-.7zM133.5 319.1h.7v.7h-.7zM130.0 320.0h.7v.7h-.7zM127.6 322.2h.7v.7h-.7zM135.6 322.1h.7v.7h-.7zM130.0 321.2h.7v.7h-.7zM132.0 325.7h.7v.7h-.7zM130.8 322.5h.7v.7h-.7zM131.2 324.0h.7v.7h-.7zM129.6 322.5h.7v.7h-.7zM131.0 322.7h.7v.7h-.7zM127.7 321.1h.7v.7h-.7zM135.6 322.9h.7v.7h-.7zM128.9 327.4h.7v.7h-.7zM133.6 320.7h.7v.7h-.7zM131.0 319.1h.7v.7h-.7zM137.0 324.4h.7v.7h-.7zM136.7 318.9h.7v.7h-.7zM126.2 316.2h.7v.7h-.7zM127.5 320.0h.7v.7h-.7zM128.4 317.3h.7v.7h-.7zM133.7 319.6h.7v.7h-.7zM133.1 324.1h.7v.7h-.7zM129.5 320.0h.7v.7h-.7zM136.0 317.6h.7v.7h-.7zM130.5 318.5h.7v.7h-.7zM131.3 319.7h.7v.7h-.7zM132.6 320.0h.7v.7h-.7zM135.7 319.3h.7v.7h-.7zM131.6 322.7h.7v.7h-.7zM129.1 319.6h.7v.7h-.7zM131.5 320.2h.7v.7h-.7zM134.4 319.4h.7v.7h-.7zM127.1 322.7h.7v.7h-.7zM129.3 319.6h.7v.7h-.7zM131.0 323.8h.7v.7h-.7zM134.4 321.6h.7v.7h-.7zM132.7 320.1h.7v.7h-.7zM137.3 323.6h.7v.7h-.7zM129.2 323.3h.7v.7h-.7zM127.7 319.2h.7v.7h-.7zM129.7 324.9h.7v.7h-.7zM138.2 321.2h.7v.7h-.7zM130.4 324.3h.7v.7h-.7zM130.2 325.0h.7v.7h-.7zM128.9 323.5h.7v.7h-.7zM129.4 325.3h.7v.7h-.7zM132.4 319.6h.7v.7h-.7zM132.3 315.5h.7v.7h-.7zM132.2 322.8h.7v.7h-.7zM139.5 318.6h.7v.7h-.7zM135.8 324.2h.7v.7h-.7zM134.3 320.4h.7v.7h-.7zM132.5 319.2h.7v.7h-.7zM132.9 318.4h.7v.7h-.7zM130.4 321.4h.7v.7h-.7zM129.1 318.2h.7v.7h-.7zM131.8 321.9h.7v.7h-.7zM134.1 322.2h.7v.7h-.7zM137.3 321.1h.7v.7h-.7zM136.2 318.8h.7v.7h-.7zM134.1 323.0h.7v.7h-.7zM137.9 319.7h.7v.7h-.7zM137.9 321.0h.7v.7h-.7zM130.7 317.2h.7v.7h-.7zM134.9 319.9h.7v.7h-.7zM134.7 321.6h.7v.7h-.7zM134.5 321.4h.7v.7h-.7zM129.8 320.2h.7v.7h-.7zM132.0 322.3h.7v.7h-.7zM129.6 323.4h.7v.7h-.7zM125.6 318.1h.7v.7h-.7zM134.2 322.0h.7v.7h-.7zM138.5 323.8h.7v.7h-.7zM128.8 318.6h.7v.7h-.7zM132.1 321.0h.7v.7h-.7zM134.4 320.0h.7v.7h-.7zM129.8 319.4h.7v.7h-.7zM131.9 319.2h.7v.7h-.7zM131.6 323.0h.7v.7h-.7zM131.4 318.6h.7v.7h-.7zM133.7 323.1h.7v.7h-.7zM129.2 320.2h.7v.7h-.7zM126.9 318.7h.7v.7h-.7zM128.3 317.9h.7v.7h-.7zM129.9 325.8h.7v.7h-.7zM135.7 320.1h.7v.7h-.7zM133.3 321.3h.7v.7h-.7zM132.3 316.4h.7v.7h-.7zM131.4 318.4h.7v.7h-.7zM130.5 320.9h.7v.7h-.7zM120.3 314.9h.7v.7h-.7zM133.2 324.4h.7v.7h-.7zM134.7 318.4h.7v.7h-.7zM130.6 322.6h.7v.7h-.7zM131.2 315.7h.7v.7h-.7zM134.3 319.5h.7v.7h-.7zM131.8 316.8h.7v.7h-.7zM128.2 324.0h.7v.7h-.7zM130.4 322.3h.7v.7h-.7zM137.1 321.2h.7v.7h-.7zM132.0 320.5h.7v.7h-.7zM134.6 322.0h.7v.7h-.7zM133.3 325.0h.7v.7h-.7zM133.6 324.2h.7v.7h-.7zM129.2 320.5h.7v.7h-.7zM134.1 319.2h.7v.7h-.7zM127.3 320.9h.7v.7h-.7zM130.3 322.1h.7v.7h-.7zM137.1 320.0h.7v.7h-.7zM128.4 320.4h.7v.7h-.7zM130.0 319.9h.7v.7h-.7zM135.6 322.5h.7v.7h-.7zM133.2 320.6h.7v.7h-.7zM135.1 320.9h.7v.7h-.7zM137.5 321.2h.7v.7h-.7zM131.7 322.8h.7v.7h-.7zM138.8 316.9h.7v.7h-.7zM133.4 318.2h.7v.7h-.7zM126.6 320.1h.7v.7h-.7zM134.7 317.1h.7v.7h-.7zM130.6 325.6h.7v.7h-.7zM136.0 320.3h.7v.7h-.7zM134.1 321.3h.7v.7h-.7zM130.0 319.1h.7v.7h-.7zM136.0 319.5h.7v.7h-.7zM131.4 319.9h.7v.7h-.7zM127.0 320.6h.7v.7h-.7zM138.0 318.6h.7v.7h-.7zM131.7 324.0h.7v.7h-.7zM133.4 321.1h.7v.7h-.7zM133.8 321.9h.7v.7h-.7zM131.7 319.1h.7v.7h-.7zM130.4 316.9h.7v.7h-.7zM132.3 320.6h.7v.7h-.7zM129.8 317.2h.7v.7h-.7zM130.1 316.6h.7v.7h-.7zM133.8 318.2h.7v.7h-.7zM134.7 319.0h.7v.7h-.7zM134.0 322.4h.7v.7h-.7zM134.6 320.3h.7v.7h-.7zM125.6 322.1h.7v.7h-.7zM129.8 317.3h.7v.7h-.7zM128.3 321.7h.7v.7h-.7zM133.9 321.9h.7v.7h-.7zM134.2 323.7h.7v.7h-.7zM130.8 321.0h.7v.7h-.7zM131.0 320.4h.7v.7h-.7zM131.4 321.6h.7v.7h-.7zM130.2 321.4h.7v.7h-.7zM134.8 320.4h.7v.7h-.7zM133.7 318.9h.7v.7h-.7zM129.1 325.3h.7v.7h-.7zM131.4 324.1h.7v.7h-.7zM125.4 315.3h.7v.7h-.7zM131.7 320.5h.7v.7h-.7zM124.4 322.8h.7v.7h-.7zM133.9 319.4h.7v.7h-.7zM133.8 322.6h.7v.7h-.7zM132.1 319.7h.7v.7h-.7zM134.0 320.0h.7v.7h-.7zM130.2 317.8h.7v.7h-.7zM132.2 324.1h.7v.7h-.7zM130.2 319.8h.7v.7h-.7zM127.6 320.5h.7v.7h-.7zM134.5 320.7h.7v.7h-.7zM133.8 323.7h.7v.7h-.7zM129.0 319.6h.7v.7h-.7zM133.8 320.4h.7v.7h-.7zM128.4 321.1h.7v.7h-.7zM133.1 323.7h.7v.7h-.7zM129.0 321.9h.7v.7h-.7zM133.4 314.2h.7v.7h-.7zM134.2 320.9h.7v.7h-.7zM126.6 325.4h.7v.7h-.7zM133.2 321.7h.7v.7h-.7zM139.5 323.6h.7v.7h-.7zM128.6 321.1h.7v.7h-.7zM137.4 324.1h.7v.7h-.7zM136.9 321.0h.7v.7h-.7zM135.5 319.6h.7v.7h-.7zM131.2 322.6h.7v.7h-.7zM131.4 322.5h.7v.7h-.7zM131.3 321.8h.7v.7h-.7zM138.6 322.5h.7v.7h-.7zM135.4 317.6h.7v.7h-.7zM129.9 323.3h.7v.7h-.7zM126.6 320.1h.7v.7h-.7zM130.7 323.9h.7v.7h-.7zM126.2 319.8h.7v.7h-.7zM131.8 321.4h.7v.7h-.7zM126.5 324.0h.7v.7h-.7zM134.0 324.2h.7v.7h-.7zM133.7 322.6h.7v.7h-.7zM130.9 320.4h.7v.7h-.7zM127.9 322.1h.7v.7h-.7zM127.9 323.8h.7v.7h-.7zM133.5 319.6h.7v.7h-.7zM132.4 317.2h.7v.7h-.7zM128.5 319.4h.7v.7h-.7zM127.2 319.6h.7v.7h-.7zM131.1 319.4h.7v.7h-.7zM129.0 318.1h.7v.7h-.7zM125.4 322.4h.7v.7h-.7zM130.4 324.0h.7v.7h-.7zM128.0 319.8h.7v.7h-.7zM133.9 324.5h.7v.7h-.7zM134.9 323.2h.7v.7h-.7zM127.3 322.3h.7v.7h-.7zM137.8 315.8h.7v.7h-.7zM132.9 326.4h.7v.7h-.7zM128.3 321.7h.7v.7h-.7zM138.1 322.4h.7v.7h-.7zM132.3 323.1h.7v.7h-.7zM131.2 322.8h.7v.7h-.7zM131.4 323.1h.7v.7h-.7zM129.0 320.7h.7v.7h-.7zM132.3 315.6h.7v.7h-.7zM134.8 320.2h.7v.7h-.7zM129.9 317.6h.7v.7h-.7zM131.5 318.8h.7v.7h-.7zM133.9 325.0h.7v.7h-.7zM130.3 319.3h.7v.7h-.7zM131.4 320.4h.7v.7h-.7zM133.4 316.2h.7v.7h-.7zM133.5 321.0h.7v.7h-.7zM130.0 317.3h.7v.7h-.7zM134.8 323.8h.7v.7h-.7zM132.8 322.8h.7v.7h-.7zM134.6 321.5h.7v.7h-.7zM134.5 318.6h.7v.7h-.7zM134.5 315.1h.7v.7h-.7zM135.6 325.0h.7v.7h-.7zM135.7 319.1h.7v.7h-.7zM131.0 322.5h.7v.7h-.7zM129.1 322.1h.7v.7h-.7zM131.7 324.8h.7v.7h-.7zM130.4 319.8h.7v.7h-.7zM133.8 323.7h.7v.7h-.7zM130.8 317.8h.7v.7h-.7zM127.7 317.2h.7v.7h-.7zM132.2 318.6h.7v.7h-.7zM131.9 317.7h.7v.7h-.7zM131.0 322.4h.7v.7h-.7zM128.3 323.9h.7v.7h-.7zM132.0 319.2h.7v.7h-.7zM130.8 321.0h.7v.7h-.7zM129.1 319.7h.7v.7h-.7zM132.7 316.5h.7v.7h-.7zM139.8 323.2h.7v.7h-.7zM135.9 326.7h.7v.7h-.7zM134.3 321.0h.7v.7h-.7zM131.5 322.5h.7v.7h-.7zM136.5 319.0h.7v.7h-.7zM137.7 320.3h.7v.7h-.7zM128.5 324.4h.7v.7h-.7zM130.2 322.9h.7v.7h-.7zM127.6 322.9h.7v.7h-.7zM130.3 324.0h.7v.7h-.7zM126.8 319.4h.7v.7h-.7zM128.7 321.7h.7v.7h-.7zM128.7 320.3h.7v.7h-.7zM131.8 320.1h.7v.7h-.7zM132.4 321.8h.7v.7h-.7zM126.7 323.6h.7v.7h-.7zM128.3 319.2h.7v.7h-.7zM137.5 319.4h.7v.7h-.7zM131.4 322.8h.7v.7h-.7z" fill="#000" fill-opacity="0.65"/>
<path d="M112.3 326.2h.7v.7h-.7zM116.3 326.0h.7v.7h-.7zM106.4 328.5h.7v.7h-.7zM119.8 327.6h.7v.7h-.7zM119.9 325.2h.7v.7h-.7zM132.3 324.9h.7v.7h-.7zM130.4 324.9h.7v.7h-.7zM111.5 326.6h.7v.7h-.7zM145.4 328.3h.7v.7h-.7zM120.9 327.3h.7v.7h-.7zM132.4 325.5h.7v.7h-.7zM98.5 324.3h.7v.7h-.7zM119.0 325.0h.7v.7h-.7zM116.7 329.4h.7v.7h-.7zM116.7 325.2h.7v.7h-.7zM120.0 328.9h.7v.7h-.7zM138.5 327.8h.7v.7h-.7zM116.5 325.5h.7v.7h-.7zM107.1 325.2h.7v.7h-.7zM129.9 327.6h.7v.7h-.7zM123.2 324.4h.7v.7h-.7zM118.8 325.1h.7v.7h-.7zM136.3 326.5h.7v.7h-.7zM118.5 326.4h.7v.7h-.7zM119.6 326.6h.7v.7h-.7zM113.6 327.0h.7v.7h-.7zM120.3 328.2h.7v.7h-.7zM125.5 327.8h.7v.7h-.7zM114.1 326.5h.7v.7h-.7zM95.1 324.7h.7v.7h-.7zM115.1 321.6h.7v.7h-.7zM132.5 328.4h.7v.7h-.7zM121.5 331.2h.7v.7h-.7zM102.4 326.6h.7v.7h-.7zM121.0 325.4h.7v.7h-.7zM136.2 328.7h.7v.7h-.7zM124.9 324.6h.7v.7h-.7zM122.4 326.6h.7v.7h-.7zM125.3 323.6h.7v.7h-.7zM108.4 328.6h.7v.7h-.7zM120.5 326.3h.7v.7h-.7zM119.2 321.0h.7v.7h-.7zM135.5 323.5h.7v.7h-.7zM106.0 327.5h.7v.7h-.7zM134.7 328.8h.7v.7h-.7zM114.0 324.8h.7v.7h-.7zM126.6 326.9h.7v.7h-.7zM99.8 329.1h.7v.7h-.7zM98.3 327.2h.7v.7h-.7zM123.2 327.9h.7v.7h-.7zM120.8 328.1h.7v.7h-.7zM123.0 324.7h.7v.7h-.7zM112.9 329.2h.7v.7h-.7zM98.7 327.9h.7v.7h-.7zM113.1 322.9h.7v.7h-.7zM110.1 327.4h.7v.7h-.7zM133.4 325.6h.7v.7h-.7zM115.7 326.5h.7v.7h-.7zM129.5 324.4h.7v.7h-.7zM114.3 327.1h.7v.7h-.7zM103.0 327.1h.7v.7h-.7zM119.0 328.1h.7v.7h-.7zM107.2 326.3h.7v.7h-.7zM124.0 326.5h.7v.7h-.7zM107.8 328.7h.7v.7h-.7zM118.6 326.7h.7v.7h-.7zM120.3 327.8h.7v.7h-.7zM120.7 325.1h.7v.7h-.7zM129.0 326.3h.7v.7h-.7zM120.9 326.9h.7v.7h-.7zM106.8 326.6h.7v.7h-.7zM123.2 323.6h.7v.7h-.7zM116.5 326.3h.7v.7h-.7zM127.4 325.8h.7v.7h-.7zM120.7 327.7h.7v.7h-.7zM106.3 325.0h.7v.7h-.7zM116.6 327.9h.7v.7h-.7zM134.7 326.7h.7v.7h-.7zM118.7 325.5h.7v.7h-.7zM121.0 329.8h.7v.7h-.7zM118.5 325.4h.7v.7h-.7zM137.4 326.3h.7v.7h-.7zM117.9 324.8h.7v.7h-.7zM131.6 326.0h.7v.7h-.7zM99.6 322.2h.7v.7h-.7zM123.5 325.4h.7v.7h-.7zM125.2 327.5h.7v.7h-.7zM136.7 329.3h.7v.7h-.7zM107.9 325.9h.7v.7h-.7zM111.2 328.2h.7v.7h-.7zM103.7 327.7h.7v.7h-.7zM100.9 328.5h.7v.7h-.7zM132.6 323.2h.7v.7h-.7zM120.0 325.3h.7v.7h-.7zM101.4 328.3h.7v.7h-.7zM111.1 328.5h.7v.7h-.7zM124.9 330.1h.7v.7h-.7zM114.8 328.1h.7v.7h-.7zM122.0 325.7h.7v.7h-.7zM131.6 326.6h.7v.7h-.7zM114.9 326.8h.7v.7h-.7zM105.3 328.6h.7v.7h-.7zM138.5 323.5h.7v.7h-.7zM121.2 325.7h.7v.7h-.7zM112.0 328.1h.7v.7h-.7zM138.9 327.1h.7v.7h-.7zM116.6 329.9h.7v.7h-.7zM116.1 325.1h.7v.7h-.7zM113.4 328.3h.7v.7h-.7zM120.6 326.8h.7v.7h-.7zM113.0 327.2h.7v.7h-.7zM119.4 330.0h.7v.7h-.7zM119.5 324.4h.7v.7h-.7zM138.5 327.0h.7v.7h-.7zM119.6 327.4h.7v.7h-.7zM120.4 322.2h.7v.7h-.7zM119.5 329.0h.7v.7h-.7zM130.1 324.9h.7v.7h-.7zM116.3 327.4h.7v.7h-.7zM142.8 327.2h.7v.7h-.7zM122.6 325.3h.7v.7h-.7zM115.6 325.5h.7v.7h-.7zM119.8 324.6h.7v.7h-.7zM115.5 324.2h.7v.7h-.7zM132.4 327.8h.7v.7h-.7zM118.1 326.0h.7v.7h-.7zM128.5 326.9h.7v.7h-.7zM114.7 321.1h.7v.7h-.7zM99.4 327.8h.7v.7h-.7zM117.8 325.0h.7v.7h-.7zM100.0 327.8h.7v.7h-.7zM107.0 326.8h.7v.7h-.7zM118.9 325.4h.7v.7h-.7zM107.1 327.1h.7v.7h-.7zM104.6 325.2h.7v.7h-.7zM118.4 328.7h.7v.7h-.7zM115.0 326.7h.7v.7h-.7zM126.4 321.6h.7v.7h-.7zM109.5 325.7h.7v.7h-.7z" fill="#000" fill-opacity="0.28"/>
<ellipse cx="127" cy="320.8" rx="8" ry="2.8" fill="#000" fill-opacity="0.55" filter="url(#blur2)"/>
<ellipse cx="106" cy="320.5" rx="6" ry="2.4" fill="#000" fill-opacity="0.3" filter="url(#blur2)"/>
</g>
<line x1="128.4" y1="307.2" x2="128.4" y2="365.5" stroke="#8888e0" stroke-width="0.75"/>
<line x1="93.8" y1="334.3" x2="152.1" y2="334.3" stroke="#8888e0" stroke-width="0.75"/>
<text x="95.4" y="310.99" font-size="3.6" font-weight="bold" textLength="7.3" lengthAdjust="spacingAndGlyphs" stroke="#222" stroke-width="0.1">14.1</text>
<text x="143.5" y="310.99" font-size="3.6" font-weight="bold" textLength="7.2" lengthAdjust="spacingAndGlyphs" stroke="#222" stroke-width="0.1">25.9</text>
<rect x="162.2" y="307.2" width="58.3" height="58.3" fill="#fff" stroke="#555" stroke-width="0.7"/>
<line x1="161" y1="311.7" x2="162.2" y2="311.7" stroke="#555" stroke-width="0.6"/>
<text x="160.7" y="312.8" font-size="3.2" text-anchor="end">10<tspan dy="-1.2" font-size="2.3">5</tspan></text>
<line x1="161" y1="325.2" x2="162.2" y2="325.2" stroke="#555" stroke-width="0.6"/>
<text x="160.7" y="326.3" font-size="3.2" text-anchor="end">10<tspan dy="-1.2" font-size="2.3">4</tspan></text>
<line x1="161" y1="338.4" x2="162.2" y2="338.4" stroke="#555" stroke-width="0.6"/>
<text x="160.7" y="339.5" font-size="3.2" text-anchor="end">10<tspan dy="-1.2" font-size="2.3">3</tspan></text>
<line x1="161" y1="352.3" x2="162.2" y2="352.3" stroke="#555" stroke-width="0.6"/>
<text x="160.7" y="353.4" font-size="3.2" text-anchor="end">10<tspan dy="-1.2" font-size="2.3">2</tspan></text>
<line x1="161" y1="359.2" x2="162.2" y2="359.2" stroke="#555" stroke-width="0.6"/>
<text x="159" y="360.35" font-size="3.2" textLength="1.4" lengthAdjust="spacingAndGlyphs">0</text>
<line x1="168.3" y1="365.5" x2="168.3" y2="366.7" stroke="#555" stroke-width="0.6"/>
<text x="167.5" y="369.85" font-size="3.2" textLength="1.6" lengthAdjust="spacingAndGlyphs">0</text>
<line x1="174" y1="365.5" x2="174" y2="366.7" stroke="#555" stroke-width="0.6"/>
<text x="174" y="369.8" font-size="3.2" text-anchor="middle">10<tspan dy="-1.2" font-size="2.3">2</tspan></text>
<line x1="188.1" y1="365.5" x2="188.1" y2="366.7" stroke="#555" stroke-width="0.6"/>
<text x="188.1" y="369.8" font-size="3.2" text-anchor="middle">10<tspan dy="-1.2" font-size="2.3">3</tspan></text>
<line x1="201.9" y1="365.5" x2="201.9" y2="366.7" stroke="#555" stroke-width="0.6"/>
<text x="201.9" y="369.8" font-size="3.2" text-anchor="middle">10<tspan dy="-1.2" font-size="2.3">4</tspan></text>
<line x1="215.2" y1="365.5" x2="215.2" y2="366.7" stroke="#555" stroke-width="0.6"/>
<text x="215.2" y="369.8" font-size="3.2" text-anchor="middle">10<tspan dy="-1.2" font-size="2.3">5</tspan></text>
<g>
<path d="M170.2 322.2h.7v.7h-.7zM167.9 321.9h.7v.7h-.7zM174.2 322.0h.7v.7h-.7zM177.0 318.8h.7v.7h-.7zM170.3 319.2h.7v.7h-.7zM166.5 320.5h.7v.7h-.7zM171.0 322.0h.7v.7h-.7zM172.3 326.6h.7v.7h-.7zM173.9 317.0h.7v.7h-.7zM170.9 319.4h.7v.7h-.7zM167.7 324.3h.7v.7h-.7zM169.0 316.1h.7v.7h-.7zM171.4 320.3h.7v.7h-.7zM164.7 318.7h.7v.7h-.7zM167.2 320.9h.7v.7h-.7zM168.1 321.2h.7v.7h-.7zM178.3 319.0h.7v.7h-.7zM166.4 320.4h.7v.7h-.7zM174.9 319.2h.7v.7h-.7zM176.5 317.7h.7v.7h-.7zM165.4 320.9h.7v.7h-.7zM166.1 319.5h.7v.7h-.7zM172.0 322.8h.7v.7h-.7zM170.5 320.3h.7v.7h-.7zM176.0 322.0h.7v.7h-.7zM168.9 324.0h.7v.7h-.7zM165.9 321.4h.7v.7h-.7zM173.0 321.0h.7v.7h-.7zM167.4 321.9h.7v.7h-.7zM167.6 319.5h.7v.7h-.7zM165.4 324.3h.7v.7h-.7zM167.5 323.9h.7v.7h-.7zM171.7 320.3h.7v.7h-.7zM173.0 321.7h.7v.7h-.7zM170.6 317.6h.7v.7h-.7zM170.3 323.2h.7v.7h-.7zM172.2 323.5h.7v.7h-.7zM176.7 322.0h.7v.7h-.7zM178.9 317.2h.7v.7h-.7zM168.9 314.7h.7v.7h-.7zM173.7 321.2h.7v.7h-.7zM177.6 320.1h.7v.7h-.7zM164.0 317.8h.7v.7h-.7zM169.2 322.6h.7v.7h-.7zM167.7 321.5h.7v.7h-.7zM169.7 321.3h.7v.7h-.7zM172.6 321.4h.7v.7h-.7zM170.9 318.7h.7v.7h-.7zM169.5 322.1h.7v.7h-.7zM174.7 320.7h.7v.7h-.7zM170.4 321.8h.7v.7h-.7zM172.6 321.5h.7v.7h-.7zM168.9 319.7h.7v.7h-.7zM175.1 321.7h.7v.7h-.7zM170.1 329.7h.7v.7h-.7zM174.0 323.1h.7v.7h-.7zM170.7 318.5h.7v.7h-.7zM175.1 320.8h.7v.7h-.7zM170.2 323.6h.7v.7h-.7zM174.6 321.6h.7v.7h-.7zM170.1 326.2h.7v.7h-.7zM172.6 318.4h.7v.7h-.7zM173.4 321.4h.7v.7h-.7zM170.1 322.7h.7v.7h-.7zM171.1 326.0h.7v.7h-.7zM170.9 321.6h.7v.7h-.7zM175.2 319.6h.7v.7h-.7zM174.6 320.8h.7v.7h-.7zM175.3 318.9h.7v.7h-.7zM171.9 317.0h.7v.7h-.7zM168.0 321.0h.7v.7h-.7zM172.2 325.9h.7v.7h-.7zM178.3 317.7h.7v.7h-.7zM166.6 324.1h.7v.7h-.7zM172.0 317.6h.7v.7h-.7zM172.2 318.2h.7v.7h-.7zM166.1 317.9h.7v.7h-.7zM168.8 326.6h.7v.7h-.7zM171.7 320.7h.7v.7h-.7zM181.3 319.8h.7v.7h-.7zM169.3 320.3h.7v.7h-.7zM171.9 320.2h.7v.7h-.7zM176.5 320.3h.7v.7h-.7zM172.5 321.6h.7v.7h-.7zM166.1 318.6h.7v.7h-.7zM169.8 315.3h.7v.7h-.7zM170.1 321.2h.7v.7h-.7zM170.6 320.8h.7v.7h-.7zM171.6 320.1h.7v.7h-.7zM172.9 316.9h.7v.7h-.7zM174.1 318.8h.7v.7h-.7zM172.2 319.8h.7v.7h-.7zM168.1 319.0h.7v.7h-.7zM176.0 318.3h.7v.7h-.7zM164.6 321.5h.7v.7h-.7zM171.2 321.1h.7v.7h-.7zM165.7 319.4h.7v.7h-.7zM174.1 318.4h.7v.7h-.7zM172.7 322.8h.7v.7h-.7zM170.6 318.0h.7v.7h-.7zM178.6 321.3h.7v.7h-.7zM170.9 320.1h.7v.7h-.7zM165.8 320.3h.7v.7h-.7zM170.9 318.9h.7v.7h-.7zM170.5 323.9h.7v.7h-.7zM172.0 320.8h.7v.7h-.7zM174.7 323.3h.7v.7h-.7zM174.1 319.0h.7v.7h-.7zM170.3 320.1h.7v.7h-.7zM172.2 319.9h.7v.7h-.7zM167.2 325.5h.7v.7h-.7zM174.5 325.4h.7v.7h-.7zM171.1 322.3h.7v.7h-.7zM165.9 321.1h.7v.7h-.7zM169.9 320.7h.7v.7h-.7zM167.9 323.9h.7v.7h-.7zM168.2 321.1h.7v.7h-.7zM170.2 325.8h.7v.7h-.7zM165.2 324.3h.7v.7h-.7zM176.3 320.7h.7v.7h-.7zM167.3 317.9h.7v.7h-.7zM166.2 326.1h.7v.7h-.7zM166.9 325.7h.7v.7h-.7zM171.4 317.6h.7v.7h-.7zM167.7 321.5h.7v.7h-.7zM170.6 318.6h.7v.7h-.7zM168.7 319.9h.7v.7h-.7zM172.2 321.7h.7v.7h-.7zM171.0 319.5h.7v.7h-.7zM173.5 319.6h.7v.7h-.7zM166.3 319.9h.7v.7h-.7zM168.6 320.2h.7v.7h-.7zM172.8 324.3h.7v.7h-.7zM168.2 322.9h.7v.7h-.7zM170.9 321.1h.7v.7h-.7zM178.0 319.5h.7v.7h-.7zM172.6 316.7h.7v.7h-.7zM172.5 320.6h.7v.7h-.7zM165.5 319.5h.7v.7h-.7zM170.8 314.4h.7v.7h-.7zM174.9 323.4h.7v.7h-.7zM166.6 317.3h.7v.7h-.7zM163.7 317.8h.7v.7h-.7zM166.6 326.4h.7v.7h-.7zM164.9 322.9h.7v.7h-.7zM175.6 318.6h.7v.7h-.7zM168.8 322.7h.7v.7h-.7zM167.1 324.1h.7v.7h-.7zM179.6 320.9h.7v.7h-.7zM166.3 322.5h.7v.7h-.7zM171.5 319.1h.7v.7h-.7zM169.4 321.2h.7v.7h-.7zM172.3 323.9h.7v.7h-.7zM167.8 317.8h.7v.7h-.7zM168.1 320.0h.7v.7h-.7zM181.1 323.8h.7v.7h-.7zM180.1 320.6h.7v.7h-.7zM166.9 319.7h.7v.7h-.7zM172.9 322.0h.7v.7h-.7zM171.8 326.7h.7v.7h-.7zM176.1 318.3h.7v.7h-.7zM172.0 322.5h.7v.7h-.7zM166.7 326.8h.7v.7h-.7zM174.1 324.8h.7v.7h-.7zM167.6 318.1h.7v.7h-.7zM173.4 320.5h.7v.7h-.7zM167.4 320.8h.7v.7h-.7zM170.9 321.4h.7v.7h-.7zM169.1 322.2h.7v.7h-.7zM183.1 323.9h.7v.7h-.7zM167.7 326.1h.7v.7h-.7zM167.8 317.1h.7v.7h-.7zM163.8 315.9h.7v.7h-.7zM175.2 318.2h.7v.7h-.7zM163.6 319.6h.7v.7h-.7zM169.1 317.9h.7v.7h-.7zM167.4 321.0h.7v.7h-.7zM172.9 318.6h.7v.7h-.7zM172.5 321.6h.7v.7h-.7zM172.4 319.6h.7v.7h-.7zM164.7 323.4h.7v.7h-.7zM172.6 319.3h.7v.7h-.7zM166.4 322.7h.7v.7h-.7zM179.1 321.9h.7v.7h-.7zM181.3 321.8h.7v.7h-.7zM171.5 322.2h.7v.7h-.7zM174.9 317.2h.7v.7h-.7zM170.6 324.2h.7v.7h-.7zM173.3 325.3h.7v.7h-.7zM177.0 320.9h.7v.7h-.7zM179.3 318.2h.7v.7h-.7zM163.7 324.3h.7v.7h-.7zM173.0 318.1h.7v.7h-.7zM174.9 323.2h.7v.7h-.7zM173.3 319.9h.7v.7h-.7zM164.2 316.7h.7v.7h-.7zM169.0 320.6h.7v.7h-.7zM167.7 319.6h.7v.7h-.7zM174.2 318.1h.7v.7h-.7zM166.6 326.0h.7v.7h-.7zM167.1 319.4h.7v.7h-.7zM174.8 316.4h.7v.7h-.7zM177.3 317.8h.7v.7h-.7zM166.2 317.8h.7v.7h-.7zM165.6 319.1h.7v.7h-.7zM174.2 320.8h.7v.7h-.7zM176.2 322.9h.7v.7h-.7zM164.3 321.0h.7v.7h-.7zM167.2 319.9h.7v.7h-.7zM170.5 321.9h.7v.7h-.7zM171.9 315.6h.7v.7h-.7zM169.3 319.8h.7v.7h-.7zM178.3 320.4h.7v.7h-.7zM169.8 321.0h.7v.7h-.7zM173.5 318.1h.7v.7h-.7zM169.4 320.7h.7v.7h-.7zM169.9 320.3h.7v.7h-.7zM167.5 321.2h.7v.7h-.7zM164.0 325.1h.7v.7h-.7zM169.9 316.4h.7v.7h-.7zM168.7 323.4h.7v.7h-.7zM169.1 320.6h.7v.7h-.7zM170.2 316.0h.7v.7h-.7zM167.9 324.7h.7v.7h-.7zM171.7 317.2h.7v.7h-.7zM167.4 321.6h.7v.7h-.7zM179.3 321.6h.7v.7h-.7zM173.3 320.2h.7v.7h-.7zM170.2 318.4h.7v.7h-.7zM164.0 317.6h.7v.7h-.7zM167.3 324.1h.7v.7h-.7zM169.8 324.0h.7v.7h-.7zM173.5 321.4h.7v.7h-.7zM167.7 326.4h.7v.7h-.7zM175.1 324.1h.7v.7h-.7zM181.3 324.8h.7v.7h-.7zM171.0 321.9h.7v.7h-.7zM172.5 326.6h.7v.7h-.7zM165.4 316.4h.7v.7h-.7zM167.8 321.0h.7v.7h-.7zM167.3 323.3h.7v.7h-.7zM172.7 320.9h.7v.7h-.7zM170.3 325.8h.7v.7h-.7zM179.0 325.4h.7v.7h-.7zM168.3 324.1h.7v.7h-.7zM164.8 316.4h.7v.7h-.7zM177.7 323.2h.7v.7h-.7zM173.1 324.6h.7v.7h-.7zM177.6 321.7h.7v.7h-.7zM171.3 322.5h.7v.7h-.7zM173.9 321.5h.7v.7h-.7zM163.9 327.3h.7v.7h-.7zM166.6 319.5h.7v.7h-.7zM172.8 320.9h.7v.7h-.7zM172.5 327.1h.7v.7h-.7zM176.5 319.9h.7v.7h-.7zM171.5 320.9h.7v.7h-.7zM175.8 318.8h.7v.7h-.7zM165.7 316.8h.7v.7h-.7zM172.4 322.0h.7v.7h-.7zM173.3 323.2h.7v.7h-.7zM164.6 320.1h.7v.7h-.7zM165.2 324.1h.7v.7h-.7zM174.0 317.4h.7v.7h-.7zM172.5 321.3h.7v.7h-.7zM170.6 322.8h.7v.7h-.7zM167.4 320.3h.7v.7h-.7zM167.1 319.4h.7v.7h-.7z" fill="#000" fill-opacity="0.38"/>
<path d="M175.9 324.1h.7v.7h-.7zM184.1 320.4h.7v.7h-.7zM172.8 327.0h.7v.7h-.7zM181.3 321.6h.7v.7h-.7zM184.4 325.5h.7v.7h-.7zM179.6 314.9h.7v.7h-.7zM179.5 321.0h.7v.7h-.7zM178.2 324.9h.7v.7h-.7zM178.9 321.9h.7v.7h-.7zM177.0 323.0h.7v.7h-.7zM177.6 323.2h.7v.7h-.7zM181.8 321.5h.7v.7h-.7zM182.7 316.9h.7v.7h-.7zM178.8 321.6h.7v.7h-.7zM179.2 324.2h.7v.7h-.7zM185.5 319.2h.7v.7h-.7zM187.0 320.5h.7v.7h-.7zM183.9 324.3h.7v.7h-.7zM175.5 318.9h.7v.7h-.7zM180.8 320.4h.7v.7h-.7zM172.7 322.8h.7v.7h-.7zM182.0 321.6h.7v.7h-.7zM182.7 322.9h.7v.7h-.7zM177.0 321.9h.7v.7h-.7zM179.0 319.8h.7v.7h-.7zM176.8 324.2h.7v.7h-.7zM168.9 319.2h.7v.7h-.7zM184.6 320.2h.7v.7h-.7zM177.8 323.8h.7v.7h-.7zM176.4 320.3h.7v.7h-.7zM183.2 319.7h.7v.7h-.7zM178.5 321.2h.7v.7h-.7zM186.0 318.7h.7v.7h-.7zM183.8 320.9h.7v.7h-.7zM179.4 317.6h.7v.7h-.7zM189.8 322.5h.7v.7h-.7zM182.4 320.2h.7v.7h-.7zM189.2 319.4h.7v.7h-.7zM176.0 319.0h.7v.7h-.7zM180.9 321.9h.7v.7h-.7zM171.1 321.8h.7v.7h-.7zM182.4 323.8h.7v.7h-.7zM179.4 324.9h.7v.7h-.7zM191.1 319.6h.7v.7h-.7zM179.8 323.6h.7v.7h-.7zM187.1 321.1h.7v.7h-.7zM186.8 317.0h.7v.7h-.7zM185.8 322.2h.7v.7h-.7zM185.6 322.3h.7v.7h-.7zM184.5 319.9h.7v.7h-.7zM188.1 315.7h.7v.7h-.7zM182.4 319.4h.7v.7h-.7zM190.9 318.1h.7v.7h-.7zM181.7 321.0h.7v.7h-.7zM185.1 321.0h.7v.7h-.7zM175.8 320.7h.7v.7h-.7zM187.0 323.0h.7v.7h-.7zM177.5 317.8h.7v.7h-.7zM174.7 320.8h.7v.7h-.7zM180.3 320.1h.7v.7h-.7zM178.5 321.5h.7v.7h-.7zM187.7 323.7h.7v.7h-.7zM179.0 323.1h.7v.7h-.7zM179.9 324.4h.7v.7h-.7zM186.3 323.5h.7v.7h-.7zM192.3 323.8h.7v.7h-.7zM185.7 324.7h.7v.7h-.7zM176.0 320.2h.7v.7h-.7zM179.4 323.3h.7v.7h-.7zM181.3 317.8h.7v.7h-.7zM177.3 320.6h.7v.7h-.7zM178.8 319.9h.7v.7h-.7zM173.8 321.4h.7v.7h-.7zM174.7 320.1h.7v.7h-.7zM178.0 320.3h.7v.7h-.7zM188.3 320.0h.7v.7h-.7zM179.1 314.6h.7v.7h-.7zM176.7 321.7h.7v.7h-.7zM179.5 323.1h.7v.7h-.7zM179.6 323.2h.7v.7h-.7zM182.5 323.9h.7v.7h-.7zM179.7 323.4h.7v.7h-.7zM178.8 319.1h.7v.7h-.7zM186.8 317.5h.7v.7h-.7zM176.5 325.3h.7v.7h-.7zM182.0 322.0h.7v.7h-.7zM182.3 321.0h.7v.7h-.7zM191.0 321.2h.7v.7h-.7zM188.3 321.1h.7v.7h-.7zM177.7 320.4h.7v.7h-.7zM181.4 327.8h.7v.7h-.7zM178.1 322.2h.7v.7h-.7zM173.4 322.5h.7v.7h-.7zM180.5 322.1h.7v.7h-.7zM181.6 319.9h.7v.7h-.7zM181.5 321.1h.7v.7h-.7zM186.3 320.9h.7v.7h-.7zM180.5 317.7h.7v.7h-.7zM185.5 320.6h.7v.7h-.7zM176.6 324.2h.7v.7h-.7zM185.8 321.0h.7v.7h-.7zM181.4 317.6h.7v.7h-.7zM169.3 321.4h.7v.7h-.7zM173.6 322.7h.7v.7h-.7zM179.3 321.7h.7v.7h-.7zM178.4 322.2h.7v.7h-.7zM185.0 321.4h.7v.7h-.7zM184.9 323.0h.7v.7h-.7zM180.4 316.6h.7v.7h-.7zM184.3 319.5h.7v.7h-.7zM175.9 316.2h.7v.7h-.7zM172.2 324.5h.7v.7h-.7zM190.0 324.5h.7v.7h-.7zM191.3 316.1h.7v.7h-.7zM184.8 317.4h.7v.7h-.7zM173.7 322.6h.7v.7h-.7zM185.7 318.6h.7v.7h-.7zM172.8 316.9h.7v.7h-.7zM180.0 323.3h.7v.7h-.7zM191.0 322.2h.7v.7h-.7zM175.9 318.2h.7v.7h-.7zM181.2 322.7h.7v.7h-.7zM170.9 321.7h.7v.7h-.7zM177.8 323.2h.7v.7h-.7zM172.6 323.5h.7v.7h-.7zM188.1 324.7h.7v.7h-.7zM188.7 321.3h.7v.7h-.7zM181.5 318.1h.7v.7h-.7zM180.8 318.9h.7v.7h-.7zM184.0 322.9h.7v.7h-.7zM180.2 325.1h.7v.7h-.7zM174.2 319.5h.7v.7h-.7zM189.5 320.3h.7v.7h-.7zM184.4 314.3h.7v.7h-.7zM188.4 319.1h.7v.7h-.7zM177.6 323.5h.7v.7h-.7zM181.3 316.4h.7v.7h-.7zM187.7 318.5h.7v.7h-.7zM179.1 319.3h.7v.7h-.7zM178.7 319.8h.7v.7h-.7zM179.1 319.7h.7v.7h-.7zM193.4 321.7h.7v.7h-.7zM183.9 319.4h.7v.7h-.7zM189.9 322.3h.7v.7h-.7zM181.4 319.5h.7v.7h-.7zM184.9 316.5h.7v.7h-.7zM177.4 320.1h.7v.7h-.7zM182.7 321.3h.7v.7h-.7zM173.5 322.5h.7v.7h-.7zM178.7 319.6h.7v.7h-.7zM181.5 320.1h.7v.7h-.7zM178.7 319.9h.7v.7h-.7zM184.3 321.1h.7v.7h-.7zM182.0 319.2h.7v.7h-.7zM186.7 321.3h.7v.7h-.7zM177.2 323.8h.7v.7h-.7zM174.1 319.1h.7v.7h-.7zM184.9 319.8h.7v.7h-.7zM179.3 320.0h.7v.7h-.7zM181.0 322.2h.7v.7h-.7zM183.9 319.2h.7v.7h-.7zM178.5 315.8h.7v.7h-.7zM178.5 322.2h.7v.7h-.7zM181.1 324.0h.7v.7h-.7zM179.6 321.6h.7v.7h-.7zM185.2 318.0h.7v.7h-.7zM187.7 317.4h.7v.7h-.7zM179.6 316.2h.7v.7h-.7zM179.5 318.4h.7v.7h-.7zM185.7 315.7h.7v.7h-.7zM183.2 321.9h.7v.7h-.7zM183.7 323.5h.7v.7h-.7zM185.0 318.6h.7v.7h-.7zM183.9 319.0h.7v.7h-.7zM177.5 320.2h.7v.7h-.7zM178.5 319.4h.7v.7h-.7zM186.0 321.1h.7v.7h-.7zM171.5 318.9h.7v.7h-.7zM178.4 326.8h.7v.7h-.7zM182.1 319.6h.7v.7h-.7zM183.1 315.0h.7v.7h-.7zM188.5 320.1h.7v.7h-.7zM176.2 323.1h.7v.7h-.7zM177.0 318.1h.7v.7h-.7zM184.9 326.0h.7v.7h-.7zM179.1 320.7h.7v.7h-.7zM180.3 322.0h.7v.7h-.7zM178.8 321.3h.7v.7h-.7zM177.0 320.6h.7v.7h-.7zM185.0 317.1h.7v.7h-.7zM184.5 325.4h.7v.7h-.7zM177.6 320.0h.7v.7h-.7zM181.5 320.8h.7v.7h-.7zM175.6 323.1h.7v.7h-.7zM184.0 323.6h.7v.7h-.7zM184.4 319.4h.7v.7h-.7zM180.2 319.4h.7v.7h-.7zM193.7 320.0h.7v.7h-.7zM185.3 324.8h.7v.7h-.7zM180.4 321.6h.7v.7h-.7zM183.0 325.1h.7v.7h-.7zM175.0 321.7h.7v.7h-.7zM183.1 322.1h.7v.7h-.7zM177.0 323.3h.7v.7h-.7zM183.3 318.4h.7v.7h-.7zM175.8 326.1h.7v.7h-.7zM177.9 316.9h.7v.7h-.7zM183.0 318.2h.7v.7h-.7zM180.8 322.3h.7v.7h-.7zM176.4 317.4h.7v.7h-.7zM190.2 317.6h.7v.7h-.7zM175.2 320.9h.7v.7h-.7zM183.1 320.8h.7v.7h-.7zM176.6 323.3h.7v.7h-.7zM175.5 318.9h.7v.7h-.7zM184.2 323.6h.7v.7h-.7zM183.2 323.3h.7v.7h-.7zM182.9 323.1h.7v.7h-.7zM177.5 319.1h.7v.7h-.7zM183.8 323.5h.7v.7h-.7zM179.0 319.1h.7v.7h-.7zM180.3 323.8h.7v.7h-.7zM180.5 320.3h.7v.7h-.7zM180.2 320.2h.7v.7h-.7zM183.5 319.9h.7v.7h-.7zM181.6 320.4h.7v.7h-.7zM177.2 321.1h.7v.7h-.7zM182.4 316.6h.7v.7h-.7zM182.1 321.6h.7v.7h-.7zM180.4 318.3h.7v.7h-.7zM177.8 322.7h.7v.7h-.7zM176.6 323.5h.7v.7h-.7zM179.0 321.9h.7v.7h-.7zM166.3 322.4h.7v.7h-.7zM181.8 316.9h.7v.7h-.7zM185.9 319.8h.7v.7h-.7zM175.2 324.5h.7v.7h-.7zM187.8 323.7h.7v.7h-.7zM185.2 323.9h.7v.7h-.7zM172.4 320.6h.7v.7h-.7zM187.9 322.5h.7v.7h-.7zM181.7 320.4h.7v.7h-.7zM179.4 319.1h.7v.7h-.7zM180.5 313.8h.7v.7h-.7zM186.1 321.0h.7v.7h-.7zM166.9 321.0h.7v.7h-.7zM182.1 320.7h.7v.7h-.7zM184.3 323.0h.7v.7h-.7zM183.9 316.7h.7v.7h-.7zM170.4 319.0h.7v.7h-.7zM185.4 316.2h.7v.7h-.7zM178.4 319.5h.7v.7h-.7zM180.2 316.9h.7v.7h-.7zM183.8 320.3h.7v.7h-.7zM185.5 321.3h.7v.7h-.7zM180.8 323.6h.7v.7h-.7zM187.4 322.3h.7v.7h-.7zM177.5 321.9h.7v.7h-.7zM186.2 323.0h.7v.7h-.7zM189.1 324.0h.7v.7h-.7zM179.2 326.5h.7v.7h-.7zM184.5 322.8h.7v.7h-.7zM182.1 317.9h.7v.7h-.7zM171.2 322.7h.7v.7h-.7zM186.0 325.4h.7v.7h-.7zM176.9 320.8h.7v.7h-.7zM178.6 322.7h.7v.7h-.7zM177.4 318.9h.7v.7h-.7zM173.8 320.6h.7v.7h-.7zM185.9 317.9h.7v.7h-.7zM178.9 324.7h.7v.7h-.7zM177.1 315.7h.7v.7h-.7zM176.3 323.1h.7v.7h-.7zM181.2 318.7h.7v.7h-.7zM177.8 324.2h.7v.7h-.7zM174.2 324.6h.7v.7h-.7zM179.0 322.5h.7v.7h-.7zM175.8 318.8h.7v.7h-.7zM192.9 320.6h.7v.7h-.7zM176.2 322.3h.7v.7h-.7zM177.6 318.5h.7v.7h-.7zM176.7 319.6h.7v.7h-.7zM187.7 316.8h.7v.7h-.7zM183.1 316.8h.7v.7h-.7zM183.9 319.7h.7v.7h-.7zM184.1 320.4h.7v.7h-.7zM185.7 322.8h.7v.7h-.7zM183.1 322.7h.7v.7h-.7zM178.8 320.1h.7v.7h-.7zM177.2 322.5h.7v.7h-.7zM182.9 320.6h.7v.7h-.7zM175.4 320.8h.7v.7h-.7zM183.4 323.0h.7v.7h-.7zM177.9 322.9h.7v.7h-.7zM175.0 319.8h.7v.7h-.7zM175.7 321.6h.7v.7h-.7zM176.5 319.1h.7v.7h-.7zM186.2 323.7h.7v.7h-.7zM172.8 323.8h.7v.7h-.7zM185.2 323.4h.7v.7h-.7zM178.8 324.5h.7v.7h-.7zM184.0 317.6h.7v.7h-.7zM170.6 318.4h.7v.7h-.7zM183.5 329.5h.7v.7h-.7zM174.4 322.4h.7v.7h-.7zM181.8 321.5h.7v.7h-.7zM184.4 323.7h.7v.7h-.7zM181.5 325.6h.7v.7h-.7zM185.1 324.2h.7v.7h-.7zM187.2 318.7h.7v.7h-.7zM189.2 318.7h.7v.7h-.7zM181.9 320.4h.7v.7h-.7zM176.8 320.9h.7v.7h-.7zM173.5 322.6h.7v.7h-.7zM180.6 319.3h.7v.7h-.7zM181.9 321.9h.7v.7h-.7zM180.4 316.2h.7v.7h-.7zM183.3 321.8h.7v.7h-.7zM190.9 327.0h.7v.7h-.7zM186.9 322.5h.7v.7h-.7zM183.2 319.9h.7v.7h-.7zM179.1 318.8h.7v.7h-.7zM177.5 318.7h.7v.7h-.7zM187.3 325.5h.7v.7h-.7zM166.8 321.0h.7v.7h-.7zM170.5 317.3h.7v.7h-.7zM180.0 320.3h.7v.7h-.7zM196.6 321.2h.7v.7h-.7zM176.5 317.0h.7v.7h-.7zM183.5 318.9h.7v.7h-.7zM179.0 317.4h.7v.7h-.7zM186.8 322.2h.7v.7h-.7zM186.8 319.6h.7v.7h-.7zM181.4 320.1h.7v.7h-.7zM175.9 322.6h.7v.7h-.7zM171.9 319.3h.7v.7h-.7zM174.5 321.2h.7v.7h-.7zM173.6 320.6h.7v.7h-.7zM176.6 319.7h.7v.7h-.7zM178.8 326.1h.7v.7h-.7zM176.2 324.3h.7v.7h-.7zM179.0 328.6h.7v.7h-.7zM182.1 323.7h.7v.7h-.7zM174.0 324.9h.7v.7h-.7zM180.6 319.0h.7v.7h-.7zM181.3 325.3h.7v.7h-.7zM178.0 321.5h.7v.7h-.7zM186.9 323.8h.7v.7h-.7zM176.2 317.0h.7v.7h-.7zM186.1 322.4h.7v.7h-.7zM185.0 323.7h.7v.7h-.7zM181.5 322.9h.7v.7h-.7zM178.2 320.4h.7v.7h-.7zM181.8 319.5h.7v.7h-.7zM180.1 325.3h.7v.7h-.7zM180.6 323.2h.7v.7h-.7zM182.3 317.7h.7v.7h-.7zM184.7 316.1h.7v.7h-.7zM183.1 320.7h.7v.7h-.7zM176.7 322.8h.7v.7h-.7zM178.7 326.1h.7v.7h-.7zM172.0 324.7h.7v.7h-.7zM185.9 322.2h.7v.7h-.7zM174.9 317.7h.7v.7h-.7zM170.3 321.6h.7v.7h-.7zM179.6 323.3h.7v.7h-.7zM182.1 322.6h.7v.7h-.7zM172.9 321.4h.7v.7h-.7zM183.0 323.8h.7v.7h-.7zM168.0 324.0h.7v.7h-.7zM171.9 321.2h.7v.7h-.7zM182.0 326.5h.7v.7h-.7zM183.8 321.2h.7v.7h-.7zM176.9 318.6h.7v.7h-.7zM174.1 320.4h.7v.7h-.7zM176.8 324.1h.7v.7h-.7zM175.7 323.1h.7v.7h-.7zM180.0 318.8h.7v.7h-.7zM181.7 316.2h.7v.7h-.7zM182.8 320.9h.7v.7h-.7zM178.3 321.7h.7v.7h-.7zM183.8 323.6h.7v.7h-.7zM181.5 319.7h.7v.7h-.7zM183.7 316.2h.7v.7h-.7zM189.2 320.1h.7v.7h-.7zM183.0 325.0h.7v.7h-.7zM177.4 320.1h.7v.7h-.7zM182.2 318.7h.7v.7h-.7zM186.5 316.5h.7v.7h-.7zM178.9 321.8h.7v.7h-.7zM182.2 319.6h.7v.7h-.7zM188.4 324.6h.7v.7h-.7zM181.3 323.0h.7v.7h-.7zM174.8 323.6h.7v.7h-.7zM182.5 323.1h.7v.7h-.7zM184.5 321.8h.7v.7h-.7zM180.8 317.3h.7v.7h-.7zM172.3 317.7h.7v.7h-.7zM185.0 321.4h.7v.7h-.7zM177.9 319.2h.7v.7h-.7zM184.5 320.7h.7v.7h-.7zM188.9 319.9h.7v.7h-.7zM175.7 315.4h.7v.7h-.7zM176.9 322.0h.7v.7h-.7zM173.5 322.7h.7v.7h-.7zM184.1 317.7h.7v.7h-.7zM182.9 317.3h.7v.7h-.7zM181.5 319.7h.7v.7h-.7zM184.0 318.2h.7v.7h-.7zM179.8 322.2h.7v.7h-.7zM178.2 319.9h.7v.7h-.7zM176.9 323.5h.7v.7h-.7zM181.9 322.8h.7v.7h-.7zM185.1 322.1h.7v.7h-.7zM182.8 319.3h.7v.7h-.7zM180.7 322.4h.7v.7h-.7zM174.6 318.3h.7v.7h-.7zM184.6 325.5h.7v.7h-.7zM183.5 321.1h.7v.7h-.7zM188.3 323.5h.7v.7h-.7z" fill="#000" fill-opacity="0.48"/>
<path d="M198.3 323.6h.7v.7h-.7zM193.0 323.6h.7v.7h-.7zM198.7 324.3h.7v.7h-.7zM184.9 325.9h.7v.7h-.7zM190.0 318.4h.7v.7h-.7zM186.4 322.3h.7v.7h-.7zM181.6 318.2h.7v.7h-.7zM192.5 323.1h.7v.7h-.7zM198.9 321.5h.7v.7h-.7zM188.6 319.3h.7v.7h-.7zM195.2 321.7h.7v.7h-.7zM193.2 319.5h.7v.7h-.7zM187.9 319.7h.7v.7h-.7zM192.7 322.3h.7v.7h-.7zM198.5 323.1h.7v.7h-.7zM192.4 324.6h.7v.7h-.7zM185.3 319.4h.7v.7h-.7zM194.5 323.8h.7v.7h-.7zM192.2 317.7h.7v.7h-.7zM185.6 322.1h.7v.7h-.7zM194.1 316.3h.7v.7h-.7zM190.0 321.3h.7v.7h-.7zM196.6 324.3h.7v.7h-.7zM189.9 318.9h.7v.7h-.7zM191.0 319.8h.7v.7h-.7zM188.5 323.1h.7v.7h-.7zM192.0 314.7h.7v.7h-.7zM191.7 322.7h.7v.7h-.7zM185.9 325.3h.7v.7h-.7zM193.5 321.5h.7v.7h-.7zM189.4 324.0h.7v.7h-.7zM196.6 319.4h.7v.7h-.7zM181.1 324.6h.7v.7h-.7zM191.0 316.0h.7v.7h-.7zM196.7 314.6h.7v.7h-.7zM188.8 317.4h.7v.7h-.7zM185.2 321.4h.7v.7h-.7zM202.1 319.1h.7v.7h-.7zM197.5 319.2h.7v.7h-.7zM187.3 321.6h.7v.7h-.7zM183.4 325.5h.7v.7h-.7zM188.0 317.5h.7v.7h-.7zM191.0 320.5h.7v.7h-.7zM188.0 322.3h.7v.7h-.7zM198.7 320.7h.7v.7h-.7zM188.4 323.8h.7v.7h-.7zM196.3 319.5h.7v.7h-.7zM190.8 319.1h.7v.7h-.7zM185.1 323.5h.7v.7h-.7zM194.1 325.2h.7v.7h-.7zM200.0 314.4h.7v.7h-.7zM185.9 320.9h.7v.7h-.7zM200.0 321.3h.7v.7h-.7zM195.7 319.2h.7v.7h-.7zM197.7 325.1h.7v.7h-.7zM197.9 323.8h.7v.7h-.7zM189.9 326.1h.7v.7h-.7zM188.6 319.1h.7v.7h-.7zM188.2 321.8h.7v.7h-.7zM197.7 321.5h.7v.7h-.7zM194.2 321.2h.7v.7h-.7zM194.8 321.7h.7v.7h-.7zM186.5 328.4h.7v.7h-.7zM195.8 323.8h.7v.7h-.7zM194.4 319.8h.7v.7h-.7zM191.2 323.2h.7v.7h-.7zM197.6 322.6h.7v.7h-.7zM189.1 320.8h.7v.7h-.7zM187.1 320.3h.7v.7h-.7zM190.9 319.7h.7v.7h-.7zM193.3 326.8h.7v.7h-.7zM189.1 317.5h.7v.7h-.7zM188.7 324.4h.7v.7h-.7zM187.1 324.2h.7v.7h-.7zM197.0 320.7h.7v.7h-.7zM185.3 322.6h.7v.7h-.7zM187.7 321.6h.7v.7h-.7zM200.2 322.2h.7v.7h-.7zM183.3 321.2h.7v.7h-.7zM186.8 326.0h.7v.7h-.7zM193.2 319.7h.7v.7h-.7zM192.2 320.7h.7v.7h-.7zM187.2 317.9h.7v.7h-.7zM191.3 319.4h.7v.7h-.7zM190.3 322.8h.7v.7h-.7zM196.8 319.4h.7v.7h-.7zM193.0 318.5h.7v.7h-.7zM182.2 324.1h.7v.7h-.7zM198.8 319.8h.7v.7h-.7zM186.5 317.1h.7v.7h-.7zM190.2 323.5h.7v.7h-.7zM193.6 317.7h.7v.7h-.7zM192.7 317.4h.7v.7h-.7zM190.2 322.3h.7v.7h-.7zM193.3 316.3h.7v.7h-.7zM188.1 321.1h.7v.7h-.7zM193.6 320.1h.7v.7h-.7zM194.1 324.7h.7v.7h-.7zM184.5 322.1h.7v.7h-.7zM202.4 322.1h.7v.7h-.7zM191.0 324.5h.7v.7h-.7zM196.3 321.9h.7v.7h-.7zM181.1 321.3h.7v.7h-.7zM192.8 322.8h.7v.7h-.7zM198.7 317.1h.7v.7h-.7zM186.6 321.6h.7v.7h-.7zM195.7 319.5h.7v.7h-.7zM187.4 322.3h.7v.7h-.7zM192.2 323.6h.7v.7h-.7zM190.9 322.2h.7v.7h-.7zM184.4 322.5h.7v.7h-.7zM193.6 320.5h.7v.7h-.7zM186.0 325.5h.7v.7h-.7zM195.8 320.9h.7v.7h-.7zM195.8 326.0h.7v.7h-.7zM190.1 325.1h.7v.7h-.7zM195.1 320.6h.7v.7h-.7zM190.4 324.7h.7v.7h-.7zM196.6 323.1h.7v.7h-.7zM187.8 320.2h.7v.7h-.7zM191.6 317.7h.7v.7h-.7zM184.8 319.2h.7v.7h-.7zM193.8 322.8h.7v.7h-.7zM191.4 323.1h.7v.7h-.7zM199.0 318.5h.7v.7h-.7zM195.5 319.9h.7v.7h-.7zM198.2 316.6h.7v.7h-.7zM193.0 316.5h.7v.7h-.7zM191.7 321.1h.7v.7h-.7zM190.4 323.3h.7v.7h-.7zM186.3 320.9h.7v.7h-.7zM195.0 320.5h.7v.7h-.7zM194.6 321.3h.7v.7h-.7zM192.9 319.3h.7v.7h-.7zM186.2 320.1h.7v.7h-.7zM197.6 322.5h.7v.7h-.7zM190.1 319.8h.7v.7h-.7zM197.1 323.5h.7v.7h-.7zM191.8 323.1h.7v.7h-.7zM192.3 324.9h.7v.7h-.7zM187.7 322.0h.7v.7h-.7zM194.3 322.7h.7v.7h-.7zM188.6 319.8h.7v.7h-.7zM195.4 325.9h.7v.7h-.7zM188.0 320.8h.7v.7h-.7zM197.5 320.9h.7v.7h-.7zM195.0 323.9h.7v.7h-.7zM191.2 326.5h.7v.7h-.7zM192.3 320.5h.7v.7h-.7zM196.4 324.5h.7v.7h-.7zM188.1 321.5h.7v.7h-.7zM189.5 321.6h.7v.7h-.7zM186.3 322.2h.7v.7h-.7zM197.7 320.1h.7v.7h-.7zM190.9 321.2h.7v.7h-.7zM186.2 321.4h.7v.7h-.7zM190.0 319.6h.7v.7h-.7zM198.6 320.1h.7v.7h-.7zM189.8 314.4h.7v.7h-.7zM194.3 321.1h.7v.7h-.7zM196.4 319.6h.7v.7h-.7zM191.3 321.2h.7v.7h-.7zM199.3 323.4h.7v.7h-.7zM183.3 327.0h.7v.7h-.7zM197.3 320.4h.7v.7h-.7zM186.9 319.6h.7v.7h-.7zM184.0 320.3h.7v.7h-.7zM196.0 321.3h.7v.7h-.7zM188.1 322.8h.7v.7h-.7zM194.3 322.2h.7v.7h-.7zM195.1 325.4h.7v.7h-.7zM194.6 324.7h.7v.7h-.7zM196.6 321.1h.7v.7h-.7zM195.4 321.5h.7v.7h-.7zM190.5 322.6h.7v.7h-.7zM194.6 323.7h.7v.7h-.7zM193.0 317.8h.7v.7h-.7zM192.3 322.4h.7v.7h-.7zM195.6 322.6h.7v.7h-.7zM191.8 321.5h.7v.7h-.7zM197.3 323.9h.7v.7h-.7zM192.1 322.3h.7v.7h-.7zM192.7 320.5h.7v.7h-.7zM191.9 320.6h.7v.7h-.7zM195.3 319.3h.7v.7h-.7zM190.4 323.0h.7v.7h-.7zM194.0 319.1h.7v.7h-.7zM188.3 320.7h.7v.7h-.7zM193.7 323.5h.7v.7h-.7zM191.7 325.8h.7v.7h-.7zM195.5 317.5h.7v.7h-.7zM190.9 323.8h.7v.7h-.7zM196.7 320.5h.7v.7h-.7zM190.7 321.1h.7v.7h-.7zM192.8 318.7h.7v.7h-.7zM193.0 324.4h.7v.7h-.7zM193.3 323.8h.7v.7h-.7zM188.9 323.6h.7v.7h-.7zM190.5 322.8h.7v.7h-.7zM194.7 318.7h.7v.7h-.7zM187.4 324.0h.7v.7h-.7zM195.0 322.8h.7v.7h-.7zM188.8 323.8h.7v.7h-.7zM195.2 319.4h.7v.7h-.7zM186.9 323.4h.7v.7h-.7zM192.6 319.2h.7v.7h-.7zM190.2 319.3h.7v.7h-.7zM193.8 321.6h.7v.7h-.7zM196.3 322.3h.7v.7h-.7zM193.0 324.8h.7v.7h-.7zM191.6 318.7h.7v.7h-.7zM191.5 319.3h.7v.7h-.7zM195.1 326.0h.7v.7h-.7zM189.0 320.9h.7v.7h-.7zM186.1 325.7h.7v.7h-.7zM200.2 323.4h.7v.7h-.7zM198.9 325.0h.7v.7h-.7zM189.7 321.2h.7v.7h-.7zM191.3 324.1h.7v.7h-.7zM185.7 318.7h.7v.7h-.7zM193.8 320.0h.7v.7h-.7zM185.2 319.3h.7v.7h-.7zM195.0 325.9h.7v.7h-.7zM192.3 325.0h.7v.7h-.7zM186.4 321.5h.7v.7h-.7zM193.5 320.4h.7v.7h-.7zM191.2 328.2h.7v.7h-.7zM185.3 317.5h.7v.7h-.7zM192.5 323.8h.7v.7h-.7zM185.2 319.3h.7v.7h-.7zM190.2 321.4h.7v.7h-.7zM184.8 323.0h.7v.7h-.7zM193.4 320.7h.7v.7h-.7zM184.3 325.1h.7v.7h-.7zM191.4 317.9h.7v.7h-.7zM194.6 324.1h.7v.7h-.7zM187.4 323.0h.7v.7h-.7zM190.0 321.5h.7v.7h-.7zM193.8 318.9h.7v.7h-.7zM194.3 324.8h.7v.7h-.7zM191.0 322.7h.7v.7h-.7zM191.2 321.2h.7v.7h-.7zM197.1 319.8h.7v.7h-.7zM191.0 327.6h.7v.7h-.7zM191.3 321.3h.7v.7h-.7zM191.8 320.7h.7v.7h-.7zM191.0 324.8h.7v.7h-.7zM186.0 316.1h.7v.7h-.7zM193.2 320.0h.7v.7h-.7zM190.0 321.1h.7v.7h-.7zM190.6 318.9h.7v.7h-.7zM191.0 320.7h.7v.7h-.7zM187.2 321.6h.7v.7h-.7zM198.4 322.5h.7v.7h-.7zM199.4 320.9h.7v.7h-.7zM194.0 321.2h.7v.7h-.7zM188.2 318.9h.7v.7h-.7zM184.3 322.9h.7v.7h-.7zM190.4 322.1h.7v.7h-.7zM186.1 317.7h.7v.7h-.7zM187.7 324.2h.7v.7h-.7zM199.4 327.2h.7v.7h-.7zM192.8 321.4h.7v.7h-.7zM185.5 316.8h.7v.7h-.7zM190.2 321.4h.7v.7h-.7zM191.3 318.5h.7v.7h-.7zM191.2 322.3h.7v.7h-.7zM193.4 326.2h.7v.7h-.7zM186.5 322.1h.7v.7h-.7zM189.2 319.5h.7v.7h-.7zM192.5 317.3h.7v.7h-.7zM198.4 322.0h.7v.7h-.7zM197.3 322.0h.7v.7h-.7zM199.5 319.3h.7v.7h-.7zM188.6 327.2h.7v.7h-.7zM195.2 325.1h.7v.7h-.7zM192.1 320.8h.7v.7h-.7zM191.7 324.7h.7v.7h-.7zM194.7 321.5h.7v.7h-.7zM182.7 322.8h.7v.7h-.7zM196.0 325.9h.7v.7h-.7zM191.7 316.9h.7v.7h-.7zM188.6 324.5h.7v.7h-.7zM194.2 323.2h.7v.7h-.7zM192.8 320.3h.7v.7h-.7zM190.2 321.2h.7v.7h-.7zM194.3 318.0h.7v.7h-.7zM198.7 325.2h.7v.7h-.7zM188.2 318.5h.7v.7h-.7zM199.5 323.8h.7v.7h-.7zM190.6 319.1h.7v.7h-.7zM198.9 323.6h.7v.7h-.7zM193.5 326.0h.7v.7h-.7zM188.3 320.2h.7v.7h-.7zM188.5 322.2h.7v.7h-.7zM182.7 321.2h.7v.7h-.7zM187.9 320.5h.7v.7h-.7zM187.7 314.9h.7v.7h-.7zM194.3 324.6h.7v.7h-.7zM196.4 319.4h.7v.7h-.7zM192.3 323.2h.7v.7h-.7zM190.4 318.2h.7v.7h-.7zM193.9 322.1h.7v.7h-.7zM190.0 324.6h.7v.7h-.7zM188.5 322.3h.7v.7h-.7zM192.2 325.0h.7v.7h-.7zM193.0 319.0h.7v.7h-.7zM185.3 322.5h.7v.7h-.7zM186.9 324.9h.7v.7h-.7zM195.5 321.5h.7v.7h-.7zM190.0 320.9h.7v.7h-.7zM198.0 322.4h.7v.7h-.7zM185.9 320.1h.7v.7h-.7zM194.3 319.6h.7v.7h-.7zM199.4 318.7h.7v.7h-.7zM195.7 320.8h.7v.7h-.7zM199.2 323.3h.7v.7h-.7zM192.6 322.3h.7v.7h-.7zM190.8 317.5h.7v.7h-.7zM191.0 320.4h.7v.7h-.7zM191.2 319.6h.7v.7h-.7zM185.2 321.6h.7v.7h-.7zM189.5 323.5h.7v.7h-.7zM195.3 318.2h.7v.7h-.7zM192.7 320.8h.7v.7h-.7zM192.5 319.8h.7v.7h-.7zM189.1 324.9h.7v.7h-.7zM193.5 317.9h.7v.7h-.7zM186.4 321.4h.7v.7h-.7zM189.5 320.4h.7v.7h-.7zM188.7 323.5h.7v.7h-.7zM195.7 323.2h.7v.7h-.7zM191.8 321.2h.7v.7h-.7zM186.4 326.6h.7v.7h-.7zM193.9 320.7h.7v.7h-.7zM200.5 318.4h.7v.7h-.7zM189.9 320.2h.7v.7h-.7zM189.5 321.8h.7v.7h-.7zM190.0 321.1h.7v.7h-.7zM190.1 322.4h.7v.7h-.7zM190.2 319.3h.7v.7h-.7zM196.9 317.5h.7v.7h-.7zM196.1 325.0h.7v.7h-.7zM191.7 319.4h.7v.7h-.7zM192.7 320.7h.7v.7h-.7zM189.1 325.1h.7v.7h-.7zM195.7 315.6h.7v.7h-.7zM185.2 320.0h.7v.7h-.7zM202.0 319.6h.7v.7h-.7zM189.8 324.0h.7v.7h-.7zM192.7 318.4h.7v.7h-.7zM200.6 324.3h.7v.7h-.7zM190.0 322.5h.7v.7h-.7zM191.5 322.0h.7v.7h-.7zM194.1 320.8h.7v.7h-.7zM203.3 321.5h.7v.7h-.7zM189.8 324.9h.7v.7h-.7zM189.2 323.3h.7v.7h-.7zM198.5 319.6h.7v.7h-.7zM187.7 325.7h.7v.7h-.7zM193.2 316.3h.7v.7h-.7zM187.8 322.8h.7v.7h-.7zM196.1 319.8h.7v.7h-.7zM187.9 324.2h.7v.7h-.7zM190.2 318.5h.7v.7h-.7zM204.2 325.1h.7v.7h-.7zM194.5 324.6h.7v.7h-.7zM191.3 322.2h.7v.7h-.7zM192.5 324.2h.7v.7h-.7zM193.9 321.8h.7v.7h-.7zM187.5 321.2h.7v.7h-.7zM195.7 322.3h.7v.7h-.7zM193.4 326.6h.7v.7h-.7zM200.2 319.1h.7v.7h-.7zM196.1 319.7h.7v.7h-.7zM193.0 325.1h.7v.7h-.7zM193.7 327.3h.7v.7h-.7zM193.1 324.9h.7v.7h-.7zM190.5 320.7h.7v.7h-.7zM191.4 318.6h.7v.7h-.7zM190.2 318.4h.7v.7h-.7zM192.4 320.3h.7v.7h-.7zM193.2 325.4h.7v.7h-.7zM195.8 323.0h.7v.7h-.7zM191.4 320.1h.7v.7h-.7zM186.3 323.8h.7v.7h-.7zM193.1 323.7h.7v.7h-.7zM183.2 321.0h.7v.7h-.7zM183.3 320.9h.7v.7h-.7zM189.9 321.7h.7v.7h-.7zM195.8 319.8h.7v.7h-.7zM195.9 324.0h.7v.7h-.7zM191.7 321.6h.7v.7h-.7zM191.2 322.8h.7v.7h-.7zM188.8 322.9h.7v.7h-.7zM193.3 321.2h.7v.7h-.7zM191.7 322.1h.7v.7h-.7zM188.9 323.2h.7v.7h-.7zM190.7 323.0h.7v.7h-.7zM188.7 326.0h.7v.7h-.7zM196.5 319.7h.7v.7h-.7zM189.0 320.6h.7v.7h-.7zM192.9 321.3h.7v.7h-.7zM186.5 321.4h.7v.7h-.7zM181.7 321.2h.7v.7h-.7zM190.1 320.8h.7v.7h-.7zM196.7 323.7h.7v.7h-.7zM196.4 321.8h.7v.7h-.7zM192.9 318.6h.7v.7h-.7zM197.1 321.4h.7v.7h-.7zM191.0 322.4h.7v.7h-.7zM187.5 322.3h.7v.7h-.7zM190.8 318.1h.7v.7h-.7zM195.5 319.4h.7v.7h-.7zM190.1 322.1h.7v.7h-.7zM191.9 319.2h.7v.7h-.7zM185.5 322.4h.7v.7h-.7zM189.3 321.0h.7v.7h-.7zM190.7 320.2h.7v.7h-.7zM204.7 316.8h.7v.7h-.7zM197.1 321.2h.7v.7h-.7zM188.4 324.1h.7v.7h-.7zM192.3 319.7h.7v.7h-.7zM189.3 319.7h.7v.7h-.7zM190.8 322.2h.7v.7h-.7zM191.4 319.2h.7v.7h-.7zM186.8 320.3h.7v.7h-.7zM196.9 318.4h.7v.7h-.7zM191.4 315.5h.7v.7h-.7zM193.4 320.3h.7v.7h-.7zM198.2 317.6h.7v.7h-.7zM193.4 323.5h.7v.7h-.7zM192.8 316.1h.7v.7h-.7zM199.1 323.3h.7v.7h-.7zM195.4 319.5h.7v.7h-.7zM192.5 323.4h.7v.7h-.7zM192.7 326.6h.7v.7h-.7zM192.2 319.5h.7v.7h-.7zM191.7 316.7h.7v.7h-.7zM191.2 327.0h.7v.7h-.7zM190.8 320.9h.7v.7h-.7zM188.7 322.9h.7v.7h-.7zM194.1 324.9h.7v.7h-.7zM182.2 324.3h.7v.7h-.7zM186.4 322.5h.7v.7h-.7zM192.4 321.3h.7v.7h-.7zM188.2 326.7h.7v.7h-.7zM187.1 317.4h.7v.7h-.7zM199.3 323.4h.7v.7h-.7zM191.8 323.8h.7v.7h-.7zM188.6 324.0h.7v.7h-.7zM195.8 318.3h.7v.7h-.7zM190.9 319.7h.7v.7h-.7zM190.7 319.1h.7v.7h-.7zM195.1 318.4h.7v.7h-.7zM194.1 323.8h.7v.7h-.7zM188.7 318.3h.7v.7h-.7zM192.5 323.2h.7v.7h-.7zM191.9 320.4h.7v.7h-.7zM184.2 320.9h.7v.7h-.7zM192.3 322.1h.7v.7h-.7zM200.1 320.5h.7v.7h-.7zM190.3 317.3h.7v.7h-.7zM193.8 318.7h.7v.7h-.7zM201.6 318.1h.7v.7h-.7zM190.0 317.4h.7v.7h-.7zM194.7 322.0h.7v.7h-.7zM184.5 320.1h.7v.7h-.7zM201.3 322.7h.7v.7h-.7zM193.1 321.1h.7v.7h-.7zM190.8 317.5h.7v.7h-.7zM190.3 324.7h.7v.7h-.7zM194.0 324.0h.7v.7h-.7zM195.8 319.9h.7v.7h-.7zM188.0 321.6h.7v.7h-.7zM189.8 318.7h.7v.7h-.7zM187.8 323.6h.7v.7h-.7zM184.6 317.3h.7v.7h-.7zM191.1 323.1h.7v.7h-.7zM192.2 323.5h.7v.7h-.7z" fill="#000" fill-opacity="0.58"/>
<path d="M197.4 321.7h.7v.7h-.7zM200.4 324.6h.7v.7h-.7zM202.2 322.1h.7v.7h-.7zM201.0 320.7h.7v.7h-.7zM194.9 320.0h.7v.7h-.7zM196.3 315.7h.7v.7h-.7zM196.9 321.9h.7v.7h-.7zM198.8 320.6h.7v.7h-.7zM198.0 322.4h.7v.7h-.7zM199.6 324.0h.7v.7h-.7zM193.7 318.7h.7v.7h-.7zM206.1 324.9h.7v.7h-.7zM197.9 323.9h.7v.7h-.7zM201.6 322.4h.7v.7h-.7zM202.1 322.0h.7v.7h-.7zM198.2 318.9h.7v.7h-.7zM199.6 328.7h.7v.7h-.7zM202.3 319.6h.7v.7h-.7zM198.6 324.5h.7v.7h-.7zM203.7 323.9h.7v.7h-.7zM195.7 319.0h.7v.7h-.7zM197.1 319.5h.7v.7h-.7zM195.9 322.0h.7v.7h-.7zM198.7 323.0h.7v.7h-.7zM195.6 320.1h.7v.7h-.7zM201.9 320.6h.7v.7h-.7zM200.2 321.9h.7v.7h-.7zM195.3 322.3h.7v.7h-.7zM193.5 319.2h.7v.7h-.7zM194.6 320.5h.7v.7h-.7zM204.2 316.2h.7v.7h-.7zM203.4 325.3h.7v.7h-.7zM195.0 324.6h.7v.7h-.7zM199.5 320.9h.7v.7h-.7zM205.4 323.8h.7v.7h-.7zM193.2 321.0h.7v.7h-.7zM201.7 324.3h.7v.7h-.7zM197.7 321.6h.7v.7h-.7zM197.5 320.4h.7v.7h-.7zM197.7 320.9h.7v.7h-.7zM197.5 318.8h.7v.7h-.7zM198.7 318.3h.7v.7h-.7zM199.1 321.8h.7v.7h-.7zM201.7 323.5h.7v.7h-.7zM195.9 323.6h.7v.7h-.7zM196.7 320.5h.7v.7h-.7zM198.4 324.1h.7v.7h-.7zM197.2 324.7h.7v.7h-.7zM200.8 321.1h.7v.7h-.7zM200.4 318.2h.7v.7h-.7zM195.2 323.6h.7v.7h-.7zM195.7 317.7h.7v.7h-.7zM202.9 323.2h.7v.7h-.7zM196.6 322.7h.7v.7h-.7zM200.8 320.5h.7v.7h-.7zM196.2 318.2h.7v.7h-.7zM199.9 320.8h.7v.7h-.7zM197.3 320.9h.7v.7h-.7zM199.1 321.6h.7v.7h-.7zM193.4 324.9h.7v.7h-.7zM201.5 322.5h.7v.7h-.7zM197.9 320.5h.7v.7h-.7zM201.6 321.5h.7v.7h-.7zM195.7 322.2h.7v.7h-.7zM197.8 321.3h.7v.7h-.7zM195.3 320.7h.7v.7h-.7zM200.6 323.3h.7v.7h-.7zM202.5 322.8h.7v.7h-.7zM199.3 325.1h.7v.7h-.7zM195.7 319.8h.7v.7h-.7zM199.4 325.4h.7v.7h-.7zM196.6 319.3h.7v.7h-.7zM199.3 322.0h.7v.7h-.7zM197.9 325.4h.7v.7h-.7zM198.2 326.3h.7v.7h-.7zM202.8 319.3h.7v.7h-.7zM202.7 323.8h.7v.7h-.7zM202.5 317.2h.7v.7h-.7zM202.9 323.3h.7v.7h-.7zM199.2 325.1h.7v.7h-.7zM193.6 325.0h.7v.7h-.7zM200.6 323.0h.7v.7h-.7zM197.9 317.4h.7v.7h-.7zM197.0 329.5h.7v.7h-.7zM195.6 318.8h.7v.7h-.7zM204.0 323.1h.7v.7h-.7zM197.7 321.7h.7v.7h-.7zM200.3 323.7h.7v.7h-.7zM201.7 321.9h.7v.7h-.7zM196.8 321.1h.7v.7h-.7zM195.8 323.4h.7v.7h-.7zM200.0 322.1h.7v.7h-.7zM197.1 321.5h.7v.7h-.7zM198.4 322.3h.7v.7h-.7zM196.6 321.6h.7v.7h-.7zM195.8 318.5h.7v.7h-.7zM205.4 320.6h.7v.7h-.7zM195.6 319.6h.7v.7h-.7zM202.7 321.6h.7v.7h-.7zM196.0 322.2h.7v.7h-.7zM198.4 322.9h.7v.7h-.7zM199.3 318.5h.7v.7h-.7zM201.3 321.8h.7v.7h-.7zM199.0 324.1h.7v.7h-.7zM198.2 323.4h.7v.7h-.7zM197.2 319.9h.7v.7h-.7zM201.7 322.9h.7v.7h-.7zM198.0 321.7h.7v.7h-.7zM194.2 318.0h.7v.7h-.7zM194.5 319.7h.7v.7h-.7zM200.0 322.3h.7v.7h-.7zM199.4 317.4h.7v.7h-.7zM200.1 323.7h.7v.7h-.7zM199.0 325.8h.7v.7h-.7zM199.2 327.3h.7v.7h-.7zM199.2 319.8h.7v.7h-.7zM193.4 320.3h.7v.7h-.7zM199.0 323.8h.7v.7h-.7zM190.0 317.1h.7v.7h-.7zM200.8 324.6h.7v.7h-.7zM201.0 322.2h.7v.7h-.7zM201.9 316.3h.7v.7h-.7zM198.7 324.1h.7v.7h-.7zM202.7 324.1h.7v.7h-.7zM194.2 324.4h.7v.7h-.7zM197.8 324.8h.7v.7h-.7zM199.3 320.9h.7v.7h-.7zM199.2 326.9h.7v.7h-.7zM205.4 318.7h.7v.7h-.7zM200.6 320.9h.7v.7h-.7zM198.8 324.2h.7v.7h-.7zM202.3 324.1h.7v.7h-.7zM198.1 322.9h.7v.7h-.7zM198.9 320.0h.7v.7h-.7zM196.6 324.0h.7v.7h-.7zM195.7 317.5h.7v.7h-.7zM202.0 321.1h.7v.7h-.7zM202.0 318.2h.7v.7h-.7zM196.3 320.4h.7v.7h-.7zM202.2 322.4h.7v.7h-.7zM201.6 321.8h.7v.7h-.7zM204.9 321.2h.7v.7h-.7zM200.7 316.4h.7v.7h-.7zM192.7 321.6h.7v.7h-.7zM194.3 319.8h.7v.7h-.7zM200.2 322.4h.7v.7h-.7zM198.8 320.7h.7v.7h-.7zM198.4 322.6h.7v.7h-.7zM204.4 319.6h.7v.7h-.7zM206.7 320.3h.7v.7h-.7zM195.9 321.9h.7v.7h-.7zM198.3 324.8h.7v.7h-.7zM196.8 325.8h.7v.7h-.7zM199.1 327.9h.7v.7h-.7zM197.4 321.8h.7v.7h-.7zM198.2 323.5h.7v.7h-.7zM194.8 319.6h.7v.7h-.7zM196.1 326.1h.7v.7h-.7zM201.8 324.6h.7v.7h-.7zM201.6 322.7h.7v.7h-.7zM195.6 319.2h.7v.7h-.7zM193.7 323.2h.7v.7h-.7zM195.4 323.9h.7v.7h-.7zM202.7 324.7h.7v.7h-.7zM195.9 324.3h.7v.7h-.7zM196.7 322.2h.7v.7h-.7zM200.8 318.8h.7v.7h-.7zM198.3 322.1h.7v.7h-.7zM203.9 324.2h.7v.7h-.7zM196.8 322.7h.7v.7h-.7zM199.5 321.2h.7v.7h-.7zM197.4 323.2h.7v.7h-.7zM202.1 321.3h.7v.7h-.7zM198.6 320.9h.7v.7h-.7zM197.7 322.3h.7v.7h-.7zM193.8 319.9h.7v.7h-.7zM196.5 319.6h.7v.7h-.7zM199.4 318.6h.7v.7h-.7zM203.4 323.2h.7v.7h-.7zM199.2 318.4h.7v.7h-.7zM190.5 319.8h.7v.7h-.7zM196.3 326.2h.7v.7h-.7zM195.5 321.6h.7v.7h-.7zM197.9 322.6h.7v.7h-.7zM197.4 318.9h.7v.7h-.7zM200.2 315.8h.7v.7h-.7zM202.5 321.9h.7v.7h-.7zM198.6 323.1h.7v.7h-.7zM198.6 318.5h.7v.7h-.7zM199.3 315.3h.7v.7h-.7zM199.0 323.5h.7v.7h-.7zM200.4 322.9h.7v.7h-.7zM200.6 320.9h.7v.7h-.7zM197.4 325.0h.7v.7h-.7zM203.5 322.5h.7v.7h-.7zM198.7 321.8h.7v.7h-.7zM201.9 324.0h.7v.7h-.7zM202.1 320.6h.7v.7h-.7zM199.8 323.1h.7v.7h-.7zM200.3 323.4h.7v.7h-.7zM203.9 323.2h.7v.7h-.7zM198.7 318.5h.7v.7h-.7zM202.9 324.1h.7v.7h-.7zM196.7 323.6h.7v.7h-.7zM197.3 319.8h.7v.7h-.7zM200.0 322.2h.7v.7h-.7zM205.9 321.0h.7v.7h-.7zM197.1 317.2h.7v.7h-.7zM197.4 320.1h.7v.7h-.7zM196.0 320.8h.7v.7h-.7zM200.1 323.1h.7v.7h-.7zM201.7 319.9h.7v.7h-.7zM197.9 320.2h.7v.7h-.7zM198.9 323.0h.7v.7h-.7zM191.9 323.3h.7v.7h-.7zM202.6 319.9h.7v.7h-.7zM200.9 319.4h.7v.7h-.7zM198.1 318.5h.7v.7h-.7zM197.2 322.0h.7v.7h-.7zM196.4 321.4h.7v.7h-.7zM201.3 317.7h.7v.7h-.7zM198.6 319.5h.7v.7h-.7zM199.2 322.4h.7v.7h-.7zM200.1 323.5h.7v.7h-.7zM198.9 322.0h.7v.7h-.7zM199.9 322.3h.7v.7h-.7zM194.3 322.4h.7v.7h-.7zM199.9 316.8h.7v.7h-.7zM202.7 322.6h.7v.7h-.7zM195.3 321.9h.7v.7h-.7zM200.6 322.9h.7v.7h-.7zM200.2 318.7h.7v.7h-.7zM198.8 325.1h.7v.7h-.7zM200.8 319.2h.7v.7h-.7zM200.2 324.4h.7v.7h-.7zM204.5 319.3h.7v.7h-.7zM196.0 319.9h.7v.7h-.7zM203.0 325.2h.7v.7h-.7zM199.4 326.4h.7v.7h-.7zM193.2 321.5h.7v.7h-.7zM196.7 324.0h.7v.7h-.7zM199.4 325.6h.7v.7h-.7zM195.4 320.7h.7v.7h-.7zM201.4 327.6h.7v.7h-.7zM199.3 324.2h.7v.7h-.7zM202.3 323.7h.7v.7h-.7zM204.0 323.8h.7v.7h-.7zM203.6 325.7h.7v.7h-.7zM196.1 320.4h.7v.7h-.7zM202.8 317.8h.7v.7h-.7zM200.0 324.5h.7v.7h-.7zM200.0 322.9h.7v.7h-.7zM203.5 319.1h.7v.7h-.7zM196.4 327.2h.7v.7h-.7zM194.9 320.6h.7v.7h-.7zM204.0 318.7h.7v.7h-.7zM204.0 322.1h.7v.7h-.7zM201.6 322.3h.7v.7h-.7zM202.6 326.0h.7v.7h-.7zM204.5 326.1h.7v.7h-.7zM200.2 322.4h.7v.7h-.7zM199.6 319.6h.7v.7h-.7zM196.2 323.9h.7v.7h-.7zM201.1 320.4h.7v.7h-.7zM200.3 318.5h.7v.7h-.7zM192.9 322.9h.7v.7h-.7zM201.8 319.3h.7v.7h-.7zM203.2 326.9h.7v.7h-.7zM200.2 328.4h.7v.7h-.7zM192.9 320.1h.7v.7h-.7zM196.1 318.7h.7v.7h-.7zM200.5 319.1h.7v.7h-.7zM193.4 324.3h.7v.7h-.7zM207.8 323.6h.7v.7h-.7zM197.2 325.1h.7v.7h-.7zM199.8 322.0h.7v.7h-.7zM199.3 322.5h.7v.7h-.7zM198.6 321.6h.7v.7h-.7zM197.5 318.9h.7v.7h-.7zM197.3 321.8h.7v.7h-.7zM202.3 323.1h.7v.7h-.7zM202.4 323.3h.7v.7h-.7zM200.9 318.4h.7v.7h-.7zM205.1 325.2h.7v.7h-.7zM197.4 322.1h.7v.7h-.7zM204.9 321.9h.7v.7h-.7zM200.8 319.8h.7v.7h-.7zM199.9 321.5h.7v.7h-.7zM199.2 319.1h.7v.7h-.7zM201.2 318.6h.7v.7h-.7zM200.9 318.8h.7v.7h-.7zM202.1 328.7h.7v.7h-.7zM201.2 326.5h.7v.7h-.7zM192.4 323.7h.7v.7h-.7zM195.0 322.7h.7v.7h-.7zM202.2 318.4h.7v.7h-.7zM199.7 318.8h.7v.7h-.7zM197.8 319.4h.7v.7h-.7zM201.2 321.3h.7v.7h-.7zM197.3 322.6h.7v.7h-.7zM199.4 322.7h.7v.7h-.7zM197.8 322.7h.7v.7h-.7zM198.0 322.2h.7v.7h-.7zM199.6 321.6h.7v.7h-.7zM199.1 322.9h.7v.7h-.7zM196.3 320.1h.7v.7h-.7zM199.5 321.3h.7v.7h-.7zM196.5 324.0h.7v.7h-.7zM195.7 321.7h.7v.7h-.7zM204.3 320.4h.7v.7h-.7zM199.7 321.2h.7v.7h-.7zM200.9 325.6h.7v.7h-.7zM203.0 324.5h.7v.7h-.7zM197.8 326.2h.7v.7h-.7zM197.6 324.8h.7v.7h-.7zM198.1 322.1h.7v.7h-.7zM194.8 323.9h.7v.7h-.7zM206.0 327.5h.7v.7h-.7zM202.1 325.2h.7v.7h-.7zM197.6 319.6h.7v.7h-.7zM198.1 323.1h.7v.7h-.7zM200.8 325.2h.7v.7h-.7zM196.9 322.9h.7v.7h-.7zM199.0 321.4h.7v.7h-.7zM198.2 322.6h.7v.7h-.7zM199.4 322.5h.7v.7h-.7zM194.5 321.4h.7v.7h-.7zM195.6 325.2h.7v.7h-.7zM201.1 319.4h.7v.7h-.7zM196.6 326.2h.7v.7h-.7zM205.7 325.6h.7v.7h-.7zM199.8 318.6h.7v.7h-.7zM198.8 322.7h.7v.7h-.7zM201.6 318.8h.7v.7h-.7zM196.7 320.0h.7v.7h-.7zM199.3 318.4h.7v.7h-.7zM195.6 320.1h.7v.7h-.7zM198.6 319.7h.7v.7h-.7zM204.7 323.0h.7v.7h-.7zM201.3 322.7h.7v.7h-.7zM205.0 319.3h.7v.7h-.7zM196.2 323.8h.7v.7h-.7zM199.8 323.1h.7v.7h-.7zM201.1 317.8h.7v.7h-.7zM202.3 318.7h.7v.7h-.7zM198.6 323.6h.7v.7h-.7zM193.5 322.8h.7v.7h-.7zM197.6 322.3h.7v.7h-.7zM205.1 320.2h.7v.7h-.7zM194.8 318.1h.7v.7h-.7z" fill="#000" fill-opacity="0.7"/>
<path d="M191.3 328.3h.7v.7h-.7zM170.8 327.7h.7v.7h-.7zM190.1 329.2h.7v.7h-.7zM167.0 325.6h.7v.7h-.7zM193.2 328.3h.7v.7h-.7zM183.6 327.6h.7v.7h-.7zM189.0 325.8h.7v.7h-.7zM179.0 325.5h.7v.7h-.7zM187.6 328.4h.7v.7h-.7zM211.3 329.5h.7v.7h-.7zM188.5 325.4h.7v.7h-.7zM196.0 326.1h.7v.7h-.7zM181.8 329.4h.7v.7h-.7zM203.4 327.6h.7v.7h-.7zM171.4 330.0h.7v.7h-.7zM208.1 327.7h.7v.7h-.7zM182.4 329.2h.7v.7h-.7zM190.7 327.3h.7v.7h-.7zM208.8 326.1h.7v.7h-.7zM187.3 327.0h.7v.7h-.7zM183.1 327.9h.7v.7h-.7zM212.1 326.1h.7v.7h-.7zM187.7 331.3h.7v.7h-.7zM185.2 325.7h.7v.7h-.7zM166.1 327.8h.7v.7h-.7zM198.2 328.0h.7v.7h-.7zM190.5 324.9h.7v.7h-.7zM182.9 328.5h.7v.7h-.7zM194.4 327.0h.7v.7h-.7zM177.3 324.2h.7v.7h-.7zM182.0 327.2h.7v.7h-.7zM184.6 327.5h.7v.7h-.7zM199.5 327.3h.7v.7h-.7zM192.2 326.4h.7v.7h-.7zM195.1 321.6h.7v.7h-.7zM167.7 327.0h.7v.7h-.7zM183.7 326.4h.7v.7h-.7zM165.9 327.5h.7v.7h-.7zM178.1 327.1h.7v.7h-.7zM194.9 329.6h.7v.7h-.7zM208.5 324.8h.7v.7h-.7zM184.0 327.1h.7v.7h-.7zM176.0 329.4h.7v.7h-.7zM185.2 326.5h.7v.7h-.7zM167.0 327.9h.7v.7h-.7zM195.3 331.1h.7v.7h-.7zM193.2 323.9h.7v.7h-.7zM198.0 325.8h.7v.7h-.7zM197.3 330.3h.7v.7h-.7zM184.7 327.5h.7v.7h-.7zM189.8 326.1h.7v.7h-.7zM217.2 325.1h.7v.7h-.7zM186.8 328.7h.7v.7h-.7zM200.9 326.2h.7v.7h-.7zM187.5 325.7h.7v.7h-.7zM181.6 325.9h.7v.7h-.7zM181.9 325.7h.7v.7h-.7zM186.1 329.0h.7v.7h-.7zM177.0 327.9h.7v.7h-.7zM168.1 328.0h.7v.7h-.7zM204.3 327.6h.7v.7h-.7zM184.3 328.1h.7v.7h-.7zM194.0 327.9h.7v.7h-.7zM195.8 323.3h.7v.7h-.7zM178.4 322.9h.7v.7h-.7zM182.9 324.8h.7v.7h-.7zM198.8 324.1h.7v.7h-.7zM210.7 327.4h.7v.7h-.7zM176.4 328.7h.7v.7h-.7zM180.6 324.3h.7v.7h-.7zM179.6 326.9h.7v.7h-.7zM200.4 327.8h.7v.7h-.7zM174.8 327.9h.7v.7h-.7zM174.9 328.4h.7v.7h-.7zM190.9 325.4h.7v.7h-.7zM189.0 328.7h.7v.7h-.7zM172.9 327.6h.7v.7h-.7zM190.3 326.6h.7v.7h-.7zM187.0 324.1h.7v.7h-.7zM213.2 322.9h.7v.7h-.7zM211.8 332.2h.7v.7h-.7zM179.6 327.4h.7v.7h-.7zM181.7 328.0h.7v.7h-.7zM187.8 325.6h.7v.7h-.7zM190.5 327.3h.7v.7h-.7zM203.7 323.7h.7v.7h-.7zM185.6 326.8h.7v.7h-.7zM185.4 327.8h.7v.7h-.7zM189.3 325.9h.7v.7h-.7zM183.0 330.3h.7v.7h-.7zM181.6 327.7h.7v.7h-.7zM202.4 323.0h.7v.7h-.7zM175.5 328.5h.7v.7h-.7zM196.6 328.1h.7v.7h-.7zM202.5 328.3h.7v.7h-.7zM201.6 325.4h.7v.7h-.7zM187.0 326.7h.7v.7h-.7zM183.1 325.3h.7v.7h-.7zM175.4 329.1h.7v.7h-.7zM192.4 331.0h.7v.7h-.7zM195.4 329.7h.7v.7h-.7zM178.9 325.5h.7v.7h-.7zM184.3 327.4h.7v.7h-.7zM177.1 327.1h.7v.7h-.7zM188.9 327.4h.7v.7h-.7zM176.3 328.6h.7v.7h-.7zM176.2 330.4h.7v.7h-.7zM171.4 325.9h.7v.7h-.7zM181.0 325.4h.7v.7h-.7zM187.5 325.3h.7v.7h-.7zM189.9 328.7h.7v.7h-.7zM185.3 326.1h.7v.7h-.7zM200.6 329.4h.7v.7h-.7zM179.5 327.3h.7v.7h-.7zM203.8 323.9h.7v.7h-.7zM196.2 328.6h.7v.7h-.7zM191.8 323.4h.7v.7h-.7zM195.9 328.1h.7v.7h-.7zM185.0 327.0h.7v.7h-.7zM194.8 326.0h.7v.7h-.7zM182.8 328.3h.7v.7h-.7zM180.1 329.7h.7v.7h-.7zM191.7 324.7h.7v.7h-.7zM191.2 332.4h.7v.7h-.7zM189.5 329.6h.7v.7h-.7zM197.5 325.2h.7v.7h-.7zM171.4 328.6h.7v.7h-.7zM189.8 326.3h.7v.7h-.7zM190.2 328.9h.7v.7h-.7zM195.8 326.7h.7v.7h-.7zM174.2 329.6h.7v.7h-.7zM185.9 326.5h.7v.7h-.7zM206.5 328.8h.7v.7h-.7zM190.5 327.8h.7v.7h-.7zM189.8 327.7h.7v.7h-.7zM187.9 326.1h.7v.7h-.7zM201.5 325.5h.7v.7h-.7zM192.5 325.5h.7v.7h-.7zM190.3 326.7h.7v.7h-.7zM185.0 326.8h.7v.7h-.7z" fill="#000" fill-opacity="0.28"/>
<ellipse cx="194" cy="321.8" rx="7" ry="2.8" fill="#000" fill-opacity="0.6" filter="url(#blur2)"/>
<ellipse cx="174" cy="321.5" rx="6" ry="2.4" fill="#000" fill-opacity="0.3" filter="url(#blur2)"/>
</g>
<line x1="197.1" y1="307.2" x2="197.1" y2="365.5" stroke="#8888e0" stroke-width="0.75"/>
<line x1="162.2" y1="334.8" x2="220.5" y2="334.8" stroke="#8888e0" stroke-width="0.75"/>
<text x="163.8" y="310.99" font-size="3.6" font-weight="bold" textLength="7.3" lengthAdjust="spacingAndGlyphs" stroke="#222" stroke-width="0.1">66.6</text>
<text x="211.9" y="310.99" font-size="3.6" font-weight="bold" textLength="7.2" lengthAdjust="spacingAndGlyphs" stroke="#222" stroke-width="0.1">33.4</text>
<text x="281.5" y="218.41" font-size="7" font-weight="bold" stroke="#111" stroke-width="0.18" textLength="19.8" lengthAdjust="spacingAndGlyphs">Elderly</text>
<text x="359.6" y="218.41" font-size="7" font-weight="bold" stroke="#111" stroke-width="0.18" textLength="8.9" lengthAdjust="spacingAndGlyphs">ICL</text>
<rect x="261.7" y="220.4" width="62.2" height="62.5" fill="none" stroke="#999" stroke-width="0.8"/>
<line x1="261.7" y1="220.4" x2="261.7" y2="282.9" stroke="#8050a0" stroke-width="0.9"/>
<line x1="261.7" y1="282.9" x2="323.9" y2="282.9" stroke="#555" stroke-width="0.9"/>
<line x1="260.2" y1="283" x2="261.7" y2="283" stroke="#555" stroke-width="0.7"/>
<text x="257.02" y="284.29" font-size="3.6" font-weight="bold" textLength="2.68" lengthAdjust="spacingAndGlyphs" stroke="#333" stroke-width="0.1">0</text>
<line x1="260.2" y1="271.3" x2="261.7" y2="271.3" stroke="#555" stroke-width="0.7"/>
<text x="257.02" y="272.59" font-size="3.6" font-weight="bold" textLength="2.68" lengthAdjust="spacingAndGlyphs" stroke="#333" stroke-width="0.1">20</text>
<line x1="260.2" y1="259.5" x2="261.7" y2="259.5" stroke="#555" stroke-width="0.7"/>
<text x="257.02" y="260.79" font-size="3.6" font-weight="bold" textLength="2.68" lengthAdjust="spacingAndGlyphs" stroke="#333" stroke-width="0.1">40</text>
<line x1="260.2" y1="247.6" x2="261.7" y2="247.6" stroke="#555" stroke-width="0.7"/>
<text x="257.02" y="248.89" font-size="3.6" font-weight="bold" textLength="2.68" lengthAdjust="spacingAndGlyphs" stroke="#333" stroke-width="0.1">60</text>
<line x1="260.2" y1="235.7" x2="261.7" y2="235.7" stroke="#555" stroke-width="0.7"/>
<text x="257.02" y="236.99" font-size="3.6" font-weight="bold" textLength="2.68" lengthAdjust="spacingAndGlyphs" stroke="#333" stroke-width="0.1">80</text>
<line x1="260.2" y1="223.4" x2="261.7" y2="223.4" stroke="#555" stroke-width="0.7"/>
<text x="255.7" y="224.69" font-size="3.6" font-weight="bold" textLength="4" lengthAdjust="spacingAndGlyphs" stroke="#333" stroke-width="0.1">100</text>
<line x1="268.7" y1="282.9" x2="268.7" y2="284.4" stroke="#555" stroke-width="0.7"/>
<line x1="274.6" y1="282.9" x2="274.6" y2="284.4" stroke="#555" stroke-width="0.7"/>
<line x1="289.5" y1="282.9" x2="289.5" y2="284.4" stroke="#555" stroke-width="0.7"/>
<line x1="304.3" y1="282.9" x2="304.3" y2="284.4" stroke="#555" stroke-width="0.7"/>
<line x1="318.2" y1="282.9" x2="318.2" y2="284.4" stroke="#555" stroke-width="0.7"/>
<text x="267.8" y="288.49" font-size="3.6" fill="#333" textLength="1.8" lengthAdjust="spacingAndGlyphs">0</text>
<text x="274.6" y="288.5" font-size="3.6" fill="#333" stroke="#333" stroke-width="0.1" text-anchor="middle">10<tspan dy="-1.4" font-size="2.6">2</tspan></text>
<text x="289.5" y="288.5" font-size="3.6" fill="#333" stroke="#333" stroke-width="0.1" text-anchor="middle">10<tspan dy="-1.4" font-size="2.6">3</tspan></text>
<text x="304.3" y="288.5" font-size="3.6" fill="#333" stroke="#333" stroke-width="0.1" text-anchor="middle">10<tspan dy="-1.4" font-size="2.6">4</tspan></text>
<text x="318.2" y="288.5" font-size="3.6" fill="#333" stroke="#333" stroke-width="0.1" text-anchor="middle">10<tspan dy="-1.4" font-size="2.6">5</tspan></text>
<rect x="334" y="220.4" width="61.8" height="62.3" fill="none" stroke="#999" stroke-width="0.8"/>
<line x1="334" y1="220.4" x2="334" y2="282.7" stroke="#8050a0" stroke-width="0.9"/>
<line x1="334" y1="282.7" x2="395.8" y2="282.7" stroke="#555" stroke-width="0.9"/>
<line x1="332.5" y1="283" x2="334" y2="283" stroke="#555" stroke-width="0.7"/>
<text x="329.32" y="284.29" font-size="3.6" font-weight="bold" textLength="2.68" lengthAdjust="spacingAndGlyphs" stroke="#333" stroke-width="0.1">0</text>
<line x1="332.5" y1="271.3" x2="334" y2="271.3" stroke="#555" stroke-width="0.7"/>
<text x="329.32" y="272.59" font-size="3.6" font-weight="bold" textLength="2.68" lengthAdjust="spacingAndGlyphs" stroke="#333" stroke-width="0.1">20</text>
<line x1="332.5" y1="259.5" x2="334" y2="259.5" stroke="#555" stroke-width="0.7"/>
<text x="329.32" y="260.79" font-size="3.6" font-weight="bold" textLength="2.68" lengthAdjust="spacingAndGlyphs" stroke="#333" stroke-width="0.1">40</text>
<line x1="332.5" y1="247.6" x2="334" y2="247.6" stroke="#555" stroke-width="0.7"/>
<text x="329.32" y="248.89" font-size="3.6" font-weight="bold" textLength="2.68" lengthAdjust="spacingAndGlyphs" stroke="#333" stroke-width="0.1">60</text>
<line x1="332.5" y1="235.7" x2="334" y2="235.7" stroke="#555" stroke-width="0.7"/>
<text x="329.32" y="236.99" font-size="3.6" font-weight="bold" textLength="2.68" lengthAdjust="spacingAndGlyphs" stroke="#333" stroke-width="0.1">80</text>
<line x1="332.5" y1="223.4" x2="334" y2="223.4" stroke="#555" stroke-width="0.7"/>
<text x="328" y="224.69" font-size="3.6" font-weight="bold" textLength="4" lengthAdjust="spacingAndGlyphs" stroke="#333" stroke-width="0.1">100</text>
<line x1="341.4" y1="282.7" x2="341.4" y2="284.2" stroke="#555" stroke-width="0.7"/>
<line x1="346.7" y1="282.7" x2="346.7" y2="284.2" stroke="#555" stroke-width="0.7"/>
<line x1="361.6" y1="282.7" x2="361.6" y2="284.2" stroke="#555" stroke-width="0.7"/>
<line x1="376.4" y1="282.7" x2="376.4" y2="284.2" stroke="#555" stroke-width="0.7"/>
<line x1="390.3" y1="282.7" x2="390.3" y2="284.2" stroke="#555" stroke-width="0.7"/>
<text x="340.5" y="288.49" font-size="3.6" fill="#333" textLength="1.8" lengthAdjust="spacingAndGlyphs">0</text>
<text x="346.7" y="288.5" font-size="3.6" fill="#333" stroke="#333" stroke-width="0.1" text-anchor="middle">10<tspan dy="-1.4" font-size="2.6">2</tspan></text>
<text x="361.6" y="288.5" font-size="3.6" fill="#333" stroke="#333" stroke-width="0.1" text-anchor="middle">10<tspan dy="-1.4" font-size="2.6">3</tspan></text>
<text x="376.4" y="288.5" font-size="3.6" fill="#333" stroke="#333" stroke-width="0.1" text-anchor="middle">10<tspan dy="-1.4" font-size="2.6">4</tspan></text>
<text x="390.3" y="288.5" font-size="3.6" fill="#333" stroke="#333" stroke-width="0.1" text-anchor="middle">10<tspan dy="-1.4" font-size="2.6">5</tspan></text>
<text transform="translate(244.29 266.7) rotate(-90)" x="0" y="0" font-size="6.4" font-weight="bold" stroke="#111" stroke-width="0.22" textLength="24.7" lengthAdjust="spacingAndGlyphs">Relative</text>
<text transform="translate(250.63 281.5) rotate(-90)" x="0" y="0" font-size="6.8" font-weight="bold" stroke="#111" stroke-width="0.22" textLength="54.9" lengthAdjust="spacingAndGlyphs">CD4<tspan font-size="4.2" dy="-1.8">+</tspan><tspan dy="1.8"> T-cell number</tspan></text>
<path d="M262 274.4 L264.5 275.1 L267.1 275.6 L269.7 274.7 L272.3 273.3 L274.9 271.2 L277.5 269.5 L279.3 266 L281 261.7 L282.8 256.4 L284.5 250.3 L285.7 245.1 L287.1 238.2 L288 232.9 L288.9 227.7 L289.4 225.1 L290.1 229.4 L290.6 226 L291.1 232.9 L292 245.1 L293.2 257.3 L294.4 267.8 L295.8 275.6 L297.6 280 L300.2 281.7 L305 282.4 L324 282.6" fill="none" stroke="#d03a30" stroke-width="0.8" stroke-linejoin="round"/>
<path d="M262 280 L266.2 280.8 L271.4 280.3 L274.9 279.1 L278.4 277.3 L281 274.4 L283.6 270.4 L285.7 264.3 L287.5 256.4 L288.9 248.6 L290.3 239.9 L291.5 231.2 L292.3 226 L293.2 224.2 L294.1 226.8 L295.3 232.9 L296.4 241.6 L297.6 252.1 L298.8 262.5 L300.2 273 L301.4 279.1 L303.7 281.7 L308 282.4 L324 282.6" fill="none" stroke="#3030c0" stroke-width="0.8" stroke-linejoin="round"/>
<path d="M333.8 279.1 L337.2 280 L340.7 279.1 L344.2 279.1 L347.7 278.2 L350.3 276.8 L352.6 273.9 L354.3 269.5 L356 266 L357.8 260.8 L359 253.8 L359.9 248.6 L360.7 241.6 L361.6 234.7 L362.8 229.4 L363.9 226 L365.1 224.2 L366 229.4 L366.8 241.6 L367.7 250.3 L368.9 260.8 L370.3 269.5 L372 276.5 L374.7 280 L378.2 281.3 L383 282 L395 282.2" fill="none" stroke="#d03a30" stroke-width="0.8" stroke-linejoin="round"/>
<path d="M333.8 280 L340.7 280.3 L347.7 280 L352 279.1 L355.5 276.5 L358.1 272.1 L360.2 266 L362 259 L363.3 252.1 L364.7 243.4 L366 234.7 L367.2 227.7 L368.2 225.1 L369.4 224.2 L370.7 226.8 L371.7 232.9 L372.9 243.4 L374.1 253.8 L375.5 266 L376.9 274.7 L378.7 279.6 L381.6 281.3 L386 282 L395 282.2" fill="none" stroke="#3030c0" stroke-width="0.8" stroke-linejoin="round"/>
<line x1="260.7" y1="293.2" x2="314.2" y2="293.2" stroke="#111" stroke-width="1.4"/>
<line x1="341.8" y1="293.2" x2="395.2" y2="293.2" stroke="#111" stroke-width="1.4"/>
<text x="319.2" y="294.82" font-size="6.2" font-weight="bold" stroke="#111" stroke-width="0.18" textLength="15.7" lengthAdjust="spacingAndGlyphs">CD40L</text>
<line x1="402" y1="224.9" x2="408.5" y2="224.9" stroke="#d03a30" stroke-width="1.4"/>
<text x="411.2" y="226.09" font-size="5" font-weight="bold" fill="#d03a30" stroke="#d03a30" stroke-width="0.18" textLength="24.2" lengthAdjust="spacingAndGlyphs">SCR siRNA</text>
<line x1="402" y1="232" x2="408.5" y2="232" stroke="#3030c0" stroke-width="1.4"/>
<text x="411.2" y="233.79" font-size="5" font-weight="bold" fill="#3030c0" stroke="#3030c0" stroke-width="0.18" textLength="29.6" lengthAdjust="spacingAndGlyphs"><tspan font-style="italic">DUSP4</tspan> siRNA</text>
<line x1="292.8" y1="307.7" x2="352.8" y2="307.7" stroke="#999" stroke-width="1"/>
<line x1="352.8" y1="307.7" x2="352.8" y2="368.8" stroke="#999" stroke-width="1"/>
<line x1="292.8" y1="307.7" x2="292.8" y2="368.8" stroke="#808080" stroke-width="0.9"/>
<line x1="292.8" y1="368.8" x2="352.8" y2="368.8" stroke="#808080" stroke-width="0.9"/>
<line x1="290.8" y1="368.8" x2="292.8" y2="368.8" stroke="#555" stroke-width="0.8"/>
<text x="290.5" y="370.48" font-size="4.7" font-weight="bold" text-anchor="end" stroke="#111" stroke-width="0.12">0</text>
<line x1="290.8" y1="351.5" x2="292.8" y2="351.5" stroke="#555" stroke-width="0.8"/>
<text x="290.5" y="353.18" font-size="4.7" font-weight="bold" text-anchor="end" stroke="#111" stroke-width="0.12">20</text>
<line x1="290.8" y1="334.2" x2="292.8" y2="334.2" stroke="#555" stroke-width="0.8"/>
<text x="290.5" y="335.88" font-size="4.7" font-weight="bold" text-anchor="end" stroke="#111" stroke-width="0.12">40</text>
<line x1="290.8" y1="316.5" x2="292.8" y2="316.5" stroke="#555" stroke-width="0.8"/>
<text x="290.5" y="318.18" font-size="4.7" font-weight="bold" text-anchor="end" stroke="#111" stroke-width="0.12">60</text>
<line x1="352.8" y1="368.8" x2="354.8" y2="368.8" stroke="#555" stroke-width="0.8"/>
<text x="356.4" y="370.41" font-size="4.5" font-weight="bold" stroke="#111" stroke-width="0.12">0</text>
<line x1="352.8" y1="351.5" x2="354.8" y2="351.5" stroke="#555" stroke-width="0.8"/>
<text x="356.4" y="353.11" font-size="4.5" font-weight="bold" stroke="#111" stroke-width="0.12">20</text>
<line x1="352.8" y1="334.2" x2="354.8" y2="334.2" stroke="#555" stroke-width="0.8"/>
<text x="356.4" y="335.81" font-size="4.5" font-weight="bold" stroke="#111" stroke-width="0.12">40</text>
<line x1="352.8" y1="316.5" x2="354.8" y2="316.5" stroke="#555" stroke-width="0.8"/>
<text x="356.4" y="318.11" font-size="4.5" font-weight="bold" stroke="#111" stroke-width="0.12">60</text>
<text transform="translate(278.53 372.3) rotate(-90)" x="0" y="0" font-size="5.4" font-weight="bold" stroke="#111" stroke-width="0.22" textLength="63" lengthAdjust="spacingAndGlyphs">% increase (CD27<tspan font-size="3.8" dy="-1.6">+</tspan><tspan dy="1.6"> cells)</tspan></text>
<text transform="translate(370.07 309.3) rotate(90)" x="0" y="0" font-size="5.4" font-weight="bold" stroke="#111" stroke-width="0.22" textLength="61.9" lengthAdjust="spacingAndGlyphs">% increase (CD40L MFI)</text>
<rect x="298.1" y="329.2" width="8.1" height="39.6" fill="url(#hatch)" stroke="#222" stroke-width="0.9"/>
<line x1="302.2" y1="329.2" x2="302.2" y2="322.2" stroke="#333" stroke-width="0.8"/>
<line x1="300" y1="322.2" x2="304.4" y2="322.2" stroke="#333" stroke-width="0.8"/>
<rect x="309.6" y="325" width="8.1" height="43.8" fill="#fff" stroke="#222" stroke-width="0.9"/>
<line x1="313.6" y1="325" x2="313.6" y2="317.4" stroke="#333" stroke-width="0.8"/>
<line x1="311.4" y1="317.4" x2="315.8" y2="317.4" stroke="#333" stroke-width="0.8"/>
<rect x="328.8" y="323.8" width="7.8" height="45" fill="url(#hatch)" stroke="#222" stroke-width="0.9"/>
<line x1="332.7" y1="323.8" x2="332.7" y2="317.4" stroke="#333" stroke-width="0.8"/>
<line x1="330.5" y1="317.4" x2="334.9" y2="317.4" stroke="#333" stroke-width="0.8"/>
<rect x="340.1" y="325" width="8.1" height="43.8" fill="#fff" stroke="#222" stroke-width="0.9"/>
<line x1="344.2" y1="325" x2="344.2" y2="322.2" stroke="#333" stroke-width="0.8"/>
<line x1="342" y1="322.2" x2="346.4" y2="322.2" stroke="#333" stroke-width="0.8"/>
<circle cx="302.4" cy="318.6" r="0.8" fill="#111"/>
<circle cx="313.8" cy="312.8" r="0.8" fill="#111"/>
<circle cx="332.6" cy="313.1" r="0.8" fill="#111"/>
<circle cx="344.2" cy="318.6" r="0.8" fill="#111"/>
<text x="302.2" y="376.55" font-size="4.9" font-weight="bold" stroke="#111" stroke-width="0.18" textLength="11.5" lengthAdjust="spacingAndGlyphs">CD27</text>
<text x="332.1" y="376.55" font-size="4.9" font-weight="bold" stroke="#111" stroke-width="0.18" textLength="14.6" lengthAdjust="spacingAndGlyphs">CD40L</text>
<rect x="380.2" y="311.3" width="8.6" height="4.5" fill="url(#hatch)" stroke="#222" stroke-width="0.8"/>
<rect x="380.2" y="319.2" width="8.6" height="5" fill="#fff" stroke="#222" stroke-width="0.8"/>
<text x="392.5" y="315.86" font-size="6.3" font-weight="bold" stroke="#111" stroke-width="0.18" textLength="18.3" lengthAdjust="spacingAndGlyphs">Elderly</text>
<text x="392.5" y="324.16" font-size="6.3" font-weight="bold" stroke="#111" stroke-width="0.18" textLength="8.3" lengthAdjust="spacingAndGlyphs">ICL</text>
</g></svg></body></html>
